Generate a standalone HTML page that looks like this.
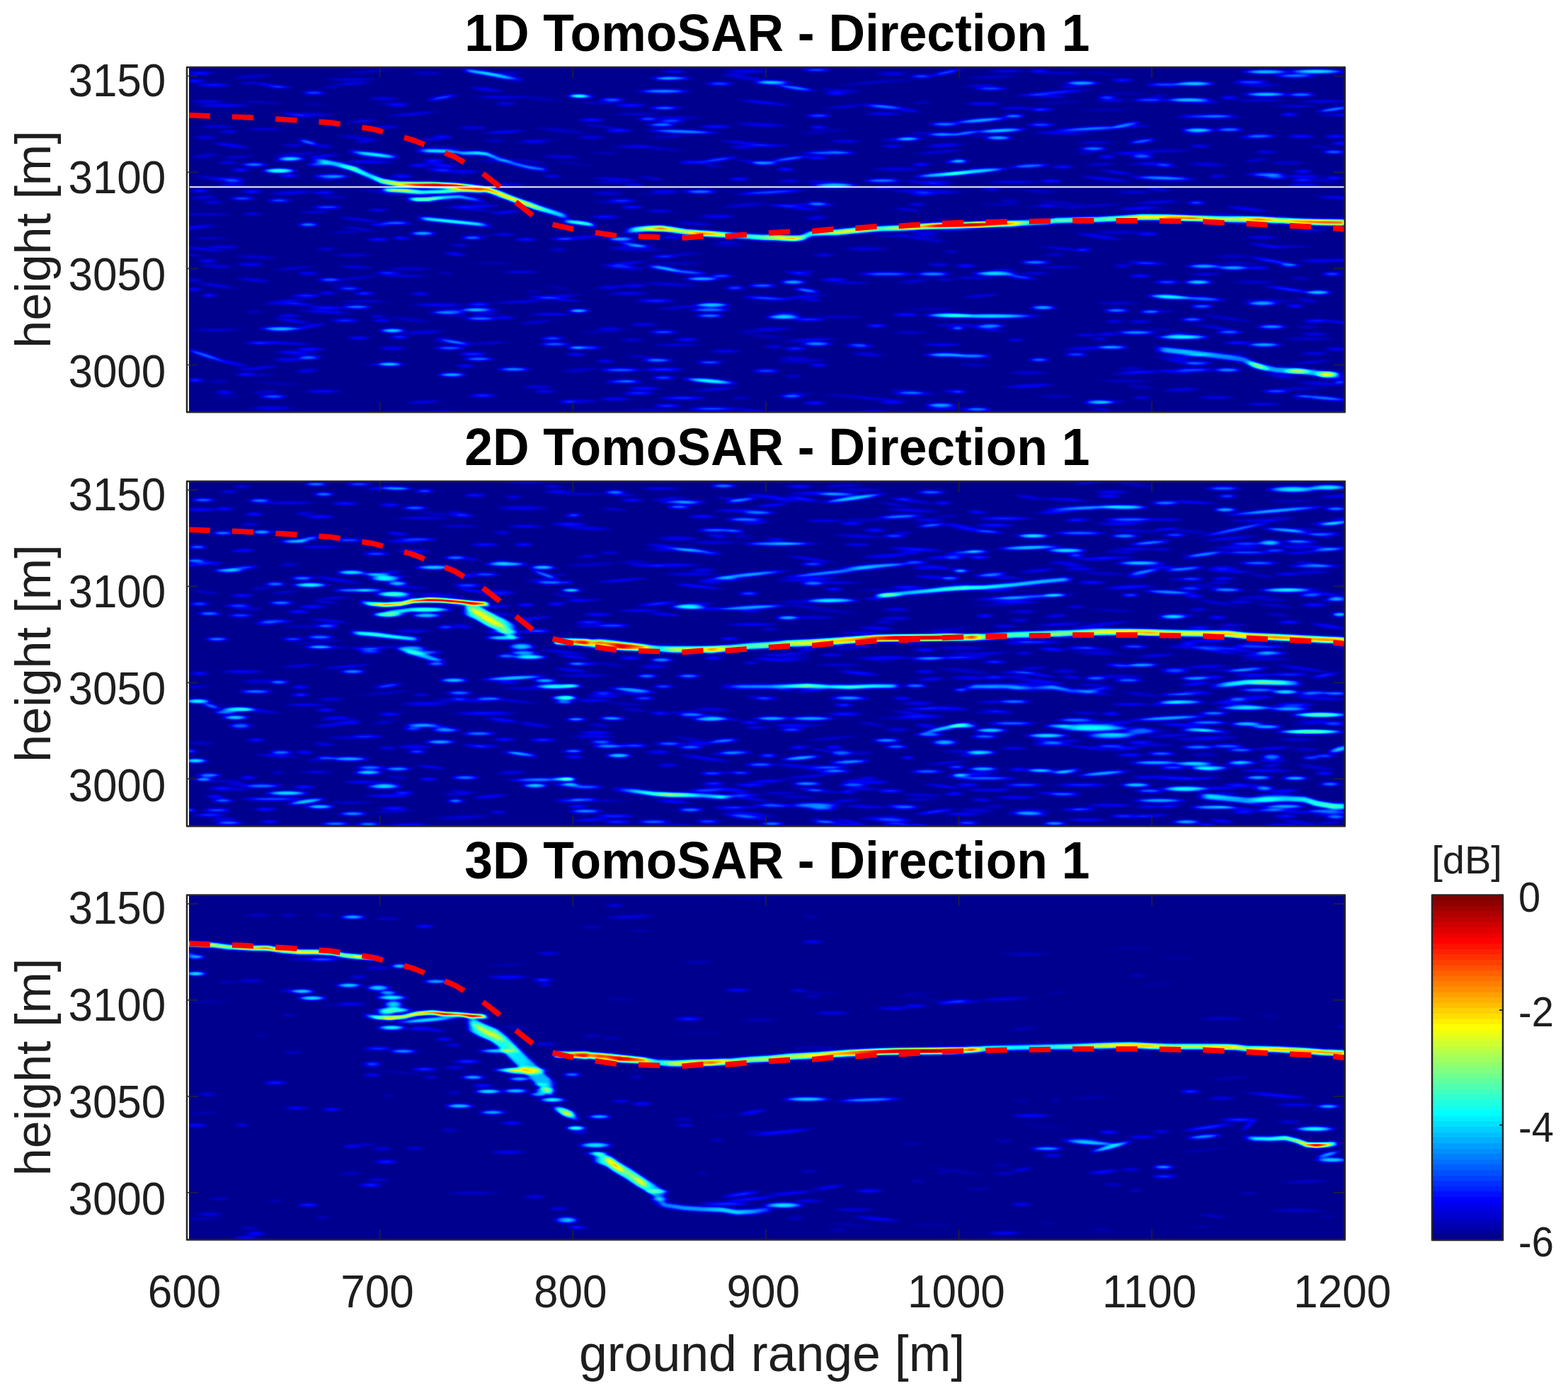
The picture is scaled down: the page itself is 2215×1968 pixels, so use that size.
<!DOCTYPE html>
<html lang="en"><head><meta charset="utf-8"><title>TomoSAR - Direction 1</title>
<style>html,body{margin:0;padding:0;background:#fff}body{width:2215px;height:1968px;overflow:hidden}svg{display:block}text{font-family:"Liberation Sans",Arial,Helvetica,sans-serif}.tk{font-size:62px;fill:#1e1e1e}.cb{font-size:56px;fill:#1e1e1e}.lb{font-size:70px;fill:#1e1e1e}.xl{font-size:71.6px;fill:#1e1e1e}.tt{font-size:71.4px;font-weight:bold;fill:#000}.r{fill:none;stroke-linecap:butt;stroke-linejoin:round}.b{fill:url(#bg)}.dem{fill:none;stroke:#f00;stroke-width:7.7;stroke-dasharray:30.3 31.1;stroke-linejoin:round}</style></head><body>
<svg width="2215" height="1968" viewBox="0 0 2215 1968">
<defs>
<filter id="jet" filterUnits="userSpaceOnUse" x="0" y="0" width="2215" height="1968" color-interpolation-filters="sRGB"><feComponentTransfer><feFuncR type="table" tableValues="0 0 0 0 0 0 0 0 0 0 0 0 0 0 0 0 0 0 0 0 0 0 0 0 0.039 0.101 0.162 0.224 0.285 0.347 0.408 0.47 0.531 0.593 0.654 0.716 0.777 0.839 0.9 0.962 1 1 1 1 1 1 1 1 1 1 1 1 1 1 1 1 0.992 0.931 0.869 0.808 0.746 0.685 0.623 0.562 0.5"/><feFuncG type="table" tableValues="0 0 0 0 0 0 0 0 0.055 0.116 0.178 0.239 0.301 0.362 0.424 0.485 0.547 0.608 0.67 0.731 0.793 0.854 0.916 0.978 1 1 1 1 1 1 1 1 1 1 1 1 1 1 1 1 0.977 0.915 0.854 0.792 0.73 0.669 0.607 0.546 0.484 0.423 0.361 0.3 0.238 0.177 0.115 0.054 0 0 0 0 0 0 0 0 0"/><feFuncB type="table" tableValues="0.562 0.624 0.686 0.747 0.809 0.87 0.932 0.993 1 1 1 1 1 1 1 1 1 1 1 1 1 1 1 1 0.961 0.899 0.838 0.776 0.715 0.653 0.592 0.53 0.469 0.407 0.346 0.284 0.223 0.161 0.1 0.038 0 0 0 0 0 0 0 0 0 0 0 0 0 0 0 0 0 0 0 0 0 0 0 0 0"/></feComponentTransfer></filter>
<filter id="bl" filterUnits="userSpaceOnUse" x="0" y="0" width="2215" height="1968" color-interpolation-filters="sRGB"><feGaussianBlur stdDeviation="2.6 1.8"/></filter>
<filter id="bs" filterUnits="userSpaceOnUse" x="0" y="0" width="2215" height="1968" color-interpolation-filters="sRGB"><feGaussianBlur stdDeviation="2.4 1.0"/></filter>
<radialGradient id="bg"><stop offset="0" stop-color="#fff" stop-opacity="1"/><stop offset="0.35" stop-color="#fff" stop-opacity="0.95"/><stop offset="0.55" stop-color="#fff" stop-opacity="0.75"/><stop offset="0.72" stop-color="#fff" stop-opacity="0.45"/><stop offset="0.87" stop-color="#fff" stop-opacity="0.16"/><stop offset="1" stop-color="#fff" stop-opacity="0"/></radialGradient>
<linearGradient id="cbg" x1="0" y1="1" x2="0" y2="0"><stop offset="0.0000" stop-color="#00008f"/><stop offset="0.0156" stop-color="#00008f"/><stop offset="0.0156" stop-color="#00009f"/><stop offset="0.0312" stop-color="#00009f"/><stop offset="0.0312" stop-color="#0000af"/><stop offset="0.0469" stop-color="#0000af"/><stop offset="0.0469" stop-color="#0000bf"/><stop offset="0.0625" stop-color="#0000bf"/><stop offset="0.0625" stop-color="#0000cf"/><stop offset="0.0781" stop-color="#0000cf"/><stop offset="0.0781" stop-color="#0000df"/><stop offset="0.0938" stop-color="#0000df"/><stop offset="0.0938" stop-color="#0000ef"/><stop offset="0.1094" stop-color="#0000ef"/><stop offset="0.1094" stop-color="#0000ff"/><stop offset="0.1250" stop-color="#0000ff"/><stop offset="0.1250" stop-color="#0010ff"/><stop offset="0.1406" stop-color="#0010ff"/><stop offset="0.1406" stop-color="#0020ff"/><stop offset="0.1562" stop-color="#0020ff"/><stop offset="0.1562" stop-color="#0030ff"/><stop offset="0.1719" stop-color="#0030ff"/><stop offset="0.1719" stop-color="#0040ff"/><stop offset="0.1875" stop-color="#0040ff"/><stop offset="0.1875" stop-color="#0050ff"/><stop offset="0.2031" stop-color="#0050ff"/><stop offset="0.2031" stop-color="#0060ff"/><stop offset="0.2188" stop-color="#0060ff"/><stop offset="0.2188" stop-color="#0070ff"/><stop offset="0.2344" stop-color="#0070ff"/><stop offset="0.2344" stop-color="#0080ff"/><stop offset="0.2500" stop-color="#0080ff"/><stop offset="0.2500" stop-color="#008fff"/><stop offset="0.2656" stop-color="#008fff"/><stop offset="0.2656" stop-color="#009fff"/><stop offset="0.2812" stop-color="#009fff"/><stop offset="0.2812" stop-color="#00afff"/><stop offset="0.2969" stop-color="#00afff"/><stop offset="0.2969" stop-color="#00bfff"/><stop offset="0.3125" stop-color="#00bfff"/><stop offset="0.3125" stop-color="#00cfff"/><stop offset="0.3281" stop-color="#00cfff"/><stop offset="0.3281" stop-color="#00dfff"/><stop offset="0.3438" stop-color="#00dfff"/><stop offset="0.3438" stop-color="#00efff"/><stop offset="0.3594" stop-color="#00efff"/><stop offset="0.3594" stop-color="#00ffff"/><stop offset="0.3750" stop-color="#00ffff"/><stop offset="0.3750" stop-color="#10ffef"/><stop offset="0.3906" stop-color="#10ffef"/><stop offset="0.3906" stop-color="#20ffdf"/><stop offset="0.4062" stop-color="#20ffdf"/><stop offset="0.4062" stop-color="#30ffcf"/><stop offset="0.4219" stop-color="#30ffcf"/><stop offset="0.4219" stop-color="#40ffbf"/><stop offset="0.4375" stop-color="#40ffbf"/><stop offset="0.4375" stop-color="#50ffaf"/><stop offset="0.4531" stop-color="#50ffaf"/><stop offset="0.4531" stop-color="#60ff9f"/><stop offset="0.4688" stop-color="#60ff9f"/><stop offset="0.4688" stop-color="#70ff8f"/><stop offset="0.4844" stop-color="#70ff8f"/><stop offset="0.4844" stop-color="#80ff80"/><stop offset="0.5000" stop-color="#80ff80"/><stop offset="0.5000" stop-color="#8fff70"/><stop offset="0.5156" stop-color="#8fff70"/><stop offset="0.5156" stop-color="#9fff60"/><stop offset="0.5312" stop-color="#9fff60"/><stop offset="0.5312" stop-color="#afff50"/><stop offset="0.5469" stop-color="#afff50"/><stop offset="0.5469" stop-color="#bfff40"/><stop offset="0.5625" stop-color="#bfff40"/><stop offset="0.5625" stop-color="#cfff30"/><stop offset="0.5781" stop-color="#cfff30"/><stop offset="0.5781" stop-color="#dfff20"/><stop offset="0.5938" stop-color="#dfff20"/><stop offset="0.5938" stop-color="#efff10"/><stop offset="0.6094" stop-color="#efff10"/><stop offset="0.6094" stop-color="#ffff00"/><stop offset="0.6250" stop-color="#ffff00"/><stop offset="0.6250" stop-color="#ffef00"/><stop offset="0.6406" stop-color="#ffef00"/><stop offset="0.6406" stop-color="#ffdf00"/><stop offset="0.6562" stop-color="#ffdf00"/><stop offset="0.6562" stop-color="#ffcf00"/><stop offset="0.6719" stop-color="#ffcf00"/><stop offset="0.6719" stop-color="#ffbf00"/><stop offset="0.6875" stop-color="#ffbf00"/><stop offset="0.6875" stop-color="#ffaf00"/><stop offset="0.7031" stop-color="#ffaf00"/><stop offset="0.7031" stop-color="#ff9f00"/><stop offset="0.7188" stop-color="#ff9f00"/><stop offset="0.7188" stop-color="#ff8f00"/><stop offset="0.7344" stop-color="#ff8f00"/><stop offset="0.7344" stop-color="#ff8000"/><stop offset="0.7500" stop-color="#ff8000"/><stop offset="0.7500" stop-color="#ff7000"/><stop offset="0.7656" stop-color="#ff7000"/><stop offset="0.7656" stop-color="#ff6000"/><stop offset="0.7812" stop-color="#ff6000"/><stop offset="0.7812" stop-color="#ff5000"/><stop offset="0.7969" stop-color="#ff5000"/><stop offset="0.7969" stop-color="#ff4000"/><stop offset="0.8125" stop-color="#ff4000"/><stop offset="0.8125" stop-color="#ff3000"/><stop offset="0.8281" stop-color="#ff3000"/><stop offset="0.8281" stop-color="#ff2000"/><stop offset="0.8438" stop-color="#ff2000"/><stop offset="0.8438" stop-color="#ff1000"/><stop offset="0.8594" stop-color="#ff1000"/><stop offset="0.8594" stop-color="#ff0000"/><stop offset="0.8750" stop-color="#ff0000"/><stop offset="0.8750" stop-color="#ef0000"/><stop offset="0.8906" stop-color="#ef0000"/><stop offset="0.8906" stop-color="#df0000"/><stop offset="0.9062" stop-color="#df0000"/><stop offset="0.9062" stop-color="#cf0000"/><stop offset="0.9219" stop-color="#cf0000"/><stop offset="0.9219" stop-color="#bf0000"/><stop offset="0.9375" stop-color="#bf0000"/><stop offset="0.9375" stop-color="#af0000"/><stop offset="0.9531" stop-color="#af0000"/><stop offset="0.9531" stop-color="#9f0000"/><stop offset="0.9688" stop-color="#9f0000"/><stop offset="0.9688" stop-color="#8f0000"/><stop offset="0.9844" stop-color="#8f0000"/><stop offset="0.9844" stop-color="#800000"/><stop offset="1.0000" stop-color="#800000"/></linearGradient>
<clipPath id="cp1"><rect x="267.5" y="95" width="1632.3" height="487.2"/></clipPath>
<clipPath id="cp2"><rect x="267.5" y="680" width="1632.3" height="487.2"/></clipPath>
<clipPath id="cp3"><rect x="267.5" y="1264.4" width="1632.3" height="487.2"/></clipPath>
<path id="dem" d="M266.5 67.9L342 70.5L404 74L465.5 78.1L527 87.5L577 101L585 103.5L642 126.5L681.6 149.8L705.2 168.2L727.8 189.8L752.5 209.3L780.2 222.1L810 228.8L840.8 233.6L871.2 238.1L902 239.1L932.9 240.1L963.1 241.1L993.9 238.6L1024.7 238.9L1054.9 236.4L1086.7 234.2L1116.5 232.2L1147.3 231.6L1177.1 228.6L1209 227.4L1238.8 224.8L1270 224.3L1300.4 222.3L1332.2 220.6L1361.6 219.6L1392.5 218.8L1423.7 218.2L1454.5 217.8L1516.7 216.8L1545.9 216.8L1607.5 216.8L1639 217.2L1668.8 217.6L1700 218.2L1730.8 219.8L1761.6 220.9L1791.6 222.8L1822.9 223.9L1853.7 225.4L1884.5 227.4L1898.5 228.9"/>
</defs>
<rect width="2215" height="1968" fill="#fff"/>
<g id="panel1">
<g clip-path="url(#cp1)"><g filter="url(#jet)">
<rect x="247.5" y="75" width="1672.3" height="527.2" fill="#000"/>
<g filter="url(#bs)">
<ellipse class="b" cx="624.4" cy="137.9" rx="25.1" ry="3.5" opacity="0.19" transform="rotate(-10 624.4 137.9)"/>
<ellipse class="b" cx="410.7" cy="224.2" rx="23.2" ry="4.1" opacity="0.33"/>
<ellipse class="b" cx="358.6" cy="232.5" rx="21.3" ry="3.7" opacity="0.24"/>
<ellipse class="b" cx="394.2" cy="241.2" rx="27" ry="4.5" opacity="0.42"/>
<ellipse class="b" cx="339.5" cy="240.1" rx="15.5" ry="3.2" opacity="0.14"/>
<ellipse class="b" cx="468.2" cy="248.9" rx="30.9" ry="3.7" opacity="0.24"/>
<ellipse class="b" cx="435.3" cy="201" rx="17.4" ry="3.7" opacity="0.24" transform="rotate(15 435.3 201)"/>
<ellipse class="b" cx="323" cy="185.9" rx="17.4" ry="3" opacity="0.10"/>
<ellipse class="b" cx="290.1" cy="194.1" rx="19.3" ry="3" opacity="0.10"/>
<ellipse class="b" cx="281.9" cy="103.7" rx="21.3" ry="3.2" opacity="0.14"/>
<ellipse class="b" cx="301.1" cy="120.1" rx="28.9" ry="3.2" opacity="0.14"/>
<ellipse class="b" cx="276.4" cy="114.7" rx="15.5" ry="3.2" opacity="0.14"/>
<ellipse class="b" cx="394.2" cy="122.9" rx="21.3" ry="3" opacity="0.10"/>
<ellipse class="b" cx="443.6" cy="131.1" rx="19.3" ry="3.5" opacity="0.19"/>
<ellipse class="b" cx="292.9" cy="143.4" rx="28.9" ry="3" opacity="0.10"/>
<ellipse class="b" cx="542.2" cy="139.3" rx="25.1" ry="3" opacity="0.10"/>
<ellipse class="b" cx="561.4" cy="148.9" rx="17.4" ry="3" opacity="0.10"/>
<ellipse class="b" cx="668.2" cy="180.4" rx="25.1" ry="3" opacity="0.10"/>
<ellipse class="b" cx="624.4" cy="193.6" rx="17.4" ry="3.2" opacity="0.14"/>
<ellipse class="b" cx="816.2" cy="135.2" rx="15.5" ry="3.7" opacity="0.24"/>
<ellipse class="b" cx="602.5" cy="103.7" rx="25.1" ry="2.9" opacity="0.07"/>
<ellipse class="b" cx="331.2" cy="255.8" rx="17.4" ry="3.2" opacity="0.14"/>
<ellipse class="b" cx="295.6" cy="218.8" rx="17.4" ry="2.9" opacity="0.07"/>
<ellipse class="b" cx="323" cy="229.7" rx="17.4" ry="3" opacity="0.10"/>
<ellipse class="b" cx="407.9" cy="248.4" rx="17.4" ry="3.2" opacity="0.14"/>
<ellipse class="b" cx="449" cy="232.5" rx="19.3" ry="3.5" opacity="0.19"/>
<ellipse class="b" cx="355.9" cy="270.8" rx="17.4" ry="3.2" opacity="0.14"/>
<ellipse class="b" cx="281.9" cy="269.5" rx="15.5" ry="3.2" opacity="0.14"/>
<ellipse class="b" cx="342.2" cy="280.4" rx="21.3" ry="3.5" opacity="0.19"/>
<ellipse class="b" cx="394.2" cy="283.2" rx="19.3" ry="3.5" opacity="0.19"/>
<ellipse class="b" cx="301.1" cy="285.9" rx="17.4" ry="3" opacity="0.10"/>
<ellipse class="b" cx="457.3" cy="272.2" rx="19.3" ry="3.2" opacity="0.14"/>
<ellipse class="b" cx="462.7" cy="292.7" rx="25.1" ry="3.5" opacity="0.19"/>
<ellipse class="b" cx="435.3" cy="317.4" rx="17.4" ry="3.7" opacity="0.24"/>
<ellipse class="b" cx="355.9" cy="302.3" rx="15.5" ry="3" opacity="0.10"/>
<ellipse class="b" cx="558.6" cy="314.7" rx="25.1" ry="3.5" opacity="0.19"/>
<ellipse class="b" cx="597" cy="329.7" rx="21.3" ry="3.9" opacity="0.29"/>
<ellipse class="b" cx="534" cy="296.8" rx="17.4" ry="3" opacity="0.10"/>
<ellipse class="b" cx="536.7" cy="317.4" rx="17.4" ry="3.2" opacity="0.14"/>
<ellipse class="b" cx="780.5" cy="248.9" rx="15.5" ry="3" opacity="0.10"/>
<ellipse class="b" cx="665.5" cy="335.2" rx="17.4" ry="3" opacity="0.10"/>
<ellipse class="b" cx="712.1" cy="331.1" rx="19.3" ry="3" opacity="0.10"/>
<ellipse class="b" cx="613.4" cy="227" rx="17.4" ry="3.2" opacity="0.14"/>
<ellipse class="b" cx="591.5" cy="233.8" rx="17.4" ry="3.2" opacity="0.14"/>
<ellipse class="b" cx="621.6" cy="240.1" rx="21.3" ry="3.2" opacity="0.14"/>
<ellipse class="b" cx="566.8" cy="248.9" rx="19.3" ry="3.2" opacity="0.14"/>
<ellipse class="b" cx="514.8" cy="199.6" rx="15.5" ry="3" opacity="0.10"/>
<ellipse class="b" cx="457.3" cy="206.4" rx="15.5" ry="3" opacity="0.10"/>
<ellipse class="b" cx="350.4" cy="117.4" rx="15.5" ry="2.9" opacity="0.07"/>
<ellipse class="b" cx="468.2" cy="122.9" rx="15.5" ry="2.9" opacity="0.07"/>
<ellipse class="b" cx="947.9" cy="110.5" rx="32.8" ry="3.7" opacity="0.24"/>
<ellipse class="b" cx="1016.4" cy="118.2" rx="23.2" ry="3.5" opacity="0.19"/>
<ellipse class="b" cx="1090.4" cy="116.6" rx="28.9" ry="4" opacity="0.32"/>
<ellipse class="b" cx="1123.3" cy="124.2" rx="32.8" ry="3.7" opacity="0.24" transform="rotate(8 1123.3 124.2)"/>
<ellipse class="b" cx="1153.4" cy="98.8" rx="23.2" ry="3.5" opacity="0.19"/>
<ellipse class="b" cx="1301.4" cy="107.8" rx="19.3" ry="3.5" opacity="0.19"/>
<ellipse class="b" cx="1337" cy="102.3" rx="27" ry="3.5" opacity="0.19" transform="rotate(-12 1337 102.3)"/>
<ellipse class="b" cx="937" cy="128.9" rx="42.4" ry="3.8" opacity="0.26"/>
<ellipse class="b" cx="819.2" cy="136" rx="21.3" ry="3.5" opacity="0.19"/>
<ellipse class="b" cx="863" cy="140.7" rx="19.3" ry="3.5" opacity="0.19"/>
<ellipse class="b" cx="1180.8" cy="131.9" rx="19.3" ry="3.2" opacity="0.14"/>
<ellipse class="b" cx="890.4" cy="148.9" rx="27" ry="3.2" opacity="0.14"/>
<ellipse class="b" cx="937" cy="152.5" rx="23.2" ry="3.5" opacity="0.19"/>
<ellipse class="b" cx="1249.3" cy="150.8" rx="34.7" ry="3.7" opacity="0.24" transform="rotate(5 1249.3 150.8)"/>
<ellipse class="b" cx="1156.2" cy="163.4" rx="21.3" ry="3.5" opacity="0.19"/>
<ellipse class="b" cx="835.6" cy="169.5" rx="23.2" ry="3.2" opacity="0.14"/>
<ellipse class="b" cx="915.1" cy="168.1" rx="17.4" ry="3.5" opacity="0.19"/>
<ellipse class="b" cx="947.9" cy="170.8" rx="23.2" ry="3.5" opacity="0.19"/>
<ellipse class="b" cx="934.2" cy="176.3" rx="23.2" ry="3.7" opacity="0.24"/>
<ellipse class="b" cx="1011" cy="179" rx="27" ry="3.2" opacity="0.14"/>
<ellipse class="b" cx="874" cy="184.5" rx="23.2" ry="3.2" opacity="0.14"/>
<ellipse class="b" cx="964.4" cy="185.9" rx="57.7" ry="3.8" opacity="0.26" transform="rotate(2 964.4 185.9)"/>
<ellipse class="b" cx="1334.2" cy="175.5" rx="25.1" ry="3.7" opacity="0.24"/>
<ellipse class="b" cx="1156.2" cy="179.9" rx="15.5" ry="3.2" opacity="0.14"/>
<ellipse class="b" cx="835.6" cy="194.1" rx="23.2" ry="3" opacity="0.10"/>
<ellipse class="b" cx="1331.5" cy="190" rx="27" ry="3.8" opacity="0.26"/>
<ellipse class="b" cx="1282.2" cy="196.3" rx="19.3" ry="3.6" opacity="0.22"/>
<ellipse class="b" cx="1194.5" cy="199.6" rx="27" ry="3" opacity="0.10"/>
<ellipse class="b" cx="1260.3" cy="206.4" rx="19.3" ry="3" opacity="0.10"/>
<ellipse class="b" cx="1049.3" cy="207.8" rx="23.2" ry="3" opacity="0.10"/>
<ellipse class="b" cx="1169.9" cy="216" rx="42.4" ry="3.6" opacity="0.22"/>
<ellipse class="b" cx="1115.1" cy="224.2" rx="32.8" ry="3.6" opacity="0.22" transform="rotate(-8 1115.1 224.2)"/>
<ellipse class="b" cx="1079.5" cy="230.3" rx="23.2" ry="3.8" opacity="0.26"/>
<ellipse class="b" cx="1153.4" cy="222.9" rx="19.3" ry="3.2" opacity="0.14"/>
<ellipse class="b" cx="1013.7" cy="225.6" rx="32.8" ry="3.5" opacity="0.19" transform="rotate(-8 1013.7 225.6)"/>
<ellipse class="b" cx="978.1" cy="229.2" rx="23.2" ry="3.2" opacity="0.14"/>
<ellipse class="b" cx="1350.7" cy="228.4" rx="19.3" ry="3.5" opacity="0.19"/>
<ellipse class="b" cx="1301.4" cy="232.5" rx="15.5" ry="3.2" opacity="0.14"/>
<ellipse class="b" cx="1109.6" cy="239.3" rx="15.5" ry="3.2" opacity="0.14"/>
<ellipse class="b" cx="1043.8" cy="253" rx="17.4" ry="3.2" opacity="0.14"/>
<ellipse class="b" cx="1246.6" cy="255.2" rx="30.9" ry="3.7" opacity="0.24"/>
<ellipse class="b" cx="1331.5" cy="246.7" rx="46.2" ry="4.1" opacity="0.33" transform="rotate(-4 1331.5 246.7)"/>
<ellipse class="b" cx="1178.1" cy="262.1" rx="38.5" ry="4.1" opacity="0.33"/>
<ellipse class="b" cx="1115.1" cy="255.8" rx="19.3" ry="3" opacity="0.10"/>
<ellipse class="b" cx="989" cy="270.8" rx="27" ry="3.7" opacity="0.24"/>
<ellipse class="b" cx="1087.7" cy="271.6" rx="57.7" ry="3.5" opacity="0.19" transform="rotate(-3 1087.7 271.6)"/>
<ellipse class="b" cx="879.5" cy="283.2" rx="23.2" ry="3.2" opacity="0.14"/>
<ellipse class="b" cx="893.2" cy="292.7" rx="19.3" ry="3.2" opacity="0.14"/>
<ellipse class="b" cx="1153.4" cy="287.3" rx="17.4" ry="3.5" opacity="0.19"/>
<ellipse class="b" cx="1295.9" cy="288.6" rx="15.5" ry="3" opacity="0.10"/>
<ellipse class="b" cx="931.5" cy="298.2" rx="23.2" ry="3" opacity="0.10"/>
<ellipse class="b" cx="854.8" cy="306.4" rx="23.2" ry="3.2" opacity="0.14"/>
<ellipse class="b" cx="937" cy="270.8" rx="23.2" ry="3" opacity="0.10"/>
<ellipse class="b" cx="1788.4" cy="101.5" rx="38.5" ry="4" opacity="0.32"/>
<ellipse class="b" cx="1859.6" cy="101" rx="46.2" ry="4.2" opacity="0.35"/>
<ellipse class="b" cx="1829.5" cy="107" rx="32.8" ry="3.7" opacity="0.24"/>
<ellipse class="b" cx="1528.1" cy="117.4" rx="28.9" ry="3.9" opacity="0.29"/>
<ellipse class="b" cx="1687" cy="118.2" rx="32.8" ry="4.1" opacity="0.33"/>
<ellipse class="b" cx="1645.9" cy="119.6" rx="32.8" ry="3.5" opacity="0.19"/>
<ellipse class="b" cx="1399.3" cy="125.1" rx="27" ry="3.5" opacity="0.19"/>
<ellipse class="b" cx="1487" cy="131.1" rx="61.5" ry="3.3" opacity="0.16" transform="rotate(-5 1487 131.1)"/>
<ellipse class="b" cx="1788.4" cy="133.3" rx="36.6" ry="4" opacity="0.32"/>
<ellipse class="b" cx="1837.7" cy="133.8" rx="23.2" ry="3.7" opacity="0.24"/>
<ellipse class="b" cx="1766.4" cy="116" rx="28.9" ry="3.5" opacity="0.19"/>
<ellipse class="b" cx="1585.6" cy="113.3" rx="19.3" ry="3.2" opacity="0.14"/>
<ellipse class="b" cx="1467.8" cy="100.4" rx="17.4" ry="3.2" opacity="0.14"/>
<ellipse class="b" cx="1678.8" cy="141.2" rx="38.5" ry="4" opacity="0.32"/>
<ellipse class="b" cx="1624" cy="141.2" rx="28.9" ry="3.5" opacity="0.19"/>
<ellipse class="b" cx="1563.7" cy="137.9" rx="15.5" ry="3.5" opacity="0.19"/>
<ellipse class="b" cx="1736.3" cy="137.9" rx="15.5" ry="3.2" opacity="0.14"/>
<ellipse class="b" cx="1884.2" cy="154.4" rx="28.9" ry="3.7" opacity="0.24" transform="rotate(-8 1884.2 154.4)"/>
<ellipse class="b" cx="1473.3" cy="154.4" rx="19.3" ry="3.2" opacity="0.14"/>
<ellipse class="b" cx="1706.2" cy="164.5" rx="51.9" ry="3.5" opacity="0.19"/>
<ellipse class="b" cx="1821.2" cy="161.8" rx="15.5" ry="3.2" opacity="0.14"/>
<ellipse class="b" cx="1385.6" cy="170" rx="46.2" ry="3.9" opacity="0.29" transform="rotate(-5 1385.6 170)"/>
<ellipse class="b" cx="1432.2" cy="164" rx="17.4" ry="3.7" opacity="0.24"/>
<ellipse class="b" cx="1470.5" cy="176.3" rx="23.2" ry="3.5" opacity="0.19"/>
<ellipse class="b" cx="1413" cy="184.5" rx="42.4" ry="4" opacity="0.32" transform="rotate(-3 1413 184.5)"/>
<ellipse class="b" cx="1363.7" cy="188.1" rx="23.2" ry="3.7" opacity="0.24" transform="rotate(-8 1363.7 188.1)"/>
<ellipse class="b" cx="1541.8" cy="181.8" rx="61.5" ry="3.7" opacity="0.24" transform="rotate(-3 1541.8 181.8)"/>
<ellipse class="b" cx="1591.1" cy="176.3" rx="23.2" ry="3.7" opacity="0.24" transform="rotate(-10 1591.1 176.3)"/>
<ellipse class="b" cx="1692.5" cy="184" rx="27" ry="4.1" opacity="0.33"/>
<ellipse class="b" cx="1736.3" cy="183.2" rx="23.2" ry="3.7" opacity="0.24"/>
<ellipse class="b" cx="1410.3" cy="194.7" rx="23.2" ry="3.9" opacity="0.29"/>
<ellipse class="b" cx="1780.1" cy="192.2" rx="27" ry="3.6" opacity="0.22"/>
<ellipse class="b" cx="1837.7" cy="192.7" rx="23.2" ry="3.2" opacity="0.14"/>
<ellipse class="b" cx="1613" cy="199.6" rx="23.2" ry="3.6" opacity="0.22" transform="rotate(-8 1613 199.6)"/>
<ellipse class="b" cx="1887" cy="192.7" rx="19.3" ry="3.2" opacity="0.14"/>
<ellipse class="b" cx="1892.5" cy="202.3" rx="13.6" ry="3.2" opacity="0.14"/>
<ellipse class="b" cx="1544.5" cy="210" rx="23.2" ry="3.7" opacity="0.24"/>
<ellipse class="b" cx="1613" cy="221" rx="19.3" ry="3.6" opacity="0.22"/>
<ellipse class="b" cx="1563.7" cy="221.5" rx="13.6" ry="3.2" opacity="0.14"/>
<ellipse class="b" cx="1884.2" cy="214.7" rx="19.3" ry="3.6" opacity="0.22"/>
<ellipse class="b" cx="1695.2" cy="206.4" rx="19.3" ry="3" opacity="0.10"/>
<ellipse class="b" cx="1788.4" cy="214.7" rx="19.3" ry="3" opacity="0.10"/>
<ellipse class="b" cx="1645.9" cy="232.5" rx="15.5" ry="3.2" opacity="0.14"/>
<ellipse class="b" cx="1377.4" cy="242.1" rx="53.8" ry="4.2" opacity="0.35" transform="rotate(-5 1377.4 242.1)"/>
<ellipse class="b" cx="1454.1" cy="234.4" rx="32.8" ry="3.7" opacity="0.24" transform="rotate(-3 1454.1 234.4)"/>
<ellipse class="b" cx="1355.5" cy="227" rx="13.6" ry="3.5" opacity="0.19"/>
<ellipse class="b" cx="1500.7" cy="235.8" rx="19.3" ry="3.2" opacity="0.14"/>
<ellipse class="b" cx="1643.2" cy="251.6" rx="51.9" ry="3.8" opacity="0.26" transform="rotate(2 1643.2 251.6)"/>
<ellipse class="b" cx="1788.4" cy="246.2" rx="32.8" ry="3.5" opacity="0.19"/>
<ellipse class="b" cx="1802.1" cy="250.3" rx="19.3" ry="3.5" opacity="0.19"/>
<ellipse class="b" cx="1840.4" cy="242.1" rx="15.5" ry="3.2" opacity="0.14"/>
<ellipse class="b" cx="1840.4" cy="254.4" rx="19.3" ry="3.3" opacity="0.16"/>
<ellipse class="b" cx="1884.2" cy="251.6" rx="15.5" ry="3.2" opacity="0.14"/>
<ellipse class="b" cx="1484.2" cy="255.8" rx="19.3" ry="3.2" opacity="0.14"/>
<ellipse class="b" cx="1432.2" cy="257.1" rx="42.4" ry="3" opacity="0.10"/>
<ellipse class="b" cx="1719.9" cy="248.9" rx="15.5" ry="3" opacity="0.10"/>
<ellipse class="b" cx="1689.7" cy="286.4" rx="15.5" ry="3.5" opacity="0.19"/>
<ellipse class="b" cx="1426.7" cy="284" rx="15.5" ry="2.9" opacity="0.07"/>
<ellipse class="b" cx="1478.8" cy="289.5" rx="13.6" ry="2.9" opacity="0.07"/>
<ellipse class="b" cx="1621.2" cy="330.5" rx="19.3" ry="3.2" opacity="0.14"/>
<ellipse class="b" cx="1399.3" cy="267.5" rx="15.5" ry="3" opacity="0.10"/>
<ellipse class="b" cx="397" cy="464.3" rx="34.7" ry="3.8" opacity="0.29"/>
<ellipse class="b" cx="438.1" cy="461" rx="27" ry="3.3" opacity="0.12" transform="rotate(-10 438.1 461)"/>
<ellipse class="b" cx="487.4" cy="452.8" rx="23.2" ry="3.4" opacity="0.16"/>
<ellipse class="b" cx="554.5" cy="467.1" rx="21.3" ry="4" opacity="0.33"/>
<ellipse class="b" cx="564.1" cy="476.1" rx="15.5" ry="3.4" opacity="0.16"/>
<ellipse class="b" cx="550.4" cy="514.5" rx="21.3" ry="3.8" opacity="0.28"/>
<ellipse class="b" cx="638.1" cy="529.5" rx="23.2" ry="3.8" opacity="0.29"/>
<ellipse class="b" cx="632.6" cy="441.3" rx="28.9" ry="3.7" opacity="0.25"/>
<ellipse class="b" cx="673.7" cy="436.9" rx="25.1" ry="3.6" opacity="0.21"/>
<ellipse class="b" cx="676.4" cy="430.1" rx="19.3" ry="3.4" opacity="0.16"/>
<ellipse class="b" cx="679.2" cy="450.1" rx="27" ry="3.6" opacity="0.23"/>
<ellipse class="b" cx="712.1" cy="448.7" rx="19.3" ry="3.3" opacity="0.12"/>
<ellipse class="b" cx="725.8" cy="521.8" rx="27" ry="3.7" opacity="0.25"/>
<ellipse class="b" cx="676.4" cy="507.1" rx="25.1" ry="3.6" opacity="0.23"/>
<ellipse class="b" cx="668.2" cy="500.2" rx="23.2" ry="3.4" opacity="0.16"/>
<ellipse class="b" cx="635.3" cy="491.7" rx="25.1" ry="3.6" opacity="0.21"/>
<ellipse class="b" cx="640.8" cy="482.9" rx="30.9" ry="3.5" opacity="0.19" transform="rotate(12 640.8 482.9)"/>
<ellipse class="b" cx="780.5" cy="478" rx="19.3" ry="3.5" opacity="0.19"/>
<ellipse class="b" cx="783.3" cy="486.2" rx="25.1" ry="3.6" opacity="0.21"/>
<ellipse class="b" cx="816.2" cy="439.1" rx="15.5" ry="3.5" opacity="0.19"/>
<ellipse class="b" cx="813.4" cy="491.2" rx="15.5" ry="3.4" opacity="0.16"/>
<ellipse class="b" cx="290.1" cy="502.1" rx="34.7" ry="3.6" opacity="0.23" transform="rotate(18 290.1 502.1)"/>
<ellipse class="b" cx="328.5" cy="513.1" rx="27" ry="3.3" opacity="0.12" transform="rotate(12 328.5 513.1)"/>
<ellipse class="b" cx="435.3" cy="505.4" rx="19.3" ry="3.6" opacity="0.23"/>
<ellipse class="b" cx="407.9" cy="508.2" rx="27" ry="3.3" opacity="0.12"/>
<ellipse class="b" cx="438.1" cy="493.4" rx="23.2" ry="3.3" opacity="0.14"/>
<ellipse class="b" cx="350.4" cy="521.3" rx="19.3" ry="3" opacity="0.08"/>
<ellipse class="b" cx="347.7" cy="529" rx="19.3" ry="3.3" opacity="0.14"/>
<ellipse class="b" cx="276.4" cy="537.2" rx="15.5" ry="3.4" opacity="0.16"/>
<ellipse class="b" cx="386" cy="560.2" rx="23.2" ry="3.6" opacity="0.21"/>
<ellipse class="b" cx="317.5" cy="554.2" rx="15.5" ry="3.3" opacity="0.12"/>
<ellipse class="b" cx="681.9" cy="558.8" rx="23.2" ry="3.4" opacity="0.16"/>
<ellipse class="b" cx="769.6" cy="552.8" rx="19.3" ry="3.2" opacity="0.11"/>
<ellipse class="b" cx="802.5" cy="567.9" rx="15.5" ry="3.3" opacity="0.12"/>
<ellipse class="b" cx="503.8" cy="433.6" rx="25.1" ry="3.6" opacity="0.23"/>
<ellipse class="b" cx="462.7" cy="435" rx="28.9" ry="3.3" opacity="0.14"/>
<ellipse class="b" cx="465.5" cy="395.3" rx="19.3" ry="3.6" opacity="0.21"/>
<ellipse class="b" cx="435.3" cy="386.2" rx="17.4" ry="3.3" opacity="0.12"/>
<ellipse class="b" cx="547.7" cy="385.7" rx="21.3" ry="3.4" opacity="0.16"/>
<ellipse class="b" cx="492.9" cy="407.6" rx="19.3" ry="3.5" opacity="0.19"/>
<ellipse class="b" cx="514.8" cy="414.5" rx="17.4" ry="3.4" opacity="0.16"/>
<ellipse class="b" cx="432.6" cy="417.7" rx="23.2" ry="3.4" opacity="0.16"/>
<ellipse class="b" cx="462.7" cy="413.9" rx="15.5" ry="3.2" opacity="0.11"/>
<ellipse class="b" cx="594.2" cy="415" rx="15.5" ry="3.3" opacity="0.12"/>
<ellipse class="b" cx="295.6" cy="417.2" rx="13.6" ry="3.3" opacity="0.14"/>
<ellipse class="b" cx="292.9" cy="368.4" rx="15.5" ry="3.3" opacity="0.12"/>
<ellipse class="b" cx="314.8" cy="349.2" rx="28.9" ry="3.2" opacity="0.11"/>
<ellipse class="b" cx="273.7" cy="409" rx="13.6" ry="3.3" opacity="0.12"/>
<ellipse class="b" cx="273.7" cy="395.8" rx="13.6" ry="3" opacity="0.08"/>
<ellipse class="b" cx="407.9" cy="446" rx="19.3" ry="3.2" opacity="0.11"/>
<ellipse class="b" cx="358.6" cy="440.5" rx="13.6" ry="2.9" opacity="0.06"/>
<ellipse class="b" cx="534" cy="446.8" rx="13.6" ry="3" opacity="0.08"/>
<ellipse class="b" cx="539.5" cy="452.8" rx="17.4" ry="3.2" opacity="0.11"/>
<ellipse class="b" cx="506.6" cy="477.5" rx="19.3" ry="3.3" opacity="0.12"/>
<ellipse class="b" cx="361.4" cy="484.3" rx="19.3" ry="3" opacity="0.08"/>
<ellipse class="b" cx="534" cy="338.3" rx="19.3" ry="3.2" opacity="0.14"/>
<ellipse class="b" cx="566.8" cy="336.4" rx="15.5" ry="3.2" opacity="0.14"/>
<ellipse class="b" cx="668.2" cy="336.4" rx="19.3" ry="3.3" opacity="0.16"/>
<ellipse class="b" cx="649" cy="346.5" rx="15.5" ry="3" opacity="0.08"/>
<ellipse class="b" cx="742.2" cy="338.3" rx="19.3" ry="3.2" opacity="0.14"/>
<ellipse class="b" cx="794.2" cy="337.2" rx="19.3" ry="3.2" opacity="0.14"/>
<ellipse class="b" cx="788.8" cy="352.8" rx="15.5" ry="3" opacity="0.08"/>
<ellipse class="b" cx="460" cy="352" rx="15.5" ry="3" opacity="0.08"/>
<ellipse class="b" cx="657.3" cy="517.2" rx="15.5" ry="3.3" opacity="0.12"/>
<ellipse class="b" cx="753.2" cy="411.7" rx="11.7" ry="2.8" opacity="0.05"/>
<ellipse class="b" cx="629.9" cy="386.2" rx="11.7" ry="2.8" opacity="0.05"/>
<ellipse class="b" cx="876.7" cy="337.7" rx="23.2" ry="3.9" opacity="0.29"/>
<ellipse class="b" cx="895.9" cy="346" rx="27" ry="3.6" opacity="0.23" transform="rotate(10 895.9 346)"/>
<ellipse class="b" cx="937" cy="362.4" rx="19.3" ry="3.2" opacity="0.14"/>
<ellipse class="b" cx="876.7" cy="376.6" rx="23.2" ry="3.4" opacity="0.16"/>
<ellipse class="b" cx="937" cy="378.8" rx="27" ry="3.9" opacity="0.29" transform="rotate(8 937 378.8)"/>
<ellipse class="b" cx="969.9" cy="384.3" rx="34.7" ry="3.6" opacity="0.22" transform="rotate(5 969.9 384.3)"/>
<ellipse class="b" cx="991.8" cy="393.9" rx="28.9" ry="3.9" opacity="0.29"/>
<ellipse class="b" cx="1019.2" cy="389.8" rx="19.3" ry="3.5" opacity="0.19"/>
<ellipse class="b" cx="1120.5" cy="398.6" rx="21.3" ry="3.9" opacity="0.29"/>
<ellipse class="b" cx="1076.7" cy="403.5" rx="23.2" ry="3.6" opacity="0.22"/>
<ellipse class="b" cx="1038.4" cy="406.8" rx="17.4" ry="3.5" opacity="0.19"/>
<ellipse class="b" cx="1139.7" cy="410.3" rx="21.3" ry="3.7" opacity="0.24" transform="rotate(8 1139.7 410.3)"/>
<ellipse class="b" cx="1178.1" cy="395.3" rx="23.2" ry="3.2" opacity="0.14"/>
<ellipse class="b" cx="1082.2" cy="421.3" rx="38.5" ry="3.5" opacity="0.19" transform="rotate(3 1082.2 421.3)"/>
<ellipse class="b" cx="1252.1" cy="387.1" rx="46.2" ry="3.6" opacity="0.22"/>
<ellipse class="b" cx="1317.8" cy="387.1" rx="28.9" ry="3.8" opacity="0.26"/>
<ellipse class="b" cx="1164.4" cy="360.2" rx="17.4" ry="3" opacity="0.10"/>
<ellipse class="b" cx="1326" cy="373.9" rx="19.3" ry="3" opacity="0.10"/>
<ellipse class="b" cx="1342.5" cy="355.5" rx="13.6" ry="2.9" opacity="0.07"/>
<ellipse class="b" cx="1005.5" cy="430.9" rx="28.9" ry="4.1" opacity="0.33"/>
<ellipse class="b" cx="1002.7" cy="437.7" rx="32.8" ry="3.7" opacity="0.24"/>
<ellipse class="b" cx="1002.7" cy="446" rx="23.2" ry="3.7" opacity="0.24"/>
<ellipse class="b" cx="1106.8" cy="447.9" rx="28.9" ry="4.1" opacity="0.33"/>
<ellipse class="b" cx="1142.5" cy="451.4" rx="28.9" ry="3.3" opacity="0.16"/>
<ellipse class="b" cx="926" cy="424.9" rx="32.8" ry="3.3" opacity="0.16"/>
<ellipse class="b" cx="887.7" cy="414.5" rx="32.8" ry="3.2" opacity="0.11"/>
<ellipse class="b" cx="895.9" cy="403.5" rx="23.2" ry="3.2" opacity="0.11"/>
<ellipse class="b" cx="819.2" cy="439.1" rx="19.3" ry="3.4" opacity="0.16"/>
<ellipse class="b" cx="1339.7" cy="445.4" rx="38.5" ry="4.2" opacity="0.35"/>
<ellipse class="b" cx="1279.5" cy="444.6" rx="23.2" ry="3.2" opacity="0.14"/>
<ellipse class="b" cx="1238.4" cy="460.2" rx="17.4" ry="3.3" opacity="0.16"/>
<ellipse class="b" cx="1350.7" cy="463.8" rx="13.6" ry="3.2" opacity="0.13"/>
<ellipse class="b" cx="937" cy="469.2" rx="23.2" ry="3.5" opacity="0.19"/>
<ellipse class="b" cx="969.9" cy="479.7" rx="19.3" ry="3.2" opacity="0.14"/>
<ellipse class="b" cx="909.6" cy="458.3" rx="23.2" ry="3" opacity="0.10"/>
<ellipse class="b" cx="893.2" cy="480.2" rx="19.3" ry="3" opacity="0.08"/>
<ellipse class="b" cx="1153.4" cy="485.7" rx="25.1" ry="3.8" opacity="0.26"/>
<ellipse class="b" cx="1123.3" cy="492.5" rx="19.3" ry="3.3" opacity="0.16"/>
<ellipse class="b" cx="1211" cy="487.6" rx="19.3" ry="3.5" opacity="0.19"/>
<ellipse class="b" cx="1093.2" cy="489.8" rx="15.5" ry="3" opacity="0.10"/>
<ellipse class="b" cx="827.4" cy="491.2" rx="28.9" ry="3.5" opacity="0.19"/>
<ellipse class="b" cx="1334.2" cy="501.3" rx="32.8" ry="3.9" opacity="0.29"/>
<ellipse class="b" cx="813.7" cy="500.8" rx="17.4" ry="3.2" opacity="0.11"/>
<ellipse class="b" cx="928.8" cy="509" rx="25.1" ry="3.7" opacity="0.24"/>
<ellipse class="b" cx="876.7" cy="522.7" rx="34.7" ry="3.6" opacity="0.21"/>
<ellipse class="b" cx="937" cy="522.1" rx="34.7" ry="3.3" opacity="0.16"/>
<ellipse class="b" cx="1002.7" cy="512.5" rx="19.3" ry="3.2" opacity="0.13"/>
<ellipse class="b" cx="1082.2" cy="524" rx="23.2" ry="3.5" opacity="0.19"/>
<ellipse class="b" cx="1156.2" cy="515.8" rx="15.5" ry="3.2" opacity="0.13"/>
<ellipse class="b" cx="1002.7" cy="538.3" rx="42.4" ry="4.3" opacity="0.38" transform="rotate(5 1002.7 538.3)"/>
<ellipse class="b" cx="937" cy="533.6" rx="19.3" ry="3.5" opacity="0.19"/>
<ellipse class="b" cx="879.5" cy="539.1" rx="27" ry="3.5" opacity="0.19"/>
<ellipse class="b" cx="909.6" cy="548.7" rx="27" ry="3.2" opacity="0.14"/>
<ellipse class="b" cx="901.4" cy="555.5" rx="27" ry="3.3" opacity="0.16"/>
<ellipse class="b" cx="868.5" cy="563.8" rx="27" ry="3.3" opacity="0.12"/>
<ellipse class="b" cx="964.4" cy="562.4" rx="38.5" ry="3.3" opacity="0.16"/>
<ellipse class="b" cx="942.5" cy="573.4" rx="23.2" ry="3.3" opacity="0.16"/>
<ellipse class="b" cx="1005.5" cy="577.5" rx="38.5" ry="3.5" opacity="0.19"/>
<ellipse class="b" cx="1117.8" cy="559.7" rx="19.3" ry="3.6" opacity="0.22"/>
<ellipse class="b" cx="1150.7" cy="569.2" rx="19.3" ry="3.2" opacity="0.14"/>
<ellipse class="b" cx="1284.9" cy="555.5" rx="27" ry="3.5" opacity="0.19"/>
<ellipse class="b" cx="1328.8" cy="572.5" rx="25.1" ry="3.9" opacity="0.29"/>
<ellipse class="b" cx="1260.3" cy="567.9" rx="23.2" ry="3.2" opacity="0.13"/>
<ellipse class="b" cx="1347.9" cy="552.8" rx="19.3" ry="3.2" opacity="0.13"/>
<ellipse class="b" cx="854.8" cy="510.3" rx="15.5" ry="3.2" opacity="0.11"/>
<ellipse class="b" cx="1120.5" cy="531.7" rx="15.5" ry="2.9" opacity="0.07"/>
<ellipse class="b" cx="1046.6" cy="562.4" rx="15.5" ry="2.9" opacity="0.07"/>
<ellipse class="b" cx="1874.7" cy="529" rx="17.4" ry="5.5" opacity="0.44"/>
<ellipse class="b" cx="1777.4" cy="517.2" rx="19.3" ry="4.5" opacity="0.33" transform="rotate(20 1777.4 517.2)"/>
<ellipse class="b" cx="1832.2" cy="524.6" rx="21.3" ry="4.5" opacity="0.35"/>
<ellipse class="b" cx="1404.8" cy="386.5" rx="34.7" ry="4.2" opacity="0.35"/>
<ellipse class="b" cx="1440.4" cy="391.2" rx="27" ry="3.5" opacity="0.19" transform="rotate(8 1440.4 391.2)"/>
<ellipse class="b" cx="1462.3" cy="370.6" rx="25.1" ry="3.7" opacity="0.24"/>
<ellipse class="b" cx="1363.7" cy="375.5" rx="17.4" ry="3.2" opacity="0.14"/>
<ellipse class="b" cx="1700.7" cy="376.1" rx="28.9" ry="3.9" opacity="0.29"/>
<ellipse class="b" cx="1741.8" cy="378.3" rx="28.9" ry="3.9" opacity="0.29"/>
<ellipse class="b" cx="1777.4" cy="378.3" rx="19.3" ry="3.2" opacity="0.14"/>
<ellipse class="b" cx="1799.3" cy="369.2" rx="42.4" ry="3.3" opacity="0.16" transform="rotate(10 1799.3 369.2)"/>
<ellipse class="b" cx="1821.2" cy="374.7" rx="17.4" ry="3.5" opacity="0.19"/>
<ellipse class="b" cx="1692.5" cy="398.6" rx="23.2" ry="4.1" opacity="0.33"/>
<ellipse class="b" cx="1648.6" cy="398.6" rx="21.3" ry="3.5" opacity="0.19"/>
<ellipse class="b" cx="1610.3" cy="389.8" rx="19.3" ry="3.2" opacity="0.14"/>
<ellipse class="b" cx="1881.5" cy="387.1" rx="17.4" ry="3.5" opacity="0.19"/>
<ellipse class="b" cx="1862.3" cy="413.1" rx="21.3" ry="4" opacity="0.32"/>
<ellipse class="b" cx="1821.2" cy="409" rx="42.4" ry="3.3" opacity="0.16" transform="rotate(8 1821.2 409)"/>
<ellipse class="b" cx="1530.8" cy="352.8" rx="13.6" ry="3.2" opacity="0.14"/>
<ellipse class="b" cx="1618.5" cy="372" rx="23.2" ry="3" opacity="0.10"/>
<ellipse class="b" cx="1585.6" cy="375.5" rx="15.5" ry="3" opacity="0.10"/>
<ellipse class="b" cx="1651.4" cy="419.4" rx="34.7" ry="4.3" opacity="0.38" transform="rotate(3 1651.4 419.4)"/>
<ellipse class="b" cx="1697.9" cy="422.1" rx="38.5" ry="3.7" opacity="0.24" transform="rotate(3 1697.9 422.1)"/>
<ellipse class="b" cx="1782.9" cy="428.7" rx="27" ry="3.9" opacity="0.29"/>
<ellipse class="b" cx="1697.9" cy="432.8" rx="19.3" ry="3.6" opacity="0.22"/>
<ellipse class="b" cx="1829.5" cy="432.3" rx="15.5" ry="3.2" opacity="0.14"/>
<ellipse class="b" cx="1473.3" cy="434.5" rx="21.3" ry="3.9" opacity="0.29"/>
<ellipse class="b" cx="1577.4" cy="438.6" rx="21.3" ry="3.7" opacity="0.24"/>
<ellipse class="b" cx="1624" cy="440.5" rx="17.4" ry="3.6" opacity="0.22"/>
<ellipse class="b" cx="1399.3" cy="446.5" rx="76.9" ry="4.2" opacity="0.35"/>
<ellipse class="b" cx="1684.2" cy="451.4" rx="19.3" ry="3.6" opacity="0.22"/>
<ellipse class="b" cx="1399.3" cy="460.5" rx="23.2" ry="3.8" opacity="0.26"/>
<ellipse class="b" cx="1354.1" cy="463.8" rx="9.7" ry="3.2" opacity="0.14"/>
<ellipse class="b" cx="1610.3" cy="454.2" rx="19.3" ry="3" opacity="0.10"/>
<ellipse class="b" cx="1574.7" cy="454.2" rx="15.5" ry="3" opacity="0.10"/>
<ellipse class="b" cx="1856.8" cy="453.6" rx="19.3" ry="3.2" opacity="0.14"/>
<ellipse class="b" cx="1604.8" cy="469.8" rx="32.8" ry="3.8" opacity="0.26"/>
<ellipse class="b" cx="1670.5" cy="476.1" rx="42.4" ry="4.3" opacity="0.38"/>
<ellipse class="b" cx="1736.3" cy="469.2" rx="21.3" ry="3.6" opacity="0.22"/>
<ellipse class="b" cx="1796.6" cy="461.6" rx="25.1" ry="3.8" opacity="0.26"/>
<ellipse class="b" cx="1785.6" cy="487.1" rx="28.9" ry="3.9" opacity="0.29"/>
<ellipse class="b" cx="1747.3" cy="484.3" rx="23.2" ry="3.2" opacity="0.14"/>
<ellipse class="b" cx="1571.9" cy="490.6" rx="25.1" ry="3.8" opacity="0.26"/>
<ellipse class="b" cx="1519.9" cy="500.8" rx="19.3" ry="3.5" opacity="0.19"/>
<ellipse class="b" cx="1467.8" cy="508.4" rx="17.4" ry="3.6" opacity="0.22"/>
<ellipse class="b" cx="1371.9" cy="502.9" rx="32.8" ry="3.8" opacity="0.26"/>
<ellipse class="b" cx="1434.9" cy="480.2" rx="15.5" ry="3" opacity="0.10"/>
<ellipse class="b" cx="1552.7" cy="478.8" rx="11.7" ry="3" opacity="0.10"/>
<ellipse class="b" cx="1856.8" cy="472" rx="23.2" ry="3" opacity="0.10"/>
<ellipse class="b" cx="1692.5" cy="513.1" rx="23.2" ry="3.5" opacity="0.19"/>
<ellipse class="b" cx="1687" cy="522.7" rx="32.8" ry="3.5" opacity="0.19"/>
<ellipse class="b" cx="1733.6" cy="522.7" rx="23.2" ry="3.8" opacity="0.26"/>
<ellipse class="b" cx="1870.5" cy="562.4" rx="42.4" ry="3.7" opacity="0.24" transform="rotate(5 1870.5 562.4)"/>
<ellipse class="b" cx="1802.1" cy="552.8" rx="23.2" ry="3.5" opacity="0.19"/>
<ellipse class="b" cx="1837.7" cy="559.7" rx="15.5" ry="3.2" opacity="0.14"/>
<ellipse class="b" cx="1552.7" cy="567.9" rx="25.1" ry="3.9" opacity="0.29"/>
<ellipse class="b" cx="1380.1" cy="578.3" rx="23.2" ry="3.7" opacity="0.24"/>
<ellipse class="b" cx="1613" cy="561.8" rx="15.5" ry="3" opacity="0.10"/>
<ellipse class="b" cx="1355.5" cy="554.2" rx="11.7" ry="3" opacity="0.10"/>
<ellipse class="b" cx="1892.5" cy="539.9" rx="11.7" ry="3.5" opacity="0.19"/>
<ellipse class="b" cx="1856.8" cy="499.4" rx="23.2" ry="3" opacity="0.10"/>
<ellipse class="b" cx="1027.6" cy="342.5" rx="22.1" ry="2.4" opacity="0.09"/>
<ellipse class="b" cx="762.7" cy="139.2" rx="37" ry="3.6" opacity="0.04" transform="rotate(6 762.7 139.2)"/>
<ellipse class="b" cx="1334.9" cy="395" rx="17" ry="2.3" opacity="0.09"/>
<ellipse class="b" cx="1703.2" cy="387.2" rx="26.2" ry="3" opacity="0.09"/>
<ellipse class="b" cx="1312.6" cy="338.5" rx="30" ry="3.6" opacity="0.07" transform="rotate(8 1312.6 338.5)"/>
<ellipse class="b" cx="1639" cy="439.9" rx="23.3" ry="3.1" opacity="0.07"/>
<ellipse class="b" cx="443.7" cy="147.6" rx="18.6" ry="2.6" opacity="0.04"/>
<ellipse class="b" cx="1780.7" cy="120.5" rx="37.5" ry="3.3" opacity="0.08"/>
<ellipse class="b" cx="707.9" cy="137.5" rx="44.9" ry="2.5" opacity="0.10"/>
<ellipse class="b" cx="1421.6" cy="100.4" rx="30.9" ry="2.9" opacity="0.10"/>
<ellipse class="b" cx="578.8" cy="451.6" rx="35.5" ry="3.6" opacity="0.06" transform="rotate(6 578.8 451.6)"/>
<ellipse class="b" cx="1235" cy="581.2" rx="22.1" ry="2.3" opacity="0.12"/>
<ellipse class="b" cx="506.4" cy="310.2" rx="34.5" ry="2.4" opacity="0.11" transform="rotate(6 506.4 310.2)"/>
<ellipse class="b" cx="414.6" cy="379" rx="34.3" ry="2.5" opacity="0.08" transform="rotate(-5 414.6 379)"/>
<ellipse class="b" cx="1226.1" cy="500.6" rx="27.9" ry="3.5" opacity="0.09" transform="rotate(3 1226.1 500.6)"/>
<ellipse class="b" cx="1602.4" cy="216.6" rx="38.4" ry="3.2" opacity="0.12"/>
<ellipse class="b" cx="901.2" cy="330.1" rx="18" ry="3.6" opacity="0.06" transform="rotate(8 901.2 330.1)"/>
<ellipse class="b" cx="656.7" cy="438.3" rx="40.8" ry="3" opacity="0.09" transform="rotate(3 656.7 438.3)"/>
<ellipse class="b" cx="1784.3" cy="571.1" rx="30.7" ry="2.7" opacity="0.10"/>
<ellipse class="b" cx="1764.9" cy="194.4" rx="24.5" ry="2.3" opacity="0.08"/>
<ellipse class="b" cx="418" cy="162.5" rx="26.3" ry="3.1" opacity="0.10" transform="rotate(8 418 162.5)"/>
<ellipse class="b" cx="496.6" cy="112.1" rx="43.3" ry="2.3" opacity="0.10"/>
<ellipse class="b" cx="1305.9" cy="330" rx="26" ry="2.9" opacity="0.12"/>
<ellipse class="b" cx="825.1" cy="136.4" rx="18.9" ry="3.5" opacity="0.11"/>
<ellipse class="b" cx="1202.5" cy="399.5" rx="33.8" ry="2.4" opacity="0.09"/>
<ellipse class="b" cx="456.2" cy="220.4" rx="26.3" ry="2.9" opacity="0.12" transform="rotate(-5 456.2 220.4)"/>
<ellipse class="b" cx="1636" cy="135.9" rx="17.5" ry="2.3" opacity="0.09" transform="rotate(-5 1636 135.9)"/>
<ellipse class="b" cx="1830.3" cy="150" rx="36" ry="2.8" opacity="0.08"/>
<ellipse class="b" cx="501.3" cy="393.1" rx="38.8" ry="3" opacity="0.07" transform="rotate(-5 501.3 393.1)"/>
<ellipse class="b" cx="661.7" cy="292.2" rx="35.2" ry="3.5" opacity="0.11"/>
<ellipse class="b" cx="895" cy="379.1" rx="20.6" ry="3.2" opacity="0.08"/>
<ellipse class="b" cx="1818.2" cy="229.9" rx="29.8" ry="3.4" opacity="0.07"/>
<ellipse class="b" cx="891.9" cy="348.4" rx="37.7" ry="2.8" opacity="0.11" transform="rotate(-5 891.9 348.4)"/>
<ellipse class="b" cx="1620.2" cy="230.6" rx="36.5" ry="2.7" opacity="0.07" transform="rotate(-3 1620.2 230.6)"/>
<ellipse class="b" cx="1559.5" cy="104.4" rx="30" ry="2.6" opacity="0.04" transform="rotate(3 1559.5 104.4)"/>
<ellipse class="b" cx="497.4" cy="117.9" rx="29.8" ry="3.6" opacity="0.09" transform="rotate(-3 497.4 117.9)"/>
<ellipse class="b" cx="1384.8" cy="192.2" rx="21.8" ry="3" opacity="0.04" transform="rotate(-5 1384.8 192.2)"/>
<ellipse class="b" cx="326.5" cy="205.4" rx="32.5" ry="3.1" opacity="0.12" transform="rotate(8 326.5 205.4)"/>
<ellipse class="b" cx="1501.9" cy="286.8" rx="43.3" ry="2.5" opacity="0.06" transform="rotate(6 1501.9 286.8)"/>
<ellipse class="b" cx="882.6" cy="372.2" rx="40" ry="2.8" opacity="0.12" transform="rotate(-5 882.6 372.2)"/>
<ellipse class="b" cx="1871" cy="143.3" rx="40" ry="2.6" opacity="0.11"/>
<ellipse class="b" cx="1144" cy="480.3" rx="43.3" ry="3.1" opacity="0.11" transform="rotate(-3 1144 480.3)"/>
<ellipse class="b" cx="328.1" cy="261.7" rx="24.7" ry="3.4" opacity="0.11"/>
<ellipse class="b" cx="372.1" cy="484.7" rx="26.5" ry="2.9" opacity="0.11"/>
<ellipse class="b" cx="1899.5" cy="533.8" rx="36.5" ry="3.1" opacity="0.08" transform="rotate(-5 1899.5 533.8)"/>
<ellipse class="b" cx="1392.3" cy="464.3" rx="33" ry="3.2" opacity="0.11" transform="rotate(8 1392.3 464.3)"/>
<ellipse class="b" cx="1120.8" cy="506.1" rx="25.8" ry="2.7" opacity="0.08"/>
<ellipse class="b" cx="497.9" cy="360.4" rx="31.2" ry="3" opacity="0.08"/>
<ellipse class="b" cx="1109.8" cy="290.2" rx="33.1" ry="2.4" opacity="0.08"/>
<ellipse class="b" cx="1774.8" cy="226.2" rx="20.3" ry="3" opacity="0.08" transform="rotate(-5 1774.8 226.2)"/>
<ellipse class="b" cx="444.8" cy="299.4" rx="24.2" ry="2.3" opacity="0.10"/>
<ellipse class="b" cx="521.4" cy="100.8" rx="37.9" ry="2.4" opacity="0.07" transform="rotate(-5 521.4 100.8)"/>
<ellipse class="b" cx="1460.5" cy="154.9" rx="23.9" ry="3.5" opacity="0.06" transform="rotate(8 1460.5 154.9)"/>
<ellipse class="b" cx="305.5" cy="403.5" rx="34.7" ry="3.2" opacity="0.09" transform="rotate(8 305.5 403.5)"/>
<ellipse class="b" cx="1132" cy="509.8" rx="41.8" ry="3.5" opacity="0.07" transform="rotate(-3 1132 509.8)"/>
<ellipse class="b" cx="623.6" cy="581.4" rx="20.5" ry="2.7" opacity="0.07"/>
<ellipse class="b" cx="425.9" cy="500.5" rx="39.8" ry="3.2" opacity="0.06" transform="rotate(6 425.9 500.5)"/>
<ellipse class="b" cx="1571.5" cy="141.8" rx="27.1" ry="2.4" opacity="0.11" transform="rotate(-3 1571.5 141.8)"/>
<ellipse class="b" cx="1092.9" cy="464.4" rx="36.8" ry="2.9" opacity="0.06"/>
<ellipse class="b" cx="307.2" cy="466.3" rx="43.2" ry="2.6" opacity="0.08"/>
<ellipse class="b" cx="1780.5" cy="141.5" rx="44.6" ry="2.8" opacity="0.08"/>
<ellipse class="b" cx="1029.7" cy="346.1" rx="34.2" ry="3.4" opacity="0.04"/>
<ellipse class="b" cx="563.4" cy="316.2" rx="28.5" ry="2.4" opacity="0.06"/>
<ellipse class="b" cx="1560.9" cy="252.8" rx="41.4" ry="3.1" opacity="0.11" transform="rotate(6 1560.9 252.8)"/>
<ellipse class="b" cx="579.2" cy="379.9" rx="39" ry="3.3" opacity="0.07"/>
<ellipse class="b" cx="1537.4" cy="491.9" rx="43" ry="3.3" opacity="0.11" transform="rotate(-3 1537.4 491.9)"/>
<ellipse class="b" cx="1516.6" cy="292.7" rx="18.7" ry="2.4" opacity="0.07" transform="rotate(-5 1516.6 292.7)"/>
<ellipse class="b" cx="755.3" cy="200.3" rx="21.9" ry="3.6" opacity="0.06" transform="rotate(8 755.3 200.3)"/>
<ellipse class="b" cx="1315.9" cy="436.7" rx="45.4" ry="3.3" opacity="0.04"/>
<ellipse class="b" cx="686.4" cy="290.7" rx="22.3" ry="2.7" opacity="0.08"/>
<ellipse class="b" cx="717.5" cy="261.1" rx="28.8" ry="3.2" opacity="0.09"/>
<ellipse class="b" cx="1588.9" cy="132.2" rx="38.9" ry="2.8" opacity="0.04"/>
<ellipse class="b" cx="1850.9" cy="511.9" rx="34.2" ry="2.9" opacity="0.08" transform="rotate(-5 1850.9 511.9)"/>
<ellipse class="b" cx="1127.3" cy="386.3" rx="25" ry="3.6" opacity="0.10" transform="rotate(8 1127.3 386.3)"/>
<ellipse class="b" cx="1350.7" cy="459.4" rx="39.3" ry="2.8" opacity="0.09"/>
<ellipse class="b" cx="1384.5" cy="120.8" rx="28.3" ry="2.4" opacity="0.09" transform="rotate(-3 1384.5 120.8)"/>
<ellipse class="b" cx="1745.6" cy="304.3" rx="45.2" ry="2.4" opacity="0.07" transform="rotate(8 1745.6 304.3)"/>
<ellipse class="b" cx="1589.9" cy="538.1" rx="44.8" ry="2.4" opacity="0.07"/>
<ellipse class="b" cx="948.4" cy="152.5" rx="27.1" ry="2.9" opacity="0.06" transform="rotate(-3 948.4 152.5)"/>
<ellipse class="b" cx="1357.7" cy="317" rx="33.8" ry="3.4" opacity="0.08" transform="rotate(8 1357.7 317)"/>
<ellipse class="b" cx="491.1" cy="236.4" rx="30.7" ry="3.4" opacity="0.09" transform="rotate(3 491.1 236.4)"/>
<ellipse class="b" cx="1287.6" cy="270" rx="36.8" ry="3.2" opacity="0.09"/>
<ellipse class="b" cx="1497.2" cy="187.5" rx="45.4" ry="3.2" opacity="0.11"/>
<ellipse class="b" cx="283" cy="221.5" rx="17.7" ry="2.4" opacity="0.07" transform="rotate(3 283 221.5)"/>
<ellipse class="b" cx="408.6" cy="424.5" rx="35.1" ry="2.8" opacity="0.08" transform="rotate(-5 408.6 424.5)"/>
<ellipse class="b" cx="819.6" cy="335.9" rx="42.1" ry="3.4" opacity="0.11" transform="rotate(-5 819.6 335.9)"/>
<ellipse class="b" cx="1285.6" cy="469.6" rx="29.1" ry="2.8" opacity="0.07"/>
<ellipse class="b" cx="1334.5" cy="577" rx="32.7" ry="2.9" opacity="0.10"/>
<ellipse class="b" cx="870.2" cy="142.3" rx="18.9" ry="3.4" opacity="0.06" transform="rotate(-5 870.2 142.3)"/>
<ellipse class="b" cx="1024.1" cy="496.3" rx="25.7" ry="3.2" opacity="0.11"/>
<ellipse class="b" cx="1075.1" cy="467.3" rx="42.5" ry="2.8" opacity="0.07" transform="rotate(-3 1075.1 467.3)"/>
<ellipse class="b" cx="459.1" cy="440.6" rx="43.6" ry="2.9" opacity="0.12" transform="rotate(3 459.1 440.6)"/>
<ellipse class="b" cx="1578.3" cy="243.5" rx="28.4" ry="2.6" opacity="0.12" transform="rotate(8 1578.3 243.5)"/>
<ellipse class="b" cx="857.9" cy="273.2" rx="28.2" ry="3.3" opacity="0.08"/>
<ellipse class="b" cx="868.6" cy="285.2" rx="34" ry="3.3" opacity="0.06"/>
<ellipse class="b" cx="1705.4" cy="232.2" rx="31.8" ry="3.6" opacity="0.09" transform="rotate(3 1705.4 232.2)"/>
<ellipse class="b" cx="1330.5" cy="486.9" rx="32.7" ry="2.8" opacity="0.11"/>
<ellipse class="b" cx="714.2" cy="146.4" rx="17.4" ry="3.3" opacity="0.10"/>
<ellipse class="b" cx="1326.9" cy="214.6" rx="39.1" ry="2.8" opacity="0.09" transform="rotate(-5 1326.9 214.6)"/>
<ellipse class="b" cx="818.9" cy="566.8" rx="31.1" ry="3.2" opacity="0.09"/>
<ellipse class="b" cx="1761" cy="295.1" rx="36.2" ry="3.4" opacity="0.11" transform="rotate(6 1761 295.1)"/>
<ellipse class="b" cx="1718" cy="561.7" rx="32" ry="2.9" opacity="0.10"/>
<ellipse class="b" cx="953.8" cy="166.3" rx="45.7" ry="2.8" opacity="0.08"/>
<ellipse class="b" cx="903" cy="352.8" rx="42.6" ry="2.7" opacity="0.08"/>
<ellipse class="b" cx="1496.8" cy="103.4" rx="40.1" ry="2.6" opacity="0.07"/>
<ellipse class="b" cx="622.3" cy="209.7" rx="34.1" ry="3.5" opacity="0.07"/>
<ellipse class="b" cx="1290.6" cy="554" rx="41.7" ry="3.5" opacity="0.08" transform="rotate(6 1290.6 554)"/>
<ellipse class="b" cx="1055.3" cy="202.7" rx="44.5" ry="3.6" opacity="0.11" transform="rotate(6 1055.3 202.7)"/>
<ellipse class="b" cx="1564.7" cy="472.2" rx="18.3" ry="3.5" opacity="0.11"/>
<ellipse class="b" cx="1745.1" cy="314.3" rx="29" ry="2.5" opacity="0.11" transform="rotate(6 1745.1 314.3)"/>
<ellipse class="b" cx="792.8" cy="221.4" rx="31.8" ry="3" opacity="0.09" transform="rotate(3 792.8 221.4)"/>
<ellipse class="b" cx="353.9" cy="373.7" rx="22.6" ry="3.4" opacity="0.11"/>
<ellipse class="b" cx="402" cy="226.6" rx="19.5" ry="2.4" opacity="0.08" transform="rotate(-5 402 226.6)"/>
<ellipse class="b" cx="1489.4" cy="359.8" rx="17.2" ry="3.6" opacity="0.06"/>
<ellipse class="b" cx="416" cy="497.6" rx="32.6" ry="3.6" opacity="0.09"/>
<ellipse class="b" cx="1840.9" cy="249.1" rx="33" ry="2.8" opacity="0.12"/>
<ellipse class="b" cx="1389" cy="146.6" rx="30.2" ry="3.2" opacity="0.12"/>
<ellipse class="b" cx="287.7" cy="278.8" rx="23.6" ry="3.3" opacity="0.09" transform="rotate(-5 287.7 278.8)"/>
<ellipse class="b" cx="1664.9" cy="506.5" rx="43.1" ry="3.6" opacity="0.06" transform="rotate(6 1664.9 506.5)"/>
<ellipse class="b" cx="1491.3" cy="559.9" rx="32.9" ry="2.6" opacity="0.06"/>
<ellipse class="b" cx="1186.2" cy="447.7" rx="40.9" ry="3.2" opacity="0.06"/>
<ellipse class="b" cx="482" cy="402.2" rx="22.3" ry="3.1" opacity="0.04" transform="rotate(-5 482 402.2)"/>
<ellipse class="b" cx="414.6" cy="205.4" rx="20.2" ry="2.8" opacity="0.08"/>
<ellipse class="b" cx="1611.3" cy="546.6" rx="22.6" ry="2.9" opacity="0.06" transform="rotate(6 1611.3 546.6)"/>
<ellipse class="b" cx="1771.4" cy="398.6" rx="34.6" ry="3.2" opacity="0.07"/>
<ellipse class="b" cx="1260.9" cy="104.1" rx="26.7" ry="3.1" opacity="0.10"/>
<ellipse class="b" cx="601.9" cy="257.2" rx="19.6" ry="3.3" opacity="0.10" transform="rotate(3 601.9 257.2)"/>
<ellipse class="b" cx="1741.5" cy="362.2" rx="31.3" ry="3.6" opacity="0.06"/>
<ellipse class="b" cx="1109.8" cy="443.6" rx="22.4" ry="3.3" opacity="0.12"/>
<ellipse class="b" cx="489.9" cy="327.9" rx="26.4" ry="2.7" opacity="0.06" transform="rotate(-3 489.9 327.9)"/>
<ellipse class="b" cx="1708.8" cy="315.4" rx="23.6" ry="3.1" opacity="0.09" transform="rotate(8 1708.8 315.4)"/>
<ellipse class="b" cx="1887" cy="493.3" rx="20.2" ry="3.2" opacity="0.11" transform="rotate(3 1887 493.3)"/>
<ellipse class="b" cx="861.1" cy="464.5" rx="21.5" ry="3" opacity="0.09"/>
<ellipse class="b" cx="1897.9" cy="162.4" rx="41.5" ry="2.5" opacity="0.11"/>
<ellipse class="b" cx="940" cy="111.2" rx="20.1" ry="3" opacity="0.08" transform="rotate(-3 940 111.2)"/>
<ellipse class="b" cx="697.9" cy="371.8" rx="35.5" ry="2.8" opacity="0.04"/>
<ellipse class="b" cx="1079.7" cy="145" rx="43" ry="3.3" opacity="0.11" transform="rotate(6 1079.7 145)"/>
<ellipse class="b" cx="1060.5" cy="579.6" rx="41.7" ry="2.5" opacity="0.08" transform="rotate(6 1060.5 579.6)"/>
<ellipse class="b" cx="454.6" cy="552.5" rx="31.9" ry="2.8" opacity="0.08"/>
<ellipse class="b" cx="1462.4" cy="386.2" rx="25.6" ry="2.6" opacity="0.09"/>
<ellipse class="b" cx="1645.8" cy="213.1" rx="45.2" ry="3" opacity="0.08"/>
<ellipse class="b" cx="657.9" cy="244.3" rx="23.5" ry="3.5" opacity="0.04" transform="rotate(-3 657.9 244.3)"/>
<ellipse class="b" cx="955.4" cy="487.4" rx="38.6" ry="2.4" opacity="0.09"/>
<ellipse class="b" cx="1560.9" cy="155.4" rx="44.5" ry="3.3" opacity="0.04"/>
<ellipse class="b" cx="306.6" cy="178.9" rx="29.8" ry="2.8" opacity="0.09"/>
<ellipse class="b" cx="1223.2" cy="117.4" rx="43" ry="2.5" opacity="0.07" transform="rotate(-5 1223.2 117.4)"/>
<ellipse class="b" cx="1535.2" cy="473.4" rx="22.5" ry="2.6" opacity="0.11"/>
<ellipse class="b" cx="1635.2" cy="267.6" rx="21.6" ry="2.6" opacity="0.11" transform="rotate(8 1635.2 267.6)"/>
<ellipse class="b" cx="1299.8" cy="188.4" rx="18.1" ry="3.6" opacity="0.06" transform="rotate(-3 1299.8 188.4)"/>
<ellipse class="b" cx="714.6" cy="299.8" rx="26.5" ry="2.8" opacity="0.12" transform="rotate(-5 714.6 299.8)"/>
<ellipse class="b" cx="544" cy="514.8" rx="36.9" ry="3" opacity="0.07"/>
<ellipse class="b" cx="749.8" cy="228.2" rx="32" ry="2.6" opacity="0.06" transform="rotate(8 749.8 228.2)"/>
<ellipse class="b" cx="758.7" cy="546.6" rx="24.7" ry="3" opacity="0.09"/>
<ellipse class="b" cx="392" cy="541.9" rx="43.3" ry="3" opacity="0.04" transform="rotate(3 392 541.9)"/>
<ellipse class="b" cx="958.7" cy="372.1" rx="45.6" ry="2.7" opacity="0.06"/>
<ellipse class="b" cx="1162.2" cy="185.8" rx="45.6" ry="3.5" opacity="0.04" transform="rotate(-5 1162.2 185.8)"/>
<ellipse class="b" cx="1222.2" cy="96.3" rx="18.4" ry="2.8" opacity="0.04" transform="rotate(-3 1222.2 96.3)"/>
<ellipse class="b" cx="1056.7" cy="110.6" rx="40.9" ry="3.3" opacity="0.09" transform="rotate(8 1056.7 110.6)"/>
<ellipse class="b" cx="1135.4" cy="384.4" rx="19.9" ry="3" opacity="0.08" transform="rotate(-5 1135.4 384.4)"/>
<ellipse class="b" cx="685.6" cy="443.9" rx="24.2" ry="2.7" opacity="0.09" transform="rotate(-5 685.6 443.9)"/>
<ellipse class="b" cx="598.1" cy="567.9" rx="29.8" ry="2.5" opacity="0.11" transform="rotate(-3 598.1 567.9)"/>
<ellipse class="b" cx="296.5" cy="336.8" rx="29.6" ry="2.4" opacity="0.07"/>
<ellipse class="b" cx="1748.5" cy="372.2" rx="39.8" ry="2.4" opacity="0.07"/>
<ellipse class="b" cx="961.8" cy="434" rx="38.3" ry="2.4" opacity="0.10" transform="rotate(-5 961.8 434)"/>
<ellipse class="b" cx="1606.9" cy="178.7" rx="21.3" ry="2.4" opacity="0.10" transform="rotate(-5 1606.9 178.7)"/>
<ellipse class="b" cx="937.8" cy="272.6" rx="45.2" ry="3.3" opacity="0.04" transform="rotate(-5 937.8 272.6)"/>
<ellipse class="b" cx="1248.1" cy="160.6" rx="31.9" ry="2.6" opacity="0.12"/>
<ellipse class="b" cx="1720.4" cy="164" rx="25.3" ry="3.6" opacity="0.08"/>
<ellipse class="b" cx="1267.2" cy="239.1" rx="41.7" ry="3.6" opacity="0.08"/>
<ellipse class="b" cx="1264.7" cy="114.4" rx="35.7" ry="3.1" opacity="0.04" transform="rotate(-3 1264.7 114.4)"/>
<ellipse class="b" cx="615.7" cy="279.6" rx="28.9" ry="3.4" opacity="0.07" transform="rotate(8 615.7 279.6)"/>
<ellipse class="b" cx="1051.3" cy="290" rx="38.9" ry="3.6" opacity="0.08" transform="rotate(-5 1051.3 290)"/>
<ellipse class="b" cx="1376.2" cy="515.4" rx="27.9" ry="2.8" opacity="0.06" transform="rotate(3 1376.2 515.4)"/>
<ellipse class="b" cx="715.6" cy="104.1" rx="24.3" ry="2.7" opacity="0.08"/>
<ellipse class="b" cx="854.7" cy="468.1" rx="43.3" ry="3.4" opacity="0.04" transform="rotate(-3 854.7 468.1)"/>
<ellipse class="b" cx="1001.9" cy="511.4" rx="24.2" ry="2.7" opacity="0.11"/>
<ellipse class="b" cx="1259.8" cy="333" rx="31.7" ry="2.7" opacity="0.06"/>
<ellipse class="b" cx="959.7" cy="360.1" rx="37.4" ry="3.2" opacity="0.07" transform="rotate(-5 959.7 360.1)"/>
<ellipse class="b" cx="507.8" cy="194.8" rx="37.5" ry="3" opacity="0.08" transform="rotate(6 507.8 194.8)"/>
<ellipse class="b" cx="848" cy="145.1" rx="34.6" ry="3.3" opacity="0.06"/>
<ellipse class="b" cx="1055.6" cy="100.6" rx="38.4" ry="3.6" opacity="0.10"/>
<ellipse class="b" cx="620.4" cy="430.8" rx="44.7" ry="3.3" opacity="0.11"/>
<ellipse class="b" cx="691.2" cy="484.6" rx="31.1" ry="2.7" opacity="0.08" transform="rotate(-3 691.2 484.6)"/>
<ellipse class="b" cx="597.1" cy="469.4" rx="37.5" ry="3.5" opacity="0.09" transform="rotate(-3 597.1 469.4)"/>
<ellipse class="b" cx="1580.2" cy="328.1" rx="41.7" ry="3.5" opacity="0.07"/>
<ellipse class="b" cx="711.5" cy="278.8" rx="25.4" ry="2.4" opacity="0.10" transform="rotate(3 711.5 278.8)"/>
<ellipse class="b" cx="325.2" cy="252.7" rx="25.3" ry="3.2" opacity="0.11"/>
<ellipse class="b" cx="895" cy="261.4" rx="17.5" ry="3.3" opacity="0.10"/>
<ellipse class="b" cx="1291.5" cy="397.5" rx="28.8" ry="3.5" opacity="0.07" transform="rotate(-5 1291.5 397.5)"/>
<ellipse class="b" cx="890.8" cy="538.2" rx="20.6" ry="3" opacity="0.09" transform="rotate(3 890.8 538.2)"/>
<ellipse class="b" cx="1039.6" cy="105.3" rx="24.5" ry="2.6" opacity="0.07"/>
<ellipse class="b" cx="269" cy="360" rx="23.7" ry="2.4" opacity="0.08" transform="rotate(8 269 360)"/>
<ellipse class="b" cx="1611.6" cy="525.8" rx="40" ry="3.5" opacity="0.07"/>
<ellipse class="b" cx="779" cy="443.9" rx="36.8" ry="2.5" opacity="0.12"/>
<ellipse class="b" cx="1282.2" cy="334.1" rx="27.4" ry="3" opacity="0.07" transform="rotate(8 1282.2 334.1)"/>
<ellipse class="b" cx="1322.4" cy="271.5" rx="43.5" ry="3.6" opacity="0.10"/>
<ellipse class="b" cx="1602.5" cy="526.5" rx="41.6" ry="2.3" opacity="0.09" transform="rotate(-5 1602.5 526.5)"/>
<ellipse class="b" cx="1282.1" cy="296.1" rx="26.8" ry="2.7" opacity="0.08" transform="rotate(6 1282.1 296.1)"/>
<ellipse class="b" cx="1303.6" cy="274.2" rx="22" ry="3.4" opacity="0.11"/>
<ellipse class="b" cx="1619.9" cy="371.5" rx="37.4" ry="3.4" opacity="0.09" transform="rotate(3 1619.9 371.5)"/>
<ellipse class="b" cx="471.9" cy="278.7" rx="23.4" ry="2.9" opacity="0.06"/>
<ellipse class="b" cx="705" cy="227.1" rx="36.2" ry="2.3" opacity="0.08"/>
<ellipse class="b" cx="1431.8" cy="152.7" rx="25" ry="2.8" opacity="0.10"/>
<ellipse class="b" cx="1744.3" cy="500.8" rx="21.6" ry="3.4" opacity="0.04" transform="rotate(-5 1744.3 500.8)"/>
<ellipse class="b" cx="1636.5" cy="233.3" rx="34.7" ry="3.2" opacity="0.10" transform="rotate(6 1636.5 233.3)"/>
<ellipse class="b" cx="621" cy="232.8" rx="29.6" ry="3.6" opacity="0.11" transform="rotate(8 621 232.8)"/>
<ellipse class="b" cx="677.8" cy="332.9" rx="26.1" ry="2.7" opacity="0.04"/>
<ellipse class="b" cx="920.7" cy="252" rx="22.5" ry="2.4" opacity="0.09" transform="rotate(8 920.7 252)"/>
<ellipse class="b" cx="372.6" cy="529.9" rx="18.9" ry="2.5" opacity="0.06" transform="rotate(-5 372.6 529.9)"/>
<ellipse class="b" cx="1555.5" cy="578.2" rx="17.5" ry="2.8" opacity="0.07" transform="rotate(8 1555.5 578.2)"/>
<ellipse class="b" cx="361.6" cy="363.3" rx="34.9" ry="3.5" opacity="0.07" transform="rotate(3 361.6 363.3)"/>
<ellipse class="b" cx="1890.5" cy="311" rx="37.9" ry="3.6" opacity="0.06"/>
<ellipse class="b" cx="1147.3" cy="423.8" rx="17.3" ry="3" opacity="0.09"/>
<ellipse class="b" cx="285.5" cy="351.9" rx="39.9" ry="2.7" opacity="0.10" transform="rotate(6 285.5 351.9)"/>
<ellipse class="b" cx="1134.9" cy="419.5" rx="39.2" ry="2.8" opacity="0.12" transform="rotate(-5 1134.9 419.5)"/>
<ellipse class="b" cx="305.9" cy="376.1" rx="28" ry="3.4" opacity="0.08" transform="rotate(3 305.9 376.1)"/>
<ellipse class="b" cx="862.8" cy="405.9" rx="24.8" ry="3.1" opacity="0.11" transform="rotate(-3 862.8 405.9)"/>
<ellipse class="b" cx="699.5" cy="199.1" rx="18" ry="3.2" opacity="0.06" transform="rotate(3 699.5 199.1)"/>
<ellipse class="b" cx="556.9" cy="146.6" rx="26.9" ry="2.8" opacity="0.08"/>
<ellipse class="b" cx="1638.4" cy="466" rx="21.7" ry="3.1" opacity="0.04"/>
<ellipse class="b" cx="1082.5" cy="475.3" rx="40.5" ry="3.6" opacity="0.04" transform="rotate(6 1082.5 475.3)"/>
<ellipse class="b" cx="793.5" cy="184.4" rx="45.7" ry="3.5" opacity="0.06" transform="rotate(6 793.5 184.4)"/>
<ellipse class="b" cx="357.8" cy="395.4" rx="29.5" ry="3" opacity="0.10" transform="rotate(6 357.8 395.4)"/>
<ellipse class="b" cx="1194.2" cy="150.7" rx="36.9" ry="2.9" opacity="0.08" transform="rotate(-5 1194.2 150.7)"/>
<ellipse class="b" cx="895.4" cy="207.1" rx="33.5" ry="3" opacity="0.09"/>
<ellipse class="b" cx="1004.8" cy="233.5" rx="18.2" ry="2.9" opacity="0.07" transform="rotate(8 1004.8 233.5)"/>
<ellipse class="b" cx="1888.2" cy="454.6" rx="38.2" ry="2.4" opacity="0.12" transform="rotate(6 1888.2 454.6)"/>
<ellipse class="b" cx="1847.8" cy="461.8" rx="19.9" ry="3.4" opacity="0.06"/>
<ellipse class="b" cx="373.3" cy="519" rx="23.9" ry="2.6" opacity="0.11" transform="rotate(-5 373.3 519)"/>
<ellipse class="b" cx="290.9" cy="303" rx="44.9" ry="3.1" opacity="0.07"/>
<ellipse class="b" cx="1552.3" cy="334.1" rx="40.1" ry="3.6" opacity="0.11" transform="rotate(8 1552.3 334.1)"/>
<ellipse class="b" cx="374.8" cy="553.8" rx="21.8" ry="3.6" opacity="0.07" transform="rotate(-3 374.8 553.8)"/>
<ellipse class="b" cx="625.9" cy="235.6" rx="34.7" ry="3.5" opacity="0.04" transform="rotate(-5 625.9 235.6)"/>
<ellipse class="b" cx="384.8" cy="576.3" rx="35.1" ry="3.1" opacity="0.11"/>
<ellipse class="b" cx="1890.6" cy="279.3" rx="37.2" ry="3.2" opacity="0.11" transform="rotate(3 1890.6 279.3)"/>
<ellipse class="b" cx="608" cy="197.2" rx="21.6" ry="2.5" opacity="0.09"/>
<ellipse class="b" cx="456.9" cy="553.5" rx="27.1" ry="3.2" opacity="0.06"/>
<ellipse class="b" cx="1469.3" cy="270.6" rx="28.6" ry="2.9" opacity="0.06" transform="rotate(3 1469.3 270.6)"/>
<ellipse class="b" cx="1606.2" cy="294.3" rx="31.5" ry="3" opacity="0.12" transform="rotate(-3 1606.2 294.3)"/>
<ellipse class="b" cx="949.6" cy="335" rx="20.2" ry="3.2" opacity="0.11"/>
<ellipse class="b" cx="1010.1" cy="549.9" rx="38.4" ry="3.2" opacity="0.09" transform="rotate(-5 1010.1 549.9)"/>
<ellipse class="b" cx="866.7" cy="257.4" rx="36" ry="3.2" opacity="0.07"/>
<ellipse class="b" cx="667" cy="295.5" rx="42.9" ry="2.7" opacity="0.07" transform="rotate(6 667 295.5)"/>
<ellipse class="b" cx="434.1" cy="523.8" rx="19.7" ry="3.5" opacity="0.10" transform="rotate(-5 434.1 523.8)"/>
<ellipse class="b" cx="411.8" cy="272.2" rx="37.9" ry="3.6" opacity="0.10" transform="rotate(-3 411.8 272.2)"/>
<ellipse class="b" cx="1598.9" cy="520.4" rx="21.1" ry="2.9" opacity="0.06"/>
<ellipse class="b" cx="783.4" cy="421.9" rx="45.2" ry="2.9" opacity="0.12" transform="rotate(6 783.4 421.9)"/>
<ellipse class="b" cx="642.9" cy="358.8" rx="18.3" ry="3.4" opacity="0.12" transform="rotate(6 642.9 358.8)"/>
<ellipse class="b" cx="1788.9" cy="347.3" rx="31.2" ry="2.8" opacity="0.11" transform="rotate(8 1788.9 347.3)"/>
<ellipse class="b" cx="1478.3" cy="135.7" rx="35.7" ry="3.2" opacity="0.09" transform="rotate(3 1478.3 135.7)"/>
<ellipse class="b" cx="1850.6" cy="325.9" rx="29.3" ry="3.5" opacity="0.06" transform="rotate(-3 1850.6 325.9)"/>
<ellipse class="b" cx="1809.3" cy="531.5" rx="26.9" ry="3.6" opacity="0.09" transform="rotate(8 1809.3 531.5)"/>
<ellipse class="b" cx="1188.1" cy="128.1" rx="36.1" ry="2.7" opacity="0.09" transform="rotate(3 1188.1 128.1)"/>
<ellipse class="b" cx="1536.6" cy="215.3" rx="18.2" ry="2.5" opacity="0.07" transform="rotate(-5 1536.6 215.3)"/>
<ellipse class="b" cx="438.1" cy="162.1" rx="40.4" ry="3.6" opacity="0.09"/>
<ellipse class="b" cx="1124.4" cy="293.1" rx="42" ry="3.4" opacity="0.12" transform="rotate(6 1124.4 293.1)"/>
<ellipse class="b" cx="641.1" cy="483.4" rx="38.3" ry="3" opacity="0.08" transform="rotate(3 641.1 483.4)"/>
<ellipse class="b" cx="314.1" cy="148.8" rx="45" ry="2.8" opacity="0.10"/>
<ellipse class="b" cx="756.3" cy="199.6" rx="35.9" ry="2.6" opacity="0.08" transform="rotate(-5 756.3 199.6)"/>
<ellipse class="b" cx="1888.7" cy="367.9" rx="45.4" ry="2.8" opacity="0.11"/>
<ellipse class="b" cx="756.1" cy="455.2" rx="27.4" ry="2.8" opacity="0.08" transform="rotate(-5 756.1 455.2)"/>
<ellipse class="b" cx="1326.4" cy="257.7" rx="25.8" ry="3" opacity="0.09"/>
<ellipse class="b" cx="1161.3" cy="289.8" rx="19.5" ry="2.8" opacity="0.08" transform="rotate(-3 1161.3 289.8)"/>
<ellipse class="b" cx="1819.8" cy="348.3" rx="38.2" ry="2.3" opacity="0.08"/>
<ellipse class="b" cx="1236" cy="563.2" rx="34.2" ry="2.6" opacity="0.08" transform="rotate(3 1236 563.2)"/>
<ellipse class="b" cx="1512.4" cy="122.4" rx="20.1" ry="2.4" opacity="0.10" transform="rotate(-3 1512.4 122.4)"/>
<ellipse class="b" cx="419" cy="217.8" rx="40" ry="2.8" opacity="0.08" transform="rotate(-3 419 217.8)"/>
<ellipse class="b" cx="734" cy="426.3" rx="45.5" ry="2.3" opacity="0.11" transform="rotate(-3 734 426.3)"/>
<ellipse class="b" cx="511.3" cy="171" rx="24.9" ry="2.3" opacity="0.12" transform="rotate(-5 511.3 171)"/>
<ellipse class="b" cx="1496.2" cy="377.5" rx="38.3" ry="2.5" opacity="0.08"/>
<ellipse class="b" cx="403.7" cy="428.9" rx="38.9" ry="2.9" opacity="0.10"/>
<ellipse class="b" cx="1732.1" cy="449.6" rx="44.7" ry="3.2" opacity="0.07" transform="rotate(8 1732.1 449.6)"/>
<ellipse class="b" cx="1415" cy="288.6" rx="35.8" ry="2.4" opacity="0.06"/>
<ellipse class="b" cx="520.6" cy="228.6" rx="43" ry="3.2" opacity="0.12"/>
<ellipse class="b" cx="1782.6" cy="335.5" rx="28" ry="3" opacity="0.10"/>
<ellipse class="b" cx="1663" cy="471.6" rx="17" ry="2.8" opacity="0.11" transform="rotate(-3 1663 471.6)"/>
<ellipse class="b" cx="1578.2" cy="428.2" rx="33.9" ry="3" opacity="0.08"/>
<ellipse class="b" cx="1868.1" cy="254.9" rx="23.5" ry="3.1" opacity="0.07" transform="rotate(6 1868.1 254.9)"/>
<ellipse class="b" cx="687.1" cy="126.3" rx="27.7" ry="3.5" opacity="0.10" transform="rotate(6 687.1 126.3)"/>
<ellipse class="b" cx="374" cy="182.6" rx="32.2" ry="2.6" opacity="0.08"/>
<ellipse class="b" cx="1496.8" cy="144.9" rx="41.5" ry="3.1" opacity="0.04" transform="rotate(-3 1496.8 144.9)"/>
<ellipse class="b" cx="1167.7" cy="257.3" rx="44.5" ry="2.4" opacity="0.10" transform="rotate(3 1167.7 257.3)"/>
<ellipse class="b" cx="1547.4" cy="201.5" rx="32.3" ry="2.5" opacity="0.09"/>
<ellipse class="b" cx="869.3" cy="253.1" rx="39.8" ry="2.4" opacity="0.11" transform="rotate(3 869.3 253.1)"/>
<ellipse class="b" cx="851.9" cy="179.1" rx="36.2" ry="2.5" opacity="0.07" transform="rotate(8 851.9 179.1)"/>
<ellipse class="b" cx="1059" cy="227.9" rx="24.8" ry="2.5" opacity="0.09" transform="rotate(6 1059 227.9)"/>
<ellipse class="b" cx="1670.6" cy="511.5" rx="32.6" ry="3.3" opacity="0.10" transform="rotate(8 1670.6 511.5)"/>
<ellipse class="b" cx="1414.6" cy="382.1" rx="25.6" ry="3.2" opacity="0.08" transform="rotate(-3 1414.6 382.1)"/>
<ellipse class="b" cx="1153.1" cy="329.4" rx="26.8" ry="2.7" opacity="0.07" transform="rotate(8 1153.1 329.4)"/>
<ellipse class="b" cx="1453.6" cy="526.5" rx="32.8" ry="2.7" opacity="0.09"/>
<ellipse class="b" cx="586.3" cy="274.1" rx="20.7" ry="2.5" opacity="0.12"/>
<ellipse class="b" cx="1152.8" cy="307.8" rx="19.1" ry="3.6" opacity="0.10" transform="rotate(-5 1152.8 307.8)"/>
<ellipse class="b" cx="1703.3" cy="144.6" rx="22.3" ry="3.1" opacity="0.10"/>
<ellipse class="b" cx="1855" cy="368.6" rx="25.4" ry="3.6" opacity="0.07" transform="rotate(3 1855 368.6)"/>
<ellipse class="b" cx="1669.1" cy="550.6" rx="31" ry="3.6" opacity="0.09" transform="rotate(-3 1669.1 550.6)"/>
<ellipse class="b" cx="319.5" cy="149.5" rx="44.7" ry="2.5" opacity="0.04"/>
<ellipse class="b" cx="571.7" cy="389.7" rx="39.1" ry="2.3" opacity="0.10"/>
<ellipse class="b" cx="1627.8" cy="293.6" rx="26.8" ry="2.7" opacity="0.04"/>
<ellipse class="b" cx="1223.4" cy="351.4" rx="36.4" ry="3.6" opacity="0.08"/>
<ellipse class="b" cx="943.6" cy="192.9" rx="29.9" ry="2.6" opacity="0.07" transform="rotate(-3 943.6 192.9)"/>
<ellipse class="b" cx="1374.4" cy="392.4" rx="33.5" ry="2.6" opacity="0.09"/>
<ellipse class="b" cx="646.5" cy="241.9" rx="37.9" ry="3" opacity="0.10"/>
<ellipse class="b" cx="395.8" cy="467" rx="23" ry="2.8" opacity="0.08"/>
<ellipse class="b" cx="899.5" cy="161.1" rx="39.6" ry="2.8" opacity="0.07"/>
<ellipse class="b" cx="736.1" cy="384.1" rx="30.6" ry="2.4" opacity="0.11"/>
<ellipse class="b" cx="321.2" cy="559.9" rx="21.3" ry="3.5" opacity="0.04"/>
<ellipse class="b" cx="1835.3" cy="548.9" rx="44" ry="3.6" opacity="0.06" transform="rotate(-3 1835.3 548.9)"/>
<ellipse class="b" cx="582" cy="161.2" rx="42.6" ry="2.8" opacity="0.10" transform="rotate(-5 582 161.2)"/>
<ellipse class="b" cx="1453.9" cy="545.1" rx="42.2" ry="3.2" opacity="0.12" transform="rotate(-3 1453.9 545.1)"/>
<ellipse class="b" cx="468.5" cy="251.6" rx="24.6" ry="3.3" opacity="0.09" transform="rotate(-5 468.5 251.6)"/>
<ellipse class="b" cx="1127.3" cy="556.5" rx="23.2" ry="3.6" opacity="0.06" transform="rotate(3 1127.3 556.5)"/>
<ellipse class="b" cx="1792.3" cy="424.9" rx="44.9" ry="2.7" opacity="0.09"/>
<ellipse class="b" cx="1561.6" cy="568.9" rx="34.3" ry="2.3" opacity="0.11" transform="rotate(-5 1561.6 568.9)"/>
<ellipse class="b" cx="508.1" cy="323.6" rx="29.5" ry="2.4" opacity="0.09" transform="rotate(8 508.1 323.6)"/>
<ellipse class="b" cx="533.3" cy="179.4" rx="22.8" ry="2.8" opacity="0.04"/>
<ellipse class="b" cx="1836.9" cy="393.3" rx="17.3" ry="2.7" opacity="0.07"/>
<ellipse class="b" cx="335.3" cy="222" rx="27.4" ry="2.5" opacity="0.08" transform="rotate(-3 335.3 222)"/>
<ellipse class="b" cx="502" cy="377.3" rx="29.2" ry="2.8" opacity="0.09" transform="rotate(3 502 377.3)"/>
<ellipse class="b" cx="1659.8" cy="524.8" rx="31.6" ry="3.3" opacity="0.12" transform="rotate(3 1659.8 524.8)"/>
<ellipse class="b" cx="1791.8" cy="247.8" rx="28.5" ry="2.7" opacity="0.10" transform="rotate(-3 1791.8 247.8)"/>
<ellipse class="b" cx="425.7" cy="429.9" rx="33" ry="3.2" opacity="0.08" transform="rotate(8 425.7 429.9)"/>
<ellipse class="b" cx="1386.6" cy="417.9" rx="31.2" ry="2.4" opacity="0.11" transform="rotate(-5 1386.6 417.9)"/>
<ellipse class="b" cx="789" cy="406.5" rx="20.8" ry="2.8" opacity="0.04" transform="rotate(8 789 406.5)"/>
<ellipse class="b" cx="405.6" cy="484.8" rx="41" ry="2.6" opacity="0.11" transform="rotate(3 405.6 484.8)"/>
<ellipse class="b" cx="1301" cy="144.9" rx="18.3" ry="2.5" opacity="0.06" transform="rotate(-5 1301 144.9)"/>
<ellipse class="b" cx="783.3" cy="419.4" rx="43.8" ry="3.4" opacity="0.10" transform="rotate(-5 783.3 419.4)"/>
<ellipse class="b" cx="1865" cy="541.9" rx="40" ry="3.4" opacity="0.10" transform="rotate(3 1865 541.9)"/>
<ellipse class="b" cx="555.1" cy="492" rx="23.8" ry="3.6" opacity="0.11"/>
<ellipse class="b" cx="1341.4" cy="324.5" rx="36.5" ry="3.6" opacity="0.08"/>
<ellipse class="b" cx="528.3" cy="221.6" rx="28.1" ry="3.6" opacity="0.07" transform="rotate(3 528.3 221.6)"/>
<ellipse class="b" cx="1284.2" cy="156.1" rx="18.4" ry="3.4" opacity="0.11" transform="rotate(6 1284.2 156.1)"/>
<ellipse class="b" cx="1310.7" cy="334.7" rx="27" ry="3" opacity="0.04"/>
<ellipse class="b" cx="1865.9" cy="207.5" rx="20" ry="2.7" opacity="0.06" transform="rotate(6 1865.9 207.5)"/>
<ellipse class="b" cx="712.9" cy="186.3" rx="36.8" ry="2.8" opacity="0.12" transform="rotate(-3 712.9 186.3)"/>
<ellipse class="b" cx="356.1" cy="108" rx="33.7" ry="3.3" opacity="0.07" transform="rotate(-5 356.1 108)"/>
<ellipse class="b" cx="811.5" cy="231.1" rx="30.9" ry="2.4" opacity="0.04" transform="rotate(8 811.5 231.1)"/>
<ellipse class="b" cx="1502.4" cy="351.4" rx="44" ry="2.8" opacity="0.08" transform="rotate(6 1502.4 351.4)"/>
<ellipse class="b" cx="381.7" cy="120.5" rx="32.1" ry="2.8" opacity="0.12" transform="rotate(8 381.7 120.5)"/>
<ellipse class="b" cx="931.5" cy="209.7" rx="44.8" ry="2.9" opacity="0.06" transform="rotate(6 931.5 209.7)"/>
<ellipse class="b" cx="946.4" cy="401.6" rx="43.8" ry="3.1" opacity="0.09" transform="rotate(3 946.4 401.6)"/>
<ellipse class="b" cx="952.5" cy="101" rx="21.9" ry="2.6" opacity="0.12"/>
<ellipse class="b" cx="1849.1" cy="478.6" rx="44.1" ry="3.2" opacity="0.07"/>
<ellipse class="b" cx="1012.9" cy="305.7" rx="30.5" ry="3.2" opacity="0.12"/>
<ellipse class="b" cx="271" cy="321.5" rx="42.1" ry="3.2" opacity="0.12" transform="rotate(-5 271 321.5)"/>
<ellipse class="b" cx="1482.3" cy="291.4" rx="36.6" ry="2.4" opacity="0.09"/>
<ellipse class="b" cx="1188.1" cy="214.5" rx="28.4" ry="3.3" opacity="0.08" transform="rotate(6 1188.1 214.5)"/>
<ellipse class="b" cx="1278" cy="196.4" rx="38.4" ry="3.6" opacity="0.12" transform="rotate(-3 1278 196.4)"/>
<ellipse class="b" cx="1309" cy="258.6" rx="41.2" ry="3.3" opacity="0.10" transform="rotate(6 1309 258.6)"/>
<ellipse class="b" cx="1687.2" cy="188.4" rx="19.3" ry="2.8" opacity="0.07"/>
<ellipse class="b" cx="980.6" cy="315.8" rx="34.9" ry="3.2" opacity="0.08" transform="rotate(3 980.6 315.8)"/>
<ellipse class="b" cx="412.9" cy="453.1" rx="32.8" ry="3.6" opacity="0.10" transform="rotate(8 412.9 453.1)"/>
<ellipse class="b" cx="1550" cy="290.6" rx="38.4" ry="2.9" opacity="0.07" transform="rotate(-5 1550 290.6)"/>
<ellipse class="b" cx="1334.1" cy="205.2" rx="32.4" ry="3.2" opacity="0.12" transform="rotate(-3 1334.1 205.2)"/>
<ellipse class="b" cx="906.3" cy="504.2" rx="29.1" ry="2.6" opacity="0.06" transform="rotate(6 906.3 504.2)"/>
<ellipse class="b" cx="917.7" cy="579.2" rx="43.4" ry="3.4" opacity="0.04"/>
<ellipse class="b" cx="1634.3" cy="285.7" rx="37.5" ry="3.1" opacity="0.10" transform="rotate(-3 1634.3 285.7)"/>
<ellipse class="b" cx="678.1" cy="438.6" rx="32.6" ry="3.3" opacity="0.12"/>
<ellipse class="b" cx="1221.8" cy="489.6" rx="17.2" ry="3" opacity="0.10" transform="rotate(-3 1221.8 489.6)"/>
<ellipse class="b" cx="1075.8" cy="176.4" rx="42.8" ry="3.5" opacity="0.10" transform="rotate(3 1075.8 176.4)"/>
<ellipse class="b" cx="1846.2" cy="424.4" rx="18" ry="3.6" opacity="0.08" transform="rotate(8 1846.2 424.4)"/>
<ellipse class="b" cx="1197" cy="559.6" rx="38.9" ry="3" opacity="0.06" transform="rotate(3 1197 559.6)"/>
<ellipse class="b" cx="542" cy="272.1" rx="37.3" ry="3" opacity="0.06" transform="rotate(8 542 272.1)"/>
<ellipse class="b" cx="1148.1" cy="288.9" rx="39.8" ry="2.6" opacity="0.09"/>
<ellipse class="b" cx="309" cy="538.7" rx="17.4" ry="3" opacity="0.06"/>
<ellipse class="b" cx="1402.6" cy="108.7" rx="41.9" ry="3.2" opacity="0.06" transform="rotate(-3 1402.6 108.7)"/>
<ellipse class="b" cx="817.7" cy="523" rx="30.5" ry="3.6" opacity="0.07" transform="rotate(-5 817.7 523)"/>
<ellipse class="b" cx="1554" cy="232.2" rx="27.2" ry="2.5" opacity="0.09" transform="rotate(-3 1554 232.2)"/>
<ellipse class="b" cx="1841.4" cy="261.3" rx="29.3" ry="2.9" opacity="0.11"/>
<ellipse class="b" cx="1254.4" cy="264.7" rx="26" ry="2.8" opacity="0.11" transform="rotate(-5 1254.4 264.7)"/>
<ellipse class="b" cx="640.9" cy="445.1" rx="37" ry="3.6" opacity="0.04" transform="rotate(8 640.9 445.1)"/>
<ellipse class="b" cx="307.4" cy="252.9" rx="39" ry="3.5" opacity="0.08" transform="rotate(8 307.4 252.9)"/>
<ellipse class="b" cx="369.8" cy="144.7" rx="37.1" ry="2.3" opacity="0.06" transform="rotate(3 369.8 144.7)"/>
<ellipse class="b" cx="516.7" cy="425.7" rx="39.5" ry="2.8" opacity="0.07"/>
<ellipse class="b" cx="855.1" cy="216.3" rx="24.3" ry="2.8" opacity="0.04" transform="rotate(3 855.1 216.3)"/>
<ellipse class="b" cx="548.9" cy="179.4" rx="19.4" ry="2.7" opacity="0.10"/>
<ellipse class="b" cx="1715.5" cy="462.4" rx="36" ry="2.6" opacity="0.10" transform="rotate(8 1715.5 462.4)"/>
<ellipse class="b" cx="1600.7" cy="271.5" rx="29.6" ry="2.7" opacity="0.09"/>
<ellipse class="b" cx="751" cy="285.9" rx="17.7" ry="2.6" opacity="0.08" transform="rotate(8 751 285.9)"/>
<ellipse class="b" cx="1685.3" cy="502.4" rx="37" ry="2.4" opacity="0.10" transform="rotate(-5 1685.3 502.4)"/>
<ellipse class="b" cx="1085.6" cy="205.4" rx="35.8" ry="2.4" opacity="0.11"/>
</g>
<g filter="url(#bl)">
<linearGradient id="r1" gradientUnits="userSpaceOnUse" x1="880" y1="0" x2="1900" y2="0"><stop offset="0.0000" stop-color="#fff" stop-opacity="0.00"/><stop offset="0.0160" stop-color="#fff" stop-opacity="0.37"/><stop offset="0.0343" stop-color="#fff" stop-opacity="0.60"/><stop offset="0.0523" stop-color="#fff" stop-opacity="0.75"/><stop offset="0.0686" stop-color="#fff" stop-opacity="0.60"/><stop offset="0.0865" stop-color="#fff" stop-opacity="0.55"/><stop offset="0.1066" stop-color="#fff" stop-opacity="0.75"/><stop offset="0.1225" stop-color="#fff" stop-opacity="0.70"/><stop offset="0.1369" stop-color="#fff" stop-opacity="0.60"/><stop offset="0.1671" stop-color="#fff" stop-opacity="0.37"/><stop offset="0.1951" stop-color="#fff" stop-opacity="0.48"/><stop offset="0.2067" stop-color="#fff" stop-opacity="0.55"/><stop offset="0.2255" stop-color="#fff" stop-opacity="0.65"/><stop offset="0.2369" stop-color="#fff" stop-opacity="0.70"/><stop offset="0.2480" stop-color="#fff" stop-opacity="0.50"/><stop offset="0.2549" stop-color="#fff" stop-opacity="0.36"/><stop offset="0.2611" stop-color="#fff" stop-opacity="0.37"/><stop offset="0.2794" stop-color="#fff" stop-opacity="0.45"/><stop offset="0.2974" stop-color="#fff" stop-opacity="0.60"/><stop offset="0.3275" stop-color="#fff" stop-opacity="0.60"/><stop offset="0.3578" stop-color="#fff" stop-opacity="0.45"/><stop offset="0.3879" stop-color="#fff" stop-opacity="0.60"/><stop offset="0.4182" stop-color="#fff" stop-opacity="0.72"/><stop offset="0.4363" stop-color="#fff" stop-opacity="0.91"/><stop offset="0.4584" stop-color="#fff" stop-opacity="0.94"/><stop offset="0.4987" stop-color="#fff" stop-opacity="0.91"/><stop offset="0.5196" stop-color="#fff" stop-opacity="0.80"/><stop offset="0.5390" stop-color="#fff" stop-opacity="0.70"/><stop offset="0.5569" stop-color="#fff" stop-opacity="0.45"/><stop offset="0.5873" stop-color="#fff" stop-opacity="0.37"/><stop offset="0.5980" stop-color="#fff" stop-opacity="0.45"/><stop offset="0.6584" stop-color="#fff" stop-opacity="0.45"/><stop offset="0.6912" stop-color="#fff" stop-opacity="0.50"/><stop offset="0.7189" stop-color="#fff" stop-opacity="0.62"/><stop offset="0.7451" stop-color="#fff" stop-opacity="0.62"/><stop offset="0.7592" stop-color="#fff" stop-opacity="0.72"/><stop offset="0.7894" stop-color="#fff" stop-opacity="0.75"/><stop offset="0.8196" stop-color="#fff" stop-opacity="0.55"/><stop offset="0.8498" stop-color="#fff" stop-opacity="0.55"/><stop offset="0.8801" stop-color="#fff" stop-opacity="0.75"/><stop offset="0.9103" stop-color="#fff" stop-opacity="0.60"/><stop offset="0.9405" stop-color="#fff" stop-opacity="0.72"/><stop offset="0.9706" stop-color="#fff" stop-opacity="0.78"/><stop offset="1.0000" stop-color="#fff" stop-opacity="0.75"/></linearGradient><path class="r" d="M880 327.5L896.3 324.4L915 323L933.3 322.7L950 324.5L968.2 327.5L988.7 329.5L1005 330.5L1019.6 331.5L1050.4 333.6L1079 335.7L1090.8 335.3L1110 336.5L1121.6 337L1133 336L1140 332.5L1146.3 330.2L1165 329L1183.3 328.1L1214 325.1L1245 323L1275.7 322L1306.6 319.9L1325 319L1347.6 318.5L1388.7 317.2L1410 316.5L1429.8 315.8L1448 314.8L1479 313.6L1490 311.7L1551.6 310.1L1585 308.4L1613.3 306.6L1640 306.9L1654.4 307.4L1685.2 308.5L1716 309.1L1746.8 309.7L1777.7 310.1L1808.5 311.5L1839.3 313.2L1870 314.2L1900 314.6" stroke="url(#r1)" stroke-width="7.2"/>
<linearGradient id="r2" gradientUnits="userSpaceOnUse" x1="438.1" y1="0" x2="805.2" y2="0"><stop offset="0.0000" stop-color="#fff" stop-opacity="0.00"/><stop offset="0.0523" stop-color="#fff" stop-opacity="0.34"/><stop offset="0.1120" stop-color="#fff" stop-opacity="0.31"/><stop offset="0.1716" stop-color="#fff" stop-opacity="0.45"/><stop offset="0.2313" stop-color="#fff" stop-opacity="0.34"/><stop offset="0.2762" stop-color="#fff" stop-opacity="0.50"/><stop offset="0.3359" stop-color="#fff" stop-opacity="0.61"/><stop offset="0.4105" stop-color="#fff" stop-opacity="0.86"/><stop offset="0.4852" stop-color="#fff" stop-opacity="0.93"/><stop offset="0.5598" stop-color="#fff" stop-opacity="0.91"/><stop offset="0.6194" stop-color="#fff" stop-opacity="0.81"/><stop offset="0.6791" stop-color="#fff" stop-opacity="0.76"/><stop offset="0.7238" stop-color="#fff" stop-opacity="0.66"/><stop offset="0.7837" stop-color="#fff" stop-opacity="0.63"/><stop offset="0.8583" stop-color="#fff" stop-opacity="0.56"/><stop offset="0.9180" stop-color="#fff" stop-opacity="0.38"/><stop offset="0.9700" stop-color="#fff" stop-opacity="0.31"/><stop offset="1.0000" stop-color="#fff" stop-opacity="0.00"/></linearGradient><path class="r" d="M438.1 225.6L457.3 228.4L479.2 232.5L501.1 239.3L523 248.9L539.5 255.8L561.4 259.9L588.8 261.2L616.2 261.5L643.6 262.6L665.5 264.8L687.4 267.5L703.8 273L725.8 281.8L753.2 291.4L775.1 298.2L794.2 304.2L805.2 307.8" stroke="url(#r2)" stroke-width="6.8"/>
<linearGradient id="r3" gradientUnits="userSpaceOnUse" x1="536.7" y1="0" x2="687.4" y2="0"><stop offset="0.0000" stop-color="#fff" stop-opacity="0.00"/><stop offset="0.0909" stop-color="#fff" stop-opacity="0.55"/><stop offset="0.2548" stop-color="#fff" stop-opacity="0.63"/><stop offset="0.4001" stop-color="#fff" stop-opacity="0.41"/><stop offset="0.5820" stop-color="#fff" stop-opacity="0.48"/><stop offset="0.7638" stop-color="#fff" stop-opacity="0.55"/><stop offset="0.9270" stop-color="#fff" stop-opacity="0.48"/><stop offset="1.0000" stop-color="#fff" stop-opacity="0.00"/></linearGradient><path class="r" d="M536.7 267.5L550.4 268.6L575.1 269.7L597 271.4L624.4 270.8L651.8 268.6L676.4 269.5L687.4 270.8" stroke="url(#r3)" stroke-width="5"/>
<linearGradient id="r4" gradientUnits="userSpaceOnUse" x1="572.3" y1="0" x2="687.4" y2="0"><stop offset="0.0000" stop-color="#fff" stop-opacity="0.00"/><stop offset="0.1434" stop-color="#fff" stop-opacity="0.55"/><stop offset="0.2858" stop-color="#fff" stop-opacity="0.55"/><stop offset="0.4526" stop-color="#fff" stop-opacity="0.36"/><stop offset="0.6664" stop-color="#fff" stop-opacity="0.31"/><stop offset="0.8575" stop-color="#fff" stop-opacity="0.21"/><stop offset="1.0000" stop-color="#fff" stop-opacity="0.00"/></linearGradient><path class="r" d="M572.3 280.4L588.8 281.8L605.2 281.8L624.4 279L649 277.7L671 281.8L687.4 285.9" stroke="url(#r4)" stroke-width="5"/>
<linearGradient id="r5" gradientUnits="userSpaceOnUse" x1="588.8" y1="0" x2="695.6" y2="0"><stop offset="0.0000" stop-color="#fff" stop-opacity="0.00"/><stop offset="0.1283" stop-color="#fff" stop-opacity="0.36"/><stop offset="0.3333" stop-color="#fff" stop-opacity="0.41"/><stop offset="0.5637" stop-color="#fff" stop-opacity="0.41"/><stop offset="0.8202" stop-color="#fff" stop-opacity="0.36"/><stop offset="1.0000" stop-color="#fff" stop-opacity="0.00"/></linearGradient><path class="r" d="M588.8 307.8L602.5 309.2L624.4 311.4L649 314.1L676.4 316.8L695.6 319.6" stroke="url(#r5)" stroke-width="5"/>
<linearGradient id="r6" gradientUnits="userSpaceOnUse" x1="651.8" y1="0" x2="742.2" y2="0"><stop offset="0.0000" stop-color="#fff" stop-opacity="0.00"/><stop offset="0.1515" stop-color="#fff" stop-opacity="0.31"/><stop offset="0.4237" stop-color="#fff" stop-opacity="0.36"/><stop offset="0.6969" stop-color="#fff" stop-opacity="0.31"/><stop offset="1.0000" stop-color="#fff" stop-opacity="0.00"/></linearGradient><path class="r" d="M651.8 98.2L665.5 100.4L690.1 104.2L714.8 109.2L742.2 113.3" stroke="url(#r6)" stroke-width="5"/>
<linearGradient id="r7" gradientUnits="userSpaceOnUse" x1="490.1" y1="0" x2="564.1" y2="0"><stop offset="0.0000" stop-color="#fff" stop-opacity="0.00"/><stop offset="0.2973" stop-color="#fff" stop-opacity="0.36"/><stop offset="0.5932" stop-color="#fff" stop-opacity="0.38"/><stop offset="0.8149" stop-color="#fff" stop-opacity="0.31"/><stop offset="1.0000" stop-color="#fff" stop-opacity="0.00"/></linearGradient><path class="r" d="M490.1 213.3L512.1 216.6L534 218.8L550.4 221L564.1 222.1" stroke="url(#r7)" stroke-width="5"/>
<linearGradient id="r8" gradientUnits="userSpaceOnUse" x1="586" y1="0" x2="775.1" y2="0"><stop offset="0.0000" stop-color="#fff" stop-opacity="0.00"/><stop offset="0.1015" stop-color="#fff" stop-opacity="0.36"/><stop offset="0.2173" stop-color="#fff" stop-opacity="0.36"/><stop offset="0.3046" stop-color="#fff" stop-opacity="0.26"/><stop offset="0.3622" stop-color="#fff" stop-opacity="0.31"/><stop offset="0.4638" stop-color="#fff" stop-opacity="0.38"/><stop offset="0.5362" stop-color="#fff" stop-opacity="0.36"/><stop offset="0.6230" stop-color="#fff" stop-opacity="0.26"/><stop offset="0.7393" stop-color="#fff" stop-opacity="0.24"/><stop offset="0.8551" stop-color="#fff" stop-opacity="0.26"/><stop offset="0.9561" stop-color="#fff" stop-opacity="0.21"/><stop offset="1.0000" stop-color="#fff" stop-opacity="0.00"/></linearGradient><path class="r" d="M586 212.5L605.2 213.3L627.1 213.8L643.6 214.7L654.5 216.6L673.7 216L687.4 217.4L703.8 224.2L725.8 231.1L747.7 236.6L766.8 239.3L775.1 240.7" stroke="url(#r8)" stroke-width="5"/>
<linearGradient id="r9" gradientUnits="userSpaceOnUse" x1="791.5" y1="0" x2="843.6" y2="0"><stop offset="0.0000" stop-color="#fff" stop-opacity="0.00"/><stop offset="0.2630" stop-color="#fff" stop-opacity="0.38"/><stop offset="0.5259" stop-color="#fff" stop-opacity="0.48"/><stop offset="0.7889" stop-color="#fff" stop-opacity="0.41"/><stop offset="1.0000" stop-color="#fff" stop-opacity="0.00"/></linearGradient><path class="r" d="M791.5 312.5L805.2 313.3L818.9 314.7L832.6 316.8L843.6 319.6" stroke="url(#r9)" stroke-width="5"/>
<linearGradient id="r10" gradientUnits="userSpaceOnUse" x1="1629.5" y1="0" x2="1897.9" y2="0"><stop offset="0.0000" stop-color="#fff" stop-opacity="0.00"/><stop offset="0.0611" stop-color="#fff" stop-opacity="0.28"/><stop offset="0.1837" stop-color="#fff" stop-opacity="0.31"/><stop offset="0.3368" stop-color="#fff" stop-opacity="0.26"/><stop offset="0.4694" stop-color="#fff" stop-opacity="0.23"/><stop offset="0.5306" stop-color="#fff" stop-opacity="0.28"/><stop offset="0.6431" stop-color="#fff" stop-opacity="0.28"/><stop offset="0.7552" stop-color="#fff" stop-opacity="0.31"/><stop offset="0.8469" stop-color="#fff" stop-opacity="0.32"/><stop offset="0.9083" stop-color="#fff" stop-opacity="0.35"/><stop offset="0.9594" stop-color="#fff" stop-opacity="0.23"/><stop offset="1.0000" stop-color="#fff" stop-opacity="0.00"/></linearGradient><path class="r" d="M1629.5 492.5L1645.9 494.5L1678.8 498L1719.9 502.7L1755.5 507.6L1771.9 515.8L1802.1 522.7L1832.2 524L1856.8 526.8L1873.3 529L1887 529.5L1897.9 530.1" stroke="url(#r10)" stroke-width="8"/>
</g>
</g>
<path d="M267.5 264.3H1899.8" stroke="#fff" stroke-width="2.1" opacity="0.95"/>
<use href="#dem" class="dem" y="95"/>
</g>
<rect x="264" y="95" width="1635.8" height="487.2" fill="none" stroke="#262626" stroke-width="2.5" stroke-linejoin="round"/>
<path d="M536.6 95v15M536.6 582.2v-15M809.3 95v15M809.3 582.2v-15M1081.9 95v15M1081.9 582.2v-15M1354.5 95v15M1354.5 582.2v-15M1627.2 95v15M1627.2 582.2v-15M264 107.5h16M1899.8 107.5h-16M264 243.4h16M1899.8 243.4h-16M264 379.4h16M1899.8 379.4h-16M264 515.5h16M1899.8 515.5h-16" stroke="#262626" stroke-width="1.7" fill="none" opacity="0.85"/>
<text class="tk" text-anchor="end" transform="translate(234.3 135.8) scale(1 1.05)">3150</text>
<text class="tk" text-anchor="end" transform="translate(234.3 272.8) scale(1 1.05)">3100</text>
<text class="tk" text-anchor="end" transform="translate(234.3 409.8) scale(1 1.05)">3050</text>
<text class="tk" text-anchor="end" transform="translate(234.3 546.9) scale(1 1.05)">3000</text>
<text class="tt" text-anchor="middle" transform="translate(1097.8 71.7) scale(1 1.03)">1D TomoSAR - Direction 1</text>
<text class="lb" text-anchor="middle" transform="translate(70.9 338.1) rotate(-90)">height [m]</text>
</g>
<g id="panel2">
<g clip-path="url(#cp2)"><g filter="url(#jet)">
<rect x="247.5" y="660" width="1672.3" height="527.2" fill="#000"/>
<g filter="url(#bs)">
<ellipse class="b" cx="544.9" cy="817.5" rx="25.1" ry="5" opacity="0.35"/>
<ellipse class="b" cx="555.9" cy="839.4" rx="28.9" ry="5" opacity="0.44"/>
<ellipse class="b" cx="534" cy="812" rx="21.3" ry="3.9" opacity="0.29"/>
<ellipse class="b" cx="561.4" cy="824.3" rx="17.4" ry="4" opacity="0.32"/>
<ellipse class="b" cx="547.7" cy="868.2" rx="25.1" ry="4.7" opacity="0.47"/>
<ellipse class="b" cx="599.7" cy="861.3" rx="44.2" ry="4.6" opacity="0.44"/>
<ellipse class="b" cx="602.5" cy="869.5" rx="25.1" ry="4.1" opacity="0.33"/>
<ellipse class="b" cx="561.4" cy="864" rx="21.3" ry="4.1" opacity="0.33"/>
<ellipse class="b" cx="580.5" cy="916.1" rx="25.1" ry="5" opacity="0.29"/>
<ellipse class="b" cx="597" cy="921.6" rx="32.8" ry="3.7" opacity="0.24"/>
<ellipse class="b" cx="736.7" cy="913.4" rx="21.3" ry="5.9" opacity="0.32"/>
<ellipse class="b" cx="712.1" cy="901" rx="30.9" ry="4.2" opacity="0.35"/>
<ellipse class="b" cx="629.9" cy="886" rx="15.5" ry="3.5" opacity="0.19"/>
<ellipse class="b" cx="495.6" cy="808.7" rx="23.2" ry="4.2" opacity="0.35"/>
<ellipse class="b" cx="438.1" cy="826.5" rx="28.9" ry="4.3" opacity="0.38"/>
<ellipse class="b" cx="427.1" cy="816.9" rx="19.3" ry="3.7" opacity="0.24"/>
<ellipse class="b" cx="388.8" cy="825.1" rx="17.4" ry="3.7" opacity="0.24"/>
<ellipse class="b" cx="323" cy="806" rx="25.1" ry="3.9" opacity="0.29"/>
<ellipse class="b" cx="342.2" cy="802.4" rx="27" ry="3.5" opacity="0.19" transform="rotate(-5 342.2 802.4)"/>
<ellipse class="b" cx="276.4" cy="792.3" rx="17.4" ry="3.7" opacity="0.24"/>
<ellipse class="b" cx="295.6" cy="795.5" rx="23.2" ry="3.2" opacity="0.14"/>
<ellipse class="b" cx="314.8" cy="753.1" rx="17.4" ry="3.7" opacity="0.24"/>
<ellipse class="b" cx="369.6" cy="751.7" rx="17.4" ry="3.9" opacity="0.29"/>
<ellipse class="b" cx="416.2" cy="764.9" rx="23.2" ry="3.9" opacity="0.29"/>
<ellipse class="b" cx="435.3" cy="761.3" rx="19.3" ry="3.7" opacity="0.24" transform="rotate(-10 435.3 761.3)"/>
<ellipse class="b" cx="492.9" cy="763.2" rx="23.2" ry="3.5" opacity="0.19"/>
<ellipse class="b" cx="279.2" cy="772.8" rx="15.5" ry="3.6" opacity="0.22"/>
<ellipse class="b" cx="613.4" cy="801.6" rx="30.9" ry="4.1" opacity="0.33"/>
<ellipse class="b" cx="714.8" cy="796.9" rx="34.7" ry="4" opacity="0.32"/>
<ellipse class="b" cx="766.8" cy="801.6" rx="21.3" ry="4" opacity="0.32"/>
<ellipse class="b" cx="769.6" cy="812" rx="23.2" ry="3.7" opacity="0.24" transform="rotate(20 769.6 812)"/>
<ellipse class="b" cx="777.8" cy="822.9" rx="27" ry="3.7" opacity="0.24"/>
<ellipse class="b" cx="643.6" cy="787.9" rx="19.3" ry="3.7" opacity="0.24"/>
<ellipse class="b" cx="588.8" cy="762.1" rx="32.8" ry="3.5" opacity="0.19"/>
<ellipse class="b" cx="684.7" cy="769.5" rx="23.2" ry="3.2" opacity="0.14"/>
<ellipse class="b" cx="739.5" cy="769.5" rx="15.5" ry="3.2" opacity="0.14"/>
<ellipse class="b" cx="531.2" cy="782.4" rx="21.3" ry="3.5" opacity="0.19"/>
<ellipse class="b" cx="665.5" cy="790.1" rx="13.6" ry="3" opacity="0.10"/>
<ellipse class="b" cx="446.3" cy="684" rx="19.3" ry="3.7" opacity="0.24"/>
<ellipse class="b" cx="506.6" cy="684" rx="21.3" ry="3.5" opacity="0.19"/>
<ellipse class="b" cx="561.4" cy="690.1" rx="23.2" ry="3.5" opacity="0.19"/>
<ellipse class="b" cx="599.7" cy="693.6" rx="15.5" ry="3.5" opacity="0.19"/>
<ellipse class="b" cx="457.3" cy="698.3" rx="17.4" ry="3.7" opacity="0.24"/>
<ellipse class="b" cx="366.8" cy="707.3" rx="19.3" ry="3.7" opacity="0.24"/>
<ellipse class="b" cx="287.4" cy="706.5" rx="19.3" ry="3.6" opacity="0.22"/>
<ellipse class="b" cx="487.4" cy="711.4" rx="23.2" ry="3.2" opacity="0.14"/>
<ellipse class="b" cx="586" cy="717.5" rx="21.3" ry="3.6" opacity="0.22"/>
<ellipse class="b" cx="550.4" cy="713.4" rx="17.4" ry="3.2" opacity="0.14"/>
<ellipse class="b" cx="671" cy="699.7" rx="19.3" ry="3.2" opacity="0.14"/>
<ellipse class="b" cx="317.5" cy="718.8" rx="15.5" ry="3.2" opacity="0.14"/>
<ellipse class="b" cx="358.6" cy="726.5" rx="15.5" ry="3.2" opacity="0.14"/>
<ellipse class="b" cx="654.5" cy="728.4" rx="19.3" ry="3.2" opacity="0.14"/>
<ellipse class="b" cx="342.2" cy="687.3" rx="15.5" ry="3" opacity="0.10"/>
<ellipse class="b" cx="323" cy="694.7" rx="15.5" ry="3" opacity="0.10"/>
<ellipse class="b" cx="725.8" cy="702.4" rx="13.6" ry="3" opacity="0.10"/>
<ellipse class="b" cx="780.5" cy="687.3" rx="15.5" ry="3" opacity="0.10"/>
<ellipse class="b" cx="429.9" cy="725.7" rx="15.5" ry="3" opacity="0.10"/>
<ellipse class="b" cx="353.2" cy="740.8" rx="15.5" ry="3" opacity="0.10"/>
<ellipse class="b" cx="709.3" cy="752.3" rx="15.5" ry="3" opacity="0.10"/>
<ellipse class="b" cx="813.4" cy="727.1" rx="11.7" ry="3" opacity="0.10"/>
<ellipse class="b" cx="281.9" cy="853.1" rx="17.4" ry="3.5" opacity="0.19"/>
<ellipse class="b" cx="336.7" cy="855.8" rx="21.3" ry="3.5" opacity="0.19"/>
<ellipse class="b" cx="397" cy="851.7" rx="21.3" ry="3.7" opacity="0.24"/>
<ellipse class="b" cx="295.6" cy="866.8" rx="19.3" ry="3.7" opacity="0.24"/>
<ellipse class="b" cx="339.5" cy="869.5" rx="21.3" ry="3.5" opacity="0.19"/>
<ellipse class="b" cx="388.8" cy="877.7" rx="27" ry="3.5" opacity="0.19"/>
<ellipse class="b" cx="421.6" cy="864" rx="19.3" ry="3.2" opacity="0.14"/>
<ellipse class="b" cx="440.8" cy="857.2" rx="23.2" ry="3.2" opacity="0.14"/>
<ellipse class="b" cx="306.6" cy="902.9" rx="19.3" ry="3.7" opacity="0.24"/>
<ellipse class="b" cx="413.4" cy="902.9" rx="17.4" ry="3.5" opacity="0.19"/>
<ellipse class="b" cx="451.8" cy="900.2" rx="23.2" ry="3.7" opacity="0.24"/>
<ellipse class="b" cx="462.7" cy="883.8" rx="17.4" ry="3.5" opacity="0.19"/>
<ellipse class="b" cx="451.8" cy="913.9" rx="21.3" ry="3.7" opacity="0.24"/>
<ellipse class="b" cx="498.4" cy="833.9" rx="32.8" ry="3.7" opacity="0.24"/>
<ellipse class="b" cx="342.2" cy="841.3" rx="19.3" ry="3.2" opacity="0.14"/>
<ellipse class="b" cx="523" cy="833.9" rx="23.2" ry="3.7" opacity="0.24"/>
<ellipse class="b" cx="758.6" cy="891.4" rx="23.2" ry="3.5" opacity="0.19"/>
<ellipse class="b" cx="742.2" cy="854.5" rx="15.5" ry="3.2" opacity="0.14"/>
<ellipse class="b" cx="786" cy="853.1" rx="15.5" ry="3.2" opacity="0.14"/>
<ellipse class="b" cx="805.2" cy="833.9" rx="15.5" ry="3.5" opacity="0.19"/>
<ellipse class="b" cx="660" cy="827.1" rx="23.2" ry="3.5" opacity="0.19"/>
<ellipse class="b" cx="687.4" cy="812" rx="23.2" ry="3.2" opacity="0.14"/>
<ellipse class="b" cx="739.5" cy="877.7" rx="15.5" ry="3.2" opacity="0.14"/>
<ellipse class="b" cx="375.1" cy="880.5" rx="19.3" ry="3.2" opacity="0.14"/>
<ellipse class="b" cx="517.5" cy="916.1" rx="27" ry="3.2" opacity="0.14"/>
<ellipse class="b" cx="679.2" cy="868.2" rx="17.4" ry="4.5" opacity="0.32" transform="rotate(35 679.2 868.2)"/>
<ellipse class="b" cx="695.6" cy="877.7" rx="17.4" ry="4.5" opacity="0.33" transform="rotate(30 695.6 877.7)"/>
<ellipse class="b" cx="668.2" cy="862.7" rx="13.6" ry="4.1" opacity="0.24" transform="rotate(35 668.2 862.7)"/>
<ellipse class="b" cx="709.3" cy="884.6" rx="13.6" ry="4.1" opacity="0.24" transform="rotate(35 709.3 884.6)"/>
<ellipse class="b" cx="1205.5" cy="703.8" rx="51.9" ry="4.1" opacity="0.33" transform="rotate(-8 1205.5 703.8)"/>
<ellipse class="b" cx="1183.6" cy="698.3" rx="32.8" ry="3.7" opacity="0.24"/>
<ellipse class="b" cx="1315.1" cy="695.5" rx="23.2" ry="3.6" opacity="0.22"/>
<ellipse class="b" cx="1021.9" cy="686.5" rx="21.3" ry="3.7" opacity="0.24"/>
<ellipse class="b" cx="868.5" cy="695.5" rx="17.4" ry="3.7" opacity="0.24"/>
<ellipse class="b" cx="1128.8" cy="687.3" rx="23.2" ry="3.2" opacity="0.14"/>
<ellipse class="b" cx="964.4" cy="709.2" rx="38.5" ry="3.6" opacity="0.22"/>
<ellipse class="b" cx="1046.6" cy="706.5" rx="27" ry="3.7" opacity="0.24" transform="rotate(-8 1046.6 706.5)"/>
<ellipse class="b" cx="958.9" cy="716.1" rx="19.3" ry="3.6" opacity="0.22"/>
<ellipse class="b" cx="893.2" cy="706.5" rx="19.3" ry="3.2" opacity="0.13"/>
<ellipse class="b" cx="1331.5" cy="710.6" rx="15.5" ry="3.2" opacity="0.14"/>
<ellipse class="b" cx="808.2" cy="728.4" rx="13.6" ry="3.2" opacity="0.14"/>
<ellipse class="b" cx="1071.2" cy="724.3" rx="27" ry="3.7" opacity="0.24"/>
<ellipse class="b" cx="1052.1" cy="733.9" rx="30.9" ry="3.7" opacity="0.24"/>
<ellipse class="b" cx="991.8" cy="729.8" rx="23.2" ry="3.2" opacity="0.14"/>
<ellipse class="b" cx="1271.2" cy="729.8" rx="38.5" ry="3.7" opacity="0.24" transform="rotate(-3 1271.2 729.8)"/>
<ellipse class="b" cx="1315.1" cy="742.1" rx="23.2" ry="3.6" opacity="0.22" transform="rotate(-5 1315.1 742.1)"/>
<ellipse class="b" cx="1202.7" cy="739.4" rx="19.3" ry="3.2" opacity="0.14"/>
<ellipse class="b" cx="1235.6" cy="749" rx="19.3" ry="3.2" opacity="0.14"/>
<ellipse class="b" cx="1263" cy="757.2" rx="19.3" ry="3.5" opacity="0.19"/>
<ellipse class="b" cx="1011" cy="749" rx="30.9" ry="3.6" opacity="0.22"/>
<ellipse class="b" cx="1038.4" cy="750.3" rx="15.5" ry="3.5" opacity="0.19"/>
<ellipse class="b" cx="1095.9" cy="768.2" rx="53.8" ry="3.8" opacity="0.26"/>
<ellipse class="b" cx="978.1" cy="777.7" rx="32.8" ry="3.8" opacity="0.26" transform="rotate(5 978.1 777.7)"/>
<ellipse class="b" cx="1211" cy="769.5" rx="23.2" ry="3" opacity="0.10"/>
<ellipse class="b" cx="1005.5" cy="781.8" rx="15.5" ry="3.2" opacity="0.14"/>
<ellipse class="b" cx="1284.9" cy="780.5" rx="23.2" ry="3" opacity="0.10"/>
<ellipse class="b" cx="895.9" cy="794.2" rx="23.2" ry="2.9" opacity="0.07"/>
<ellipse class="b" cx="1347.9" cy="788.7" rx="15.5" ry="3.2" opacity="0.14"/>
<ellipse class="b" cx="1057.5" cy="812" rx="61.5" ry="3.9" opacity="0.29" transform="rotate(-6 1057.5 812)"/>
<ellipse class="b" cx="1169.9" cy="809.2" rx="71.1" ry="3.8" opacity="0.26" transform="rotate(-6 1169.9 809.2)"/>
<ellipse class="b" cx="1238.4" cy="799.7" rx="61.5" ry="3.9" opacity="0.29" transform="rotate(-4 1238.4 799.7)"/>
<ellipse class="b" cx="1147.9" cy="796.9" rx="19.3" ry="3.5" opacity="0.19"/>
<ellipse class="b" cx="1293.2" cy="794.2" rx="19.3" ry="3.5" opacity="0.19"/>
<ellipse class="b" cx="1147.9" cy="824.3" rx="19.3" ry="3.7" opacity="0.24"/>
<ellipse class="b" cx="1342.5" cy="816.9" rx="15.5" ry="3.6" opacity="0.22"/>
<ellipse class="b" cx="1356.2" cy="806.5" rx="11.7" ry="3.5" opacity="0.19"/>
<ellipse class="b" cx="1254.8" cy="840.8" rx="23.2" ry="3.7" opacity="0.24"/>
<ellipse class="b" cx="1175.3" cy="848.2" rx="42.4" ry="4.2" opacity="0.35"/>
<ellipse class="b" cx="1057.5" cy="838.6" rx="17.4" ry="3.5" opacity="0.19"/>
<ellipse class="b" cx="1178.1" cy="832.5" rx="15.5" ry="3.2" opacity="0.14"/>
<ellipse class="b" cx="808.2" cy="833.9" rx="17.4" ry="3.5" opacity="0.19"/>
<ellipse class="b" cx="802.7" cy="822.9" rx="9.7" ry="3.2" opacity="0.14"/>
<ellipse class="b" cx="972.6" cy="857.2" rx="28.9" ry="4.3" opacity="0.38"/>
<ellipse class="b" cx="1063" cy="858" rx="53.8" ry="3.9" opacity="0.29" transform="rotate(-3 1063 858)"/>
<ellipse class="b" cx="928.8" cy="853.1" rx="32.8" ry="3.3" opacity="0.16" transform="rotate(-5 928.8 853.1)"/>
<ellipse class="b" cx="1112.3" cy="872.8" rx="19.3" ry="3.9" opacity="0.29"/>
<ellipse class="b" cx="843.8" cy="868.2" rx="23.2" ry="3.2" opacity="0.13"/>
<ellipse class="b" cx="832.9" cy="879.1" rx="23.2" ry="3.3" opacity="0.16"/>
<ellipse class="b" cx="865.8" cy="883.8" rx="27" ry="3.5" opacity="0.19"/>
<ellipse class="b" cx="1265.8" cy="861.3" rx="23.2" ry="3" opacity="0.10"/>
<ellipse class="b" cx="1265.8" cy="873.6" rx="27" ry="3" opacity="0.10"/>
<ellipse class="b" cx="1087.7" cy="888.7" rx="15.5" ry="2.9" opacity="0.07"/>
<ellipse class="b" cx="1306.8" cy="918.3" rx="19.3" ry="3.2" opacity="0.14"/>
<ellipse class="b" cx="813.7" cy="847.6" rx="19.3" ry="2.9" opacity="0.07"/>
<ellipse class="b" cx="1030.1" cy="902.4" rx="15.5" ry="3.2" opacity="0.14"/>
<ellipse class="b" cx="1826.7" cy="691.4" rx="42.4" ry="5.5" opacity="0.35"/>
<ellipse class="b" cx="1876" cy="688.7" rx="32.8" ry="5" opacity="0.35"/>
<ellipse class="b" cx="1728.1" cy="690.1" rx="28.9" ry="3.6" opacity="0.22"/>
<ellipse class="b" cx="1733.6" cy="701" rx="15.5" ry="3.5" opacity="0.19"/>
<ellipse class="b" cx="1588.4" cy="716.6" rx="38.5" ry="4.2" opacity="0.35"/>
<ellipse class="b" cx="1528.1" cy="717.5" rx="61.5" ry="3.7" opacity="0.24" transform="rotate(-3 1528.1 717.5)"/>
<ellipse class="b" cx="1645.9" cy="710.6" rx="23.2" ry="3.7" opacity="0.24"/>
<ellipse class="b" cx="1730.8" cy="720.2" rx="19.3" ry="3.9" opacity="0.29"/>
<ellipse class="b" cx="1802.1" cy="721.6" rx="80.7" ry="3.9" opacity="0.29" transform="rotate(-5 1802.1 721.6)"/>
<ellipse class="b" cx="1887" cy="718.8" rx="19.3" ry="3.7" opacity="0.24"/>
<ellipse class="b" cx="1596.6" cy="733.9" rx="42.4" ry="3.6" opacity="0.22"/>
<ellipse class="b" cx="1418.5" cy="732.5" rx="46.2" ry="3.3" opacity="0.16"/>
<ellipse class="b" cx="1404.8" cy="742.1" rx="32.8" ry="3.2" opacity="0.14"/>
<ellipse class="b" cx="1747.3" cy="747.6" rx="57.7" ry="3.6" opacity="0.22" transform="rotate(-12 1747.3 747.6)"/>
<ellipse class="b" cx="1815.8" cy="749" rx="38.5" ry="3.7" opacity="0.24" transform="rotate(5 1815.8 749)"/>
<ellipse class="b" cx="1884.2" cy="739.4" rx="27" ry="3.6" opacity="0.22" transform="rotate(-8 1884.2 739.4)"/>
<ellipse class="b" cx="1870.5" cy="754.5" rx="27" ry="3.5" opacity="0.19"/>
<ellipse class="b" cx="1459.6" cy="757.2" rx="27" ry="4.1" opacity="0.33"/>
<ellipse class="b" cx="1525.3" cy="753.1" rx="42.4" ry="3.6" opacity="0.22"/>
<ellipse class="b" cx="1588.4" cy="757.2" rx="23.2" ry="3.8" opacity="0.26"/>
<ellipse class="b" cx="1659.6" cy="755.8" rx="19.3" ry="3.5" opacity="0.19"/>
<ellipse class="b" cx="1624" cy="766.8" rx="32.8" ry="3.7" opacity="0.24" transform="rotate(-5 1624 766.8)"/>
<ellipse class="b" cx="1793.8" cy="766.8" rx="19.3" ry="5" opacity="0.32"/>
<ellipse class="b" cx="1761" cy="768.2" rx="28.9" ry="3.5" opacity="0.19"/>
<ellipse class="b" cx="1837.7" cy="765.4" rx="27" ry="3.5" opacity="0.19"/>
<ellipse class="b" cx="1454.1" cy="773.6" rx="51.9" ry="4" opacity="0.32" transform="rotate(-2 1454.1 773.6)"/>
<ellipse class="b" cx="1506.2" cy="777.7" rx="32.8" ry="4.2" opacity="0.35"/>
<ellipse class="b" cx="1380.1" cy="779.1" rx="19.3" ry="3.6" opacity="0.22"/>
<ellipse class="b" cx="1382.9" cy="787.3" rx="19.3" ry="3.3" opacity="0.16"/>
<ellipse class="b" cx="1519.9" cy="784.6" rx="13.6" ry="3.5" opacity="0.19"/>
<ellipse class="b" cx="1700.7" cy="783.2" rx="34.7" ry="3.8" opacity="0.26" transform="rotate(-8 1700.7 783.2)"/>
<ellipse class="b" cx="1761" cy="780.5" rx="42.4" ry="3.5" opacity="0.19"/>
<ellipse class="b" cx="1876" cy="776.4" rx="32.8" ry="3.6" opacity="0.22" transform="rotate(-5 1876 776.4)"/>
<ellipse class="b" cx="1802.1" cy="777.7" rx="19.3" ry="3.5" opacity="0.19"/>
<ellipse class="b" cx="1610.3" cy="795.5" rx="38.5" ry="4" opacity="0.32"/>
<ellipse class="b" cx="1615.8" cy="807.9" rx="27" ry="3.8" opacity="0.26" transform="rotate(-10 1615.8 807.9)"/>
<ellipse class="b" cx="1673.3" cy="803.8" rx="32.8" ry="3.7" opacity="0.24" transform="rotate(-6 1673.3 803.8)"/>
<ellipse class="b" cx="1777.4" cy="795.5" rx="32.8" ry="3.6" opacity="0.22"/>
<ellipse class="b" cx="1856.8" cy="799.7" rx="42.4" ry="3.6" opacity="0.22"/>
<ellipse class="b" cx="1728.1" cy="802.4" rx="23.2" ry="3.2" opacity="0.13"/>
<ellipse class="b" cx="1399.3" cy="812" rx="27" ry="3.7" opacity="0.24" transform="rotate(-5 1399.3 812)"/>
<ellipse class="b" cx="1358.2" cy="806.5" rx="15.5" ry="3.2" opacity="0.14"/>
<ellipse class="b" cx="1541.8" cy="822.9" rx="23.2" ry="3.2" opacity="0.14"/>
<ellipse class="b" cx="1684.2" cy="817.5" rx="19.3" ry="3.2" opacity="0.13"/>
<ellipse class="b" cx="1728.1" cy="817.5" rx="19.3" ry="3.2" opacity="0.13"/>
<ellipse class="b" cx="1815.8" cy="833.9" rx="42.4" ry="4.1" opacity="0.33"/>
<ellipse class="b" cx="1651.4" cy="836.6" rx="42.4" ry="3.8" opacity="0.26" transform="rotate(3 1651.4 836.6)"/>
<ellipse class="b" cx="1681.5" cy="831.2" rx="19.3" ry="3.5" opacity="0.19"/>
<ellipse class="b" cx="1733.6" cy="833.4" rx="27" ry="3.7" opacity="0.24"/>
<ellipse class="b" cx="1596.6" cy="840.8" rx="15.5" ry="3.5" opacity="0.19"/>
<ellipse class="b" cx="1851.4" cy="840.8" rx="19.3" ry="3.6" opacity="0.22"/>
<ellipse class="b" cx="1887" cy="846.2" rx="15.5" ry="3.6" opacity="0.22"/>
<ellipse class="b" cx="1687" cy="842.1" rx="15.5" ry="3.2" opacity="0.14"/>
<ellipse class="b" cx="1445.9" cy="843.5" rx="80.7" ry="3.6" opacity="0.22" transform="rotate(-3 1445.9 843.5)"/>
<ellipse class="b" cx="1489.7" cy="840.8" rx="19.3" ry="3.7" opacity="0.24"/>
<ellipse class="b" cx="1432.2" cy="850.3" rx="42.4" ry="3.2" opacity="0.14"/>
<ellipse class="b" cx="1856.8" cy="854.5" rx="23.2" ry="3.2" opacity="0.14"/>
<ellipse class="b" cx="1752.7" cy="850.3" rx="23.2" ry="3" opacity="0.10"/>
<ellipse class="b" cx="1519.9" cy="857.2" rx="15.5" ry="3" opacity="0.10"/>
<ellipse class="b" cx="1445.9" cy="864" rx="23.2" ry="3" opacity="0.10"/>
<ellipse class="b" cx="1656.8" cy="871.7" rx="23.2" ry="3.9" opacity="0.29"/>
<ellipse class="b" cx="1892.5" cy="868.2" rx="13.6" ry="4" opacity="0.32"/>
<ellipse class="b" cx="1719.9" cy="872.3" rx="15.5" ry="3.2" opacity="0.14"/>
<ellipse class="b" cx="1821.2" cy="879.1" rx="19.3" ry="3.2" opacity="0.14"/>
<ellipse class="b" cx="1391.1" cy="870.1" rx="15.5" ry="3.2" opacity="0.14"/>
<ellipse class="b" cx="1440.4" cy="876.4" rx="15.5" ry="3" opacity="0.10"/>
<ellipse class="b" cx="1418.5" cy="884.6" rx="19.3" ry="3" opacity="0.10"/>
<ellipse class="b" cx="1739" cy="883.2" rx="19.3" ry="3" opacity="0.10"/>
<ellipse class="b" cx="1692.5" cy="861.3" rx="15.5" ry="3" opacity="0.10"/>
<ellipse class="b" cx="1602.1" cy="913.4" rx="23.2" ry="3.5" opacity="0.19"/>
<ellipse class="b" cx="1528.1" cy="915.5" rx="27" ry="3.3" opacity="0.16"/>
<ellipse class="b" cx="1678.8" cy="909.2" rx="15.5" ry="3.2" opacity="0.14"/>
<ellipse class="b" cx="1788.4" cy="921.6" rx="15.5" ry="3" opacity="0.10"/>
<ellipse class="b" cx="594.2" cy="925.5" rx="38.5" ry="5" opacity="0.32" transform="rotate(15 594.2 925.5)"/>
<ellipse class="b" cx="616.2" cy="937.8" rx="15.5" ry="3.7" opacity="0.24"/>
<ellipse class="b" cx="747.7" cy="928.2" rx="28.9" ry="4.3" opacity="0.38"/>
<ellipse class="b" cx="739.5" cy="922.2" rx="23.2" ry="3.9" opacity="0.29"/>
<ellipse class="b" cx="714.8" cy="926.8" rx="15.5" ry="3.7" opacity="0.24"/>
<ellipse class="b" cx="523" cy="920.5" rx="19.3" ry="3.5" opacity="0.19"/>
<ellipse class="b" cx="813.4" cy="937.8" rx="13.6" ry="3.2" opacity="0.14"/>
<ellipse class="b" cx="498.4" cy="948.8" rx="21.3" ry="3.8" opacity="0.26"/>
<ellipse class="b" cx="640.8" cy="961.1" rx="23.2" ry="4" opacity="0.32"/>
<ellipse class="b" cx="725.8" cy="957.8" rx="51.9" ry="4" opacity="0.32" transform="rotate(-3 725.8 957.8)"/>
<ellipse class="b" cx="769.6" cy="961.6" rx="19.3" ry="3.9" opacity="0.29"/>
<ellipse class="b" cx="786" cy="969.3" rx="38.5" ry="4.2" opacity="0.35"/>
<ellipse class="b" cx="547.7" cy="968.8" rx="23.2" ry="3.5" opacity="0.19" transform="rotate(-8 547.7 968.8)"/>
<ellipse class="b" cx="394.2" cy="963.8" rx="15.5" ry="3.7" opacity="0.24"/>
<ellipse class="b" cx="281.9" cy="951.5" rx="15.5" ry="3.2" opacity="0.14"/>
<ellipse class="b" cx="424.4" cy="970.7" rx="15.5" ry="3.2" opacity="0.14"/>
<ellipse class="b" cx="424.4" cy="981.6" rx="15.5" ry="3.3" opacity="0.16"/>
<ellipse class="b" cx="361.4" cy="977" rx="27" ry="3.7" opacity="0.24"/>
<ellipse class="b" cx="279.2" cy="990.7" rx="21.3" ry="4.3" opacity="0.38"/>
<ellipse class="b" cx="298.4" cy="997.5" rx="15.5" ry="3.7" opacity="0.24" transform="rotate(15 298.4 997.5)"/>
<ellipse class="b" cx="336.7" cy="1002.2" rx="28.9" ry="4.3" opacity="0.38"/>
<ellipse class="b" cx="317.5" cy="1006.3" rx="19.3" ry="3.7" opacity="0.24"/>
<ellipse class="b" cx="332.6" cy="1013.7" rx="21.3" ry="4.1" opacity="0.33"/>
<ellipse class="b" cx="339.5" cy="1025.5" rx="19.3" ry="5" opacity="0.22"/>
<ellipse class="b" cx="797" cy="985.8" rx="21.3" ry="4.5" opacity="0.38"/>
<ellipse class="b" cx="797" cy="991.8" rx="15.5" ry="3.7" opacity="0.24"/>
<ellipse class="b" cx="649" cy="978.9" rx="21.3" ry="3.7" opacity="0.24"/>
<ellipse class="b" cx="690.1" cy="987.1" rx="23.2" ry="3.6" opacity="0.22"/>
<ellipse class="b" cx="649" cy="987.1" rx="15.5" ry="3.2" opacity="0.14"/>
<ellipse class="b" cx="460" cy="1003" rx="15.5" ry="3.2" opacity="0.14"/>
<ellipse class="b" cx="594.2" cy="981.6" rx="13.6" ry="3" opacity="0.10"/>
<ellipse class="b" cx="597" cy="1024.7" rx="28.9" ry="3.9" opacity="0.29"/>
<ellipse class="b" cx="629.9" cy="1031.5" rx="23.2" ry="3.8" opacity="0.26"/>
<ellipse class="b" cx="583.3" cy="1029.6" rx="15.5" ry="3.5" opacity="0.19"/>
<ellipse class="b" cx="676.4" cy="1036.4" rx="27" ry="3.7" opacity="0.24"/>
<ellipse class="b" cx="621.6" cy="1048.2" rx="25.1" ry="3.9" opacity="0.29"/>
<ellipse class="b" cx="684.7" cy="1007.7" rx="51.9" ry="3.2" opacity="0.14"/>
<ellipse class="b" cx="550.4" cy="1009" rx="19.3" ry="3.2" opacity="0.14"/>
<ellipse class="b" cx="490.1" cy="1021.4" rx="23.2" ry="3.2" opacity="0.13"/>
<ellipse class="b" cx="766.8" cy="1045.5" rx="23.2" ry="3.3" opacity="0.16"/>
<ellipse class="b" cx="712.1" cy="1044.7" rx="19.3" ry="3.2" opacity="0.14"/>
<ellipse class="b" cx="517.5" cy="1040.5" rx="27" ry="3.3" opacity="0.16"/>
<ellipse class="b" cx="813.4" cy="1015.9" rx="13.6" ry="3.2" opacity="0.14"/>
<ellipse class="b" cx="397" cy="1063" rx="19.3" ry="3.7" opacity="0.24"/>
<ellipse class="b" cx="492.9" cy="1072.1" rx="32.8" ry="3.9" opacity="0.29"/>
<ellipse class="b" cx="460" cy="1070.7" rx="15.5" ry="3.5" opacity="0.19"/>
<ellipse class="b" cx="736.7" cy="1065.2" rx="27" ry="3.8" opacity="0.26" transform="rotate(8 736.7 1065.2)"/>
<ellipse class="b" cx="588.8" cy="1061.9" rx="15.5" ry="3.5" opacity="0.19"/>
<ellipse class="b" cx="361.4" cy="1045.5" rx="15.5" ry="3.2" opacity="0.14"/>
<ellipse class="b" cx="429.9" cy="1063" rx="15.5" ry="3.2" opacity="0.13"/>
<ellipse class="b" cx="547.7" cy="1057" rx="15.5" ry="3" opacity="0.10"/>
<ellipse class="b" cx="807.9" cy="1061.1" rx="19.3" ry="3.2" opacity="0.13"/>
<ellipse class="b" cx="276.4" cy="1074.8" rx="19.3" ry="4.2" opacity="0.35"/>
<ellipse class="b" cx="268.2" cy="1061.1" rx="11.7" ry="3.5" opacity="0.19"/>
<ellipse class="b" cx="295.6" cy="1095.3" rx="19.3" ry="3.8" opacity="0.26"/>
<ellipse class="b" cx="287.4" cy="1100.8" rx="13.6" ry="3.6" opacity="0.22"/>
<ellipse class="b" cx="523" cy="1084.4" rx="23.2" ry="3.7" opacity="0.24"/>
<ellipse class="b" cx="520.3" cy="1091.2" rx="23.2" ry="4.1" opacity="0.33"/>
<ellipse class="b" cx="561.4" cy="1086.3" rx="23.2" ry="3.8" opacity="0.26"/>
<ellipse class="b" cx="657.3" cy="1098.6" rx="23.2" ry="3.7" opacity="0.24"/>
<ellipse class="b" cx="605.2" cy="1100.8" rx="15.5" ry="3.2" opacity="0.14"/>
<ellipse class="b" cx="797" cy="1100.8" rx="19.3" ry="3.9" opacity="0.29"/>
<ellipse class="b" cx="753.2" cy="1102.2" rx="42.4" ry="3.5" opacity="0.19"/>
<ellipse class="b" cx="755.9" cy="1109.9" rx="21.3" ry="4.1" opacity="0.33"/>
<ellipse class="b" cx="802.5" cy="1109" rx="23.2" ry="3.5" opacity="0.19"/>
<ellipse class="b" cx="350.4" cy="1098.6" rx="13.6" ry="3.2" opacity="0.14"/>
<ellipse class="b" cx="391.5" cy="1091.2" rx="11.7" ry="2.9" opacity="0.07"/>
<ellipse class="b" cx="369.6" cy="1110.4" rx="32.8" ry="3.7" opacity="0.24"/>
<ellipse class="b" cx="405.2" cy="1120.5" rx="34.7" ry="4.2" opacity="0.35"/>
<ellipse class="b" cx="542.2" cy="1111.2" rx="28.9" ry="4.1" opacity="0.33"/>
<ellipse class="b" cx="429.9" cy="1111.8" rx="19.3" ry="3.2" opacity="0.14"/>
<ellipse class="b" cx="569.6" cy="1120" rx="17.4" ry="3.3" opacity="0.16"/>
<ellipse class="b" cx="432.6" cy="1132.3" rx="30.9" ry="4.1" opacity="0.33" transform="rotate(-8 432.6 1132.3)"/>
<ellipse class="b" cx="383.3" cy="1128.8" rx="51.9" ry="3.5" opacity="0.19"/>
<ellipse class="b" cx="314.8" cy="1131" rx="17.4" ry="3.6" opacity="0.22"/>
<ellipse class="b" cx="451.8" cy="1139.7" rx="23.2" ry="4" opacity="0.32"/>
<ellipse class="b" cx="303.8" cy="1125.5" rx="15.5" ry="3.2" opacity="0.14"/>
<ellipse class="b" cx="643.6" cy="1131.5" rx="13.6" ry="3.7" opacity="0.24"/>
<ellipse class="b" cx="805.2" cy="1131" rx="23.2" ry="3.3" opacity="0.16"/>
<ellipse class="b" cx="306.6" cy="1144.7" rx="23.2" ry="3.5" opacity="0.19"/>
<ellipse class="b" cx="375.1" cy="1143.3" rx="19.3" ry="3.2" opacity="0.14"/>
<ellipse class="b" cx="295.6" cy="1151.5" rx="27" ry="3.3" opacity="0.16"/>
<ellipse class="b" cx="498.4" cy="1149.6" rx="23.2" ry="3.8" opacity="0.26"/>
<ellipse class="b" cx="555.9" cy="1141.9" rx="23.2" ry="3.2" opacity="0.14"/>
<ellipse class="b" cx="323" cy="1162.5" rx="23.2" ry="3.6" opacity="0.22"/>
<ellipse class="b" cx="473.7" cy="1163.8" rx="23.2" ry="3.7" opacity="0.24"/>
<ellipse class="b" cx="520.3" cy="1164.4" rx="19.3" ry="3.7" opacity="0.24"/>
<ellipse class="b" cx="380.5" cy="1161.1" rx="15.5" ry="3.2" opacity="0.14"/>
<ellipse class="b" cx="703.8" cy="1147.4" rx="15.5" ry="3" opacity="0.10"/>
<ellipse class="b" cx="268.2" cy="1144.7" rx="9.7" ry="3.5" opacity="0.19"/>
<ellipse class="b" cx="1293.2" cy="968.8" rx="19.3" ry="3.7" opacity="0.24"/>
<ellipse class="b" cx="934.2" cy="932.3" rx="19.3" ry="3.8" opacity="0.26"/>
<ellipse class="b" cx="890.4" cy="929.6" rx="19.3" ry="3.2" opacity="0.14"/>
<ellipse class="b" cx="821.9" cy="937.8" rx="27" ry="3.3" opacity="0.16"/>
<ellipse class="b" cx="913.7" cy="955.1" rx="17.4" ry="3.7" opacity="0.24"/>
<ellipse class="b" cx="972.6" cy="955.1" rx="19.3" ry="3.7" opacity="0.24"/>
<ellipse class="b" cx="1309.6" cy="930.4" rx="28.9" ry="3.6" opacity="0.22"/>
<ellipse class="b" cx="1306.8" cy="948.8" rx="17.4" ry="3.2" opacity="0.13"/>
<ellipse class="b" cx="1008.2" cy="929.6" rx="15.5" ry="3.2" opacity="0.14"/>
<ellipse class="b" cx="1060.3" cy="936.4" rx="13.6" ry="3" opacity="0.10"/>
<ellipse class="b" cx="893.2" cy="974.8" rx="36.6" ry="3.9" opacity="0.29" transform="rotate(5 893.2 974.8)"/>
<ellipse class="b" cx="808.2" cy="968.8" rx="15.5" ry="3.7" opacity="0.24"/>
<ellipse class="b" cx="802.7" cy="985.8" rx="11.7" ry="3.2" opacity="0.14"/>
<ellipse class="b" cx="937" cy="969.9" rx="17.4" ry="3.5" opacity="0.19"/>
<ellipse class="b" cx="852.1" cy="978.9" rx="19.3" ry="3.3" opacity="0.16"/>
<ellipse class="b" cx="909.6" cy="986.6" rx="17.4" ry="3.5" opacity="0.19"/>
<ellipse class="b" cx="1200" cy="986.6" rx="32.8" ry="3.6" opacity="0.22"/>
<ellipse class="b" cx="1082.2" cy="986.6" rx="19.3" ry="3.3" opacity="0.16"/>
<ellipse class="b" cx="1191.8" cy="996.2" rx="15.5" ry="3.3" opacity="0.16"/>
<ellipse class="b" cx="1274" cy="986.6" rx="15.5" ry="3.2" opacity="0.13"/>
<ellipse class="b" cx="1356.2" cy="974.8" rx="11.7" ry="3.5" opacity="0.19"/>
<ellipse class="b" cx="1002.7" cy="1015.9" rx="28.9" ry="4" opacity="0.32"/>
<ellipse class="b" cx="975.3" cy="1009.9" rx="21.3" ry="3.7" opacity="0.24"/>
<ellipse class="b" cx="1090.4" cy="1015.1" rx="28.9" ry="3.9" opacity="0.29"/>
<ellipse class="b" cx="1145.2" cy="1015.1" rx="38.5" ry="3.9" opacity="0.29"/>
<ellipse class="b" cx="865.8" cy="1015.1" rx="23.2" ry="3.5" opacity="0.19"/>
<ellipse class="b" cx="813.7" cy="1016.4" rx="19.3" ry="3.3" opacity="0.16"/>
<ellipse class="b" cx="931.5" cy="1007.7" rx="15.5" ry="3.2" opacity="0.14"/>
<ellipse class="b" cx="1060.3" cy="1020.8" rx="15.5" ry="3.2" opacity="0.14"/>
<ellipse class="b" cx="1117.8" cy="1031" rx="19.3" ry="3.5" opacity="0.19"/>
<ellipse class="b" cx="841.1" cy="1035.1" rx="27" ry="3.2" opacity="0.13"/>
<ellipse class="b" cx="1337" cy="1028.2" rx="42.4" ry="4.1" opacity="0.33" transform="rotate(-12 1337 1028.2)"/>
<ellipse class="b" cx="1312.3" cy="1037.8" rx="23.2" ry="3.7" opacity="0.24"/>
<ellipse class="b" cx="1334.2" cy="1048.8" rx="21.3" ry="5" opacity="0.29"/>
<ellipse class="b" cx="1252.1" cy="1046" rx="23.2" ry="3.8" opacity="0.26"/>
<ellipse class="b" cx="1265.8" cy="1054.8" rx="19.3" ry="3.6" opacity="0.22"/>
<ellipse class="b" cx="1189" cy="1063.8" rx="19.3" ry="5" opacity="0.22"/>
<ellipse class="b" cx="1178.1" cy="1055.6" rx="15.5" ry="3.2" opacity="0.14"/>
<ellipse class="b" cx="1282.2" cy="1070.7" rx="11.7" ry="3.2" opacity="0.14"/>
<ellipse class="b" cx="860.3" cy="1054.2" rx="27" ry="3.8" opacity="0.26"/>
<ellipse class="b" cx="849.3" cy="1048.2" rx="19.3" ry="3.6" opacity="0.22"/>
<ellipse class="b" cx="895.9" cy="1053.4" rx="23.2" ry="3.5" opacity="0.19"/>
<ellipse class="b" cx="945.2" cy="1050.7" rx="23.2" ry="3.6" opacity="0.22"/>
<ellipse class="b" cx="1021.9" cy="1046.6" rx="25.1" ry="3.7" opacity="0.24" transform="rotate(-5 1021.9 1046.6)"/>
<ellipse class="b" cx="975.3" cy="1055.6" rx="21.3" ry="3.6" opacity="0.22"/>
<ellipse class="b" cx="874" cy="1067.4" rx="21.3" ry="4.1" opacity="0.33"/>
<ellipse class="b" cx="1038.4" cy="1063" rx="27" ry="3.6" opacity="0.22"/>
<ellipse class="b" cx="1084.9" cy="1067.4" rx="15.5" ry="3.5" opacity="0.19"/>
<ellipse class="b" cx="1131.5" cy="1070.7" rx="32.8" ry="3.9" opacity="0.29" transform="rotate(-5 1131.5 1070.7)"/>
<ellipse class="b" cx="1200" cy="1076.2" rx="32.8" ry="3.8" opacity="0.26" transform="rotate(-3 1200 1076.2)"/>
<ellipse class="b" cx="1074" cy="1080.3" rx="25.1" ry="3.6" opacity="0.22"/>
<ellipse class="b" cx="811" cy="1061.1" rx="15.5" ry="3.2" opacity="0.14"/>
<ellipse class="b" cx="811" cy="1069.3" rx="15.5" ry="3.2" opacity="0.14"/>
<ellipse class="b" cx="1126" cy="1055.6" rx="13.6" ry="3" opacity="0.10"/>
<ellipse class="b" cx="1005.5" cy="1092.6" rx="19.3" ry="3.5" opacity="0.19"/>
<ellipse class="b" cx="1046.6" cy="1092.1" rx="15.5" ry="3.2" opacity="0.14"/>
<ellipse class="b" cx="1309.6" cy="1089.9" rx="27" ry="3.6" opacity="0.22"/>
<ellipse class="b" cx="1350.7" cy="1083.6" rx="15.5" ry="3.5" opacity="0.19"/>
<ellipse class="b" cx="1353.4" cy="1095.3" rx="11.7" ry="3.2" opacity="0.14"/>
<ellipse class="b" cx="802.7" cy="1100.8" rx="11.7" ry="3.7" opacity="0.24"/>
<ellipse class="b" cx="1139.7" cy="1107.1" rx="25.1" ry="3.8" opacity="0.26"/>
<ellipse class="b" cx="1205.5" cy="1109" rx="23.2" ry="3.6" opacity="0.22"/>
<ellipse class="b" cx="1008.2" cy="1107.1" rx="19.3" ry="3.3" opacity="0.16"/>
<ellipse class="b" cx="1060.3" cy="1109" rx="27" ry="3.2" opacity="0.14"/>
<ellipse class="b" cx="827.4" cy="1111.8" rx="28.9" ry="3.6" opacity="0.22"/>
<ellipse class="b" cx="805.5" cy="1107.7" rx="13.6" ry="3.5" opacity="0.19"/>
<ellipse class="b" cx="1257.5" cy="1117.3" rx="23.2" ry="3.3" opacity="0.16"/>
<ellipse class="b" cx="1150.7" cy="1116.7" rx="15.5" ry="3.2" opacity="0.14"/>
<ellipse class="b" cx="1197.3" cy="1118.6" rx="15.5" ry="3.2" opacity="0.14"/>
<ellipse class="b" cx="997.3" cy="1116.7" rx="28.9" ry="3.5" opacity="0.19"/>
<ellipse class="b" cx="824.7" cy="1129.6" rx="23.2" ry="3.5" opacity="0.19"/>
<ellipse class="b" cx="827.4" cy="1146" rx="27" ry="3.8" opacity="0.26"/>
<ellipse class="b" cx="816.4" cy="1139.2" rx="15.5" ry="3.2" opacity="0.14"/>
<ellipse class="b" cx="975.3" cy="1144.1" rx="21.3" ry="3.7" opacity="0.24"/>
<ellipse class="b" cx="868.5" cy="1152.9" rx="32.8" ry="3.3" opacity="0.16"/>
<ellipse class="b" cx="923.3" cy="1161.1" rx="27" ry="3.6" opacity="0.22"/>
<ellipse class="b" cx="871.2" cy="1161.1" rx="23.2" ry="3.3" opacity="0.16"/>
<ellipse class="b" cx="1000" cy="1160.5" rx="19.3" ry="3.5" opacity="0.19"/>
<ellipse class="b" cx="1150.7" cy="1137.8" rx="42.4" ry="5" opacity="0.26"/>
<ellipse class="b" cx="1095.9" cy="1138.4" rx="27" ry="3.5" opacity="0.19"/>
<ellipse class="b" cx="1161.6" cy="1142.5" rx="23.2" ry="3.5" opacity="0.19"/>
<ellipse class="b" cx="1274" cy="1139.2" rx="27" ry="3.5" opacity="0.19"/>
<ellipse class="b" cx="1320.5" cy="1146.8" rx="32.8" ry="3.3" opacity="0.16" transform="rotate(-8 1320.5 1146.8)"/>
<ellipse class="b" cx="1090.4" cy="1163.8" rx="19.3" ry="3.7" opacity="0.24"/>
<ellipse class="b" cx="1260.3" cy="1158.4" rx="32.8" ry="3.5" opacity="0.19"/>
<ellipse class="b" cx="1265.8" cy="1163.8" rx="23.2" ry="3.3" opacity="0.16"/>
<ellipse class="b" cx="1164.4" cy="1161.1" rx="19.3" ry="3.2" opacity="0.14"/>
<ellipse class="b" cx="1347.9" cy="1121.4" rx="15.5" ry="3.2" opacity="0.14"/>
<ellipse class="b" cx="1227.4" cy="1099.5" rx="15.5" ry="3" opacity="0.10"/>
<ellipse class="b" cx="1615.8" cy="939.2" rx="25.1" ry="3.7" opacity="0.24"/>
<ellipse class="b" cx="1404.8" cy="935.1" rx="19.3" ry="3.3" opacity="0.16"/>
<ellipse class="b" cx="1793.8" cy="922.7" rx="27" ry="3.7" opacity="0.24"/>
<ellipse class="b" cx="1761" cy="946" rx="34.7" ry="3.7" opacity="0.24" transform="rotate(-5 1761 946)"/>
<ellipse class="b" cx="1659.6" cy="947.4" rx="23.2" ry="5" opacity="0.19"/>
<ellipse class="b" cx="1547.3" cy="958.4" rx="19.3" ry="3.6" opacity="0.22"/>
<ellipse class="b" cx="1593.8" cy="961.1" rx="23.2" ry="3.6" opacity="0.22"/>
<ellipse class="b" cx="1687" cy="958.4" rx="23.2" ry="3.8" opacity="0.26"/>
<ellipse class="b" cx="1404.8" cy="957" rx="19.3" ry="3.3" opacity="0.16"/>
<ellipse class="b" cx="1870.5" cy="954.2" rx="23.2" ry="3.3" opacity="0.16" transform="rotate(-10 1870.5 954.2)"/>
<ellipse class="b" cx="1445.9" cy="922.7" rx="15.5" ry="3" opacity="0.10"/>
<ellipse class="b" cx="1821.2" cy="952.9" rx="32.8" ry="3.3" opacity="0.16"/>
<ellipse class="b" cx="1815.8" cy="977.5" rx="23.2" ry="4.2" opacity="0.35"/>
<ellipse class="b" cx="1777.4" cy="974.8" rx="32.8" ry="3.7" opacity="0.24"/>
<ellipse class="b" cx="1856.8" cy="978.9" rx="27" ry="3.6" opacity="0.22"/>
<ellipse class="b" cx="1887" cy="979.7" rx="19.3" ry="3.7" opacity="0.24"/>
<ellipse class="b" cx="1432.2" cy="991.2" rx="27" ry="3.7" opacity="0.24"/>
<ellipse class="b" cx="1667.8" cy="991.8" rx="38.5" ry="4.1" opacity="0.33"/>
<ellipse class="b" cx="1747.3" cy="987.1" rx="15.5" ry="3.5" opacity="0.19"/>
<ellipse class="b" cx="1761" cy="1000" rx="46.2" ry="4.2" opacity="0.35"/>
<ellipse class="b" cx="1821.2" cy="1001.6" rx="32.8" ry="3.9" opacity="0.29"/>
<ellipse class="b" cx="1865.1" cy="1009.9" rx="46.2" ry="4.5" opacity="0.47"/>
<ellipse class="b" cx="1569.2" cy="1008.2" rx="15.5" ry="3.2" opacity="0.14"/>
<ellipse class="b" cx="1651.4" cy="1014.5" rx="61.5" ry="3.9" opacity="0.29" transform="rotate(-3 1651.4 1014.5)"/>
<ellipse class="b" cx="1714.4" cy="1007.7" rx="23.2" ry="3.7" opacity="0.24"/>
<ellipse class="b" cx="1706.2" cy="1020.8" rx="32.8" ry="3.7" opacity="0.24"/>
<ellipse class="b" cx="1761" cy="1022.7" rx="27" ry="4" opacity="0.32"/>
<ellipse class="b" cx="1788.4" cy="1026.8" rx="27" ry="3.9" opacity="0.29"/>
<ellipse class="b" cx="1692.5" cy="1031.5" rx="28.9" ry="3.8" opacity="0.26"/>
<ellipse class="b" cx="1541.8" cy="1028.2" rx="57.7" ry="6.8" opacity="0.38"/>
<ellipse class="b" cx="1519.9" cy="1017.3" rx="32.8" ry="3.7" opacity="0.24"/>
<ellipse class="b" cx="1569.2" cy="1039.2" rx="42.4" ry="5.9" opacity="0.29"/>
<ellipse class="b" cx="1610.3" cy="1033.7" rx="27" ry="5" opacity="0.22"/>
<ellipse class="b" cx="1495.2" cy="1025.5" rx="23.2" ry="3.8" opacity="0.26"/>
<ellipse class="b" cx="1478.8" cy="1039.2" rx="34.7" ry="4.2" opacity="0.35"/>
<ellipse class="b" cx="1399.3" cy="1031.8" rx="27" ry="4.1" opacity="0.33"/>
<ellipse class="b" cx="1361" cy="1025.5" rx="23.2" ry="4.1" opacity="0.33"/>
<ellipse class="b" cx="1429.5" cy="1021.9" rx="38.5" ry="3.6" opacity="0.22"/>
<ellipse class="b" cx="1391.1" cy="1040.5" rx="23.2" ry="3.6" opacity="0.22"/>
<ellipse class="b" cx="1569.2" cy="1054.2" rx="27" ry="3.5" opacity="0.19"/>
<ellipse class="b" cx="1610.3" cy="1048.8" rx="23.2" ry="3.2" opacity="0.14"/>
<ellipse class="b" cx="1851.4" cy="1033.7" rx="53.8" ry="4.1" opacity="0.51"/>
<ellipse class="b" cx="1884.2" cy="1022.7" rx="19.3" ry="3.5" opacity="0.19"/>
<ellipse class="b" cx="1892.5" cy="1058.4" rx="19.3" ry="5" opacity="0.32" transform="rotate(-15 1892.5 1058.4)"/>
<ellipse class="b" cx="1870.5" cy="1067.9" rx="19.3" ry="3.5" opacity="0.19"/>
<ellipse class="b" cx="1385.6" cy="1063" rx="25.1" ry="4.1" opacity="0.33"/>
<ellipse class="b" cx="1692.5" cy="1055.6" rx="28.9" ry="3.7" opacity="0.24"/>
<ellipse class="b" cx="1733.6" cy="1054.2" rx="27" ry="3.6" opacity="0.22"/>
<ellipse class="b" cx="1752.7" cy="1059.7" rx="23.2" ry="3.6" opacity="0.22"/>
<ellipse class="b" cx="1796.6" cy="1069.3" rx="17.4" ry="5" opacity="0.24"/>
<ellipse class="b" cx="1640.4" cy="1064.7" rx="23.2" ry="3.6" opacity="0.22"/>
<ellipse class="b" cx="1596.6" cy="1066.6" rx="23.2" ry="3.2" opacity="0.14"/>
<ellipse class="b" cx="1432.2" cy="1057" rx="23.2" ry="3" opacity="0.10"/>
<ellipse class="b" cx="1487" cy="1051.5" rx="32.8" ry="3.2" opacity="0.13"/>
<ellipse class="b" cx="1632.2" cy="1077.5" rx="42.4" ry="3.9" opacity="0.29"/>
<ellipse class="b" cx="1687" cy="1078.9" rx="32.8" ry="4.2" opacity="0.35"/>
<ellipse class="b" cx="1708.9" cy="1084.9" rx="32.8" ry="4.1" opacity="0.33"/>
<ellipse class="b" cx="1755.5" cy="1077.5" rx="23.2" ry="3.8" opacity="0.26"/>
<ellipse class="b" cx="1851.4" cy="1070.7" rx="15.5" ry="3.5" opacity="0.19"/>
<ellipse class="b" cx="1656.8" cy="1084.4" rx="23.2" ry="3.5" opacity="0.19"/>
<ellipse class="b" cx="1388.4" cy="1086.3" rx="25.1" ry="3.9" opacity="0.29"/>
<ellipse class="b" cx="1467.8" cy="1088.5" rx="23.2" ry="3.7" opacity="0.24"/>
<ellipse class="b" cx="1506.2" cy="1089.9" rx="23.2" ry="3.8" opacity="0.26" transform="rotate(-8 1506.2 1089.9)"/>
<ellipse class="b" cx="1558.2" cy="1092.6" rx="42.4" ry="3.9" opacity="0.29" transform="rotate(-5 1558.2 1092.6)"/>
<ellipse class="b" cx="1391.1" cy="1099.5" rx="51.9" ry="3.6" opacity="0.22"/>
<ellipse class="b" cx="1358.2" cy="1095.3" rx="15.5" ry="3.5" opacity="0.19"/>
<ellipse class="b" cx="1437.7" cy="1087.1" rx="15.5" ry="3.2" opacity="0.14"/>
<ellipse class="b" cx="1777.4" cy="1098.6" rx="23.2" ry="3.9" opacity="0.29"/>
<ellipse class="b" cx="1829.5" cy="1099.5" rx="21.3" ry="3.9" opacity="0.29"/>
<ellipse class="b" cx="1878.8" cy="1107.7" rx="17.4" ry="3.7" opacity="0.24"/>
<ellipse class="b" cx="1665.1" cy="1099.5" rx="27" ry="3.2" opacity="0.14"/>
<ellipse class="b" cx="1870.5" cy="1092.6" rx="15.5" ry="3.2" opacity="0.14"/>
<ellipse class="b" cx="1613" cy="1098.1" rx="15.5" ry="3" opacity="0.10"/>
<ellipse class="b" cx="1604.8" cy="1109" rx="25.1" ry="4" opacity="0.32"/>
<ellipse class="b" cx="1673.3" cy="1114.5" rx="38.5" ry="5" opacity="0.38"/>
<ellipse class="b" cx="1445.9" cy="1109" rx="32.8" ry="3.5" opacity="0.19"/>
<ellipse class="b" cx="1528.1" cy="1109" rx="42.4" ry="3.3" opacity="0.16"/>
<ellipse class="b" cx="1624" cy="1117.3" rx="23.2" ry="3.6" opacity="0.22"/>
<ellipse class="b" cx="1785.6" cy="1114.5" rx="15.5" ry="3.7" opacity="0.24"/>
<ellipse class="b" cx="1747.3" cy="1109" rx="23.2" ry="3.2" opacity="0.14"/>
<ellipse class="b" cx="1366.4" cy="1109" rx="19.3" ry="3.2" opacity="0.14"/>
<ellipse class="b" cx="1503.4" cy="1122.7" rx="27" ry="3.3" opacity="0.16"/>
<ellipse class="b" cx="1385.6" cy="1115.9" rx="23.2" ry="3" opacity="0.10"/>
<ellipse class="b" cx="1637.7" cy="1131" rx="42.4" ry="3.9" opacity="0.29"/>
<ellipse class="b" cx="1714.4" cy="1140.5" rx="38.5" ry="3.9" opacity="0.29"/>
<ellipse class="b" cx="1815.8" cy="1139.2" rx="32.8" ry="3.9" opacity="0.29"/>
<ellipse class="b" cx="1870.5" cy="1146" rx="32.8" ry="3.7" opacity="0.24"/>
<ellipse class="b" cx="1793.8" cy="1144.7" rx="23.2" ry="3.5" opacity="0.19"/>
<ellipse class="b" cx="1755.5" cy="1147.4" rx="19.3" ry="3.2" opacity="0.14"/>
<ellipse class="b" cx="1454.1" cy="1148.8" rx="27" ry="3.5" opacity="0.19"/>
<ellipse class="b" cx="1530.8" cy="1143.3" rx="19.3" ry="3.3" opacity="0.16"/>
<ellipse class="b" cx="1489.7" cy="1163.3" rx="19.3" ry="3.8" opacity="0.26"/>
<ellipse class="b" cx="1366.4" cy="1162.5" rx="19.3" ry="3.5" opacity="0.19"/>
<ellipse class="b" cx="1676" cy="1161.1" rx="23.2" ry="3.9" opacity="0.29"/>
<ellipse class="b" cx="1887" cy="1154.2" rx="17.4" ry="3.7" opacity="0.24"/>
<ellipse class="b" cx="1815.8" cy="1152.9" rx="19.3" ry="3.2" opacity="0.14"/>
<ellipse class="b" cx="1703.4" cy="1165.2" rx="15.5" ry="3.2" opacity="0.14"/>
<ellipse class="b" cx="1582.9" cy="1152.9" rx="19.3" ry="3" opacity="0.10"/>
<ellipse class="b" cx="1404.8" cy="1139.2" rx="19.3" ry="2.9" opacity="0.07"/>
<ellipse class="b" cx="1831.6" cy="748.4" rx="45.9" ry="3.3" opacity="0.07"/>
<ellipse class="b" cx="1701.7" cy="1066.1" rx="24.5" ry="3.6" opacity="0.06"/>
<ellipse class="b" cx="1386.1" cy="1130.1" rx="18" ry="2.7" opacity="0.13" transform="rotate(3 1386.1 1130.1)"/>
<ellipse class="b" cx="1798.6" cy="1057.1" rx="33.3" ry="2.7" opacity="0.12" transform="rotate(-3 1798.6 1057.1)"/>
<ellipse class="b" cx="1829.1" cy="832.2" rx="44.7" ry="2.7" opacity="0.11"/>
<ellipse class="b" cx="709.2" cy="1017.1" rx="26.7" ry="3.6" opacity="0.13" transform="rotate(6 709.2 1017.1)"/>
<ellipse class="b" cx="1093.9" cy="932" rx="36.1" ry="3.2" opacity="0.13" transform="rotate(3 1093.9 932)"/>
<ellipse class="b" cx="1735.3" cy="888.2" rx="29.6" ry="2.4" opacity="0.07" transform="rotate(6 1735.3 888.2)"/>
<ellipse class="b" cx="1640.6" cy="776" rx="16.8" ry="2.5" opacity="0.10"/>
<ellipse class="b" cx="1159.8" cy="850.1" rx="27.1" ry="2.4" opacity="0.08"/>
<ellipse class="b" cx="1337.6" cy="729.2" rx="20.2" ry="2.3" opacity="0.07" transform="rotate(-5 1337.6 729.2)"/>
<ellipse class="b" cx="463.5" cy="1024.8" rx="24.9" ry="2.9" opacity="0.11" transform="rotate(-5 463.5 1024.8)"/>
<ellipse class="b" cx="448.3" cy="1073.5" rx="20.1" ry="3.2" opacity="0.07" transform="rotate(-3 448.3 1073.5)"/>
<ellipse class="b" cx="976.6" cy="811.1" rx="45" ry="3.6" opacity="0.09"/>
<ellipse class="b" cx="1139.8" cy="917.1" rx="17.3" ry="3.2" opacity="0.12" transform="rotate(-5 1139.8 917.1)"/>
<ellipse class="b" cx="1124.1" cy="767.9" rx="41.3" ry="2.6" opacity="0.11"/>
<ellipse class="b" cx="1439.7" cy="906.3" rx="23.4" ry="3.6" opacity="0.08"/>
<ellipse class="b" cx="787.9" cy="694.6" rx="24.9" ry="2.7" opacity="0.13"/>
<ellipse class="b" cx="1006.9" cy="1002.1" rx="29.3" ry="3.5" opacity="0.09" transform="rotate(3 1006.9 1002.1)"/>
<ellipse class="b" cx="1602.3" cy="684.4" rx="35.4" ry="3.2" opacity="0.07" transform="rotate(8 1602.3 684.4)"/>
<ellipse class="b" cx="722.7" cy="1091.4" rx="24.2" ry="3.4" opacity="0.10" transform="rotate(-3 722.7 1091.4)"/>
<ellipse class="b" cx="1857" cy="772.8" rx="42.3" ry="3.2" opacity="0.12" transform="rotate(6 1857 772.8)"/>
<ellipse class="b" cx="1126.7" cy="1024.4" rx="43.7" ry="3" opacity="0.09"/>
<ellipse class="b" cx="1850" cy="754.5" rx="42" ry="2.8" opacity="0.11" transform="rotate(8 1850 754.5)"/>
<ellipse class="b" cx="1518.3" cy="735.3" rx="18.1" ry="2.4" opacity="0.11"/>
<ellipse class="b" cx="1799.2" cy="1123" rx="34.9" ry="2.8" opacity="0.12" transform="rotate(-3 1799.2 1123)"/>
<ellipse class="b" cx="1371.2" cy="1066.3" rx="23.5" ry="3.2" opacity="0.10" transform="rotate(-3 1371.2 1066.3)"/>
<ellipse class="b" cx="273.1" cy="798.1" rx="25.8" ry="2.4" opacity="0.13" transform="rotate(-3 273.1 798.1)"/>
<ellipse class="b" cx="1748" cy="1081.7" rx="21.3" ry="2.8" opacity="0.08" transform="rotate(6 1748 1081.7)"/>
<ellipse class="b" cx="1595" cy="829.5" rx="42.4" ry="3.5" opacity="0.14" transform="rotate(-3 1595 829.5)"/>
<ellipse class="b" cx="1025.4" cy="816.4" rx="19.3" ry="3.2" opacity="0.13" transform="rotate(3 1025.4 816.4)"/>
<ellipse class="b" cx="993.5" cy="805.3" rx="21.1" ry="3.4" opacity="0.10" transform="rotate(-3 993.5 805.3)"/>
<ellipse class="b" cx="1091" cy="713.7" rx="27.8" ry="2.9" opacity="0.13" transform="rotate(-5 1091 713.7)"/>
<ellipse class="b" cx="1146.8" cy="872.3" rx="41.7" ry="2.7" opacity="0.10"/>
<ellipse class="b" cx="284.1" cy="720" rx="29.9" ry="3.2" opacity="0.12"/>
<ellipse class="b" cx="1559.1" cy="810.3" rx="39" ry="3" opacity="0.07" transform="rotate(3 1559.1 810.3)"/>
<ellipse class="b" cx="1472.7" cy="898.8" rx="39.4" ry="3.1" opacity="0.11" transform="rotate(-5 1472.7 898.8)"/>
<ellipse class="b" cx="1545" cy="789.8" rx="36.6" ry="3.1" opacity="0.11"/>
<ellipse class="b" cx="1870.9" cy="740.1" rx="26.8" ry="2.3" opacity="0.09"/>
<ellipse class="b" cx="648" cy="743.5" rx="35.7" ry="2.5" opacity="0.08"/>
<ellipse class="b" cx="1892.9" cy="843.5" rx="21.4" ry="2.7" opacity="0.11"/>
<ellipse class="b" cx="1402.1" cy="1005.8" rx="32.4" ry="2.6" opacity="0.09" transform="rotate(-3 1402.1 1005.8)"/>
<ellipse class="b" cx="560.8" cy="1098.3" rx="20.2" ry="3" opacity="0.07" transform="rotate(8 560.8 1098.3)"/>
<ellipse class="b" cx="1775.3" cy="985.1" rx="29.3" ry="3.5" opacity="0.12"/>
<ellipse class="b" cx="1850.4" cy="808.5" rx="34.7" ry="3.6" opacity="0.08" transform="rotate(-3 1850.4 808.5)"/>
<ellipse class="b" cx="1102.1" cy="1120.7" rx="32.4" ry="2.9" opacity="0.07"/>
<ellipse class="b" cx="1662.9" cy="869.5" rx="34.6" ry="3.6" opacity="0.12"/>
<ellipse class="b" cx="1898.9" cy="733.4" rx="22.5" ry="3" opacity="0.09"/>
<ellipse class="b" cx="537.7" cy="689.5" rx="24.2" ry="3.2" opacity="0.12" transform="rotate(-5 537.7 689.5)"/>
<ellipse class="b" cx="867.1" cy="719.7" rx="23.1" ry="2.5" opacity="0.08" transform="rotate(6 867.1 719.7)"/>
<ellipse class="b" cx="1590.9" cy="1057.1" rx="27.2" ry="3" opacity="0.13" transform="rotate(-5 1590.9 1057.1)"/>
<ellipse class="b" cx="1710.9" cy="913.1" rx="21" ry="3.4" opacity="0.08"/>
<ellipse class="b" cx="460" cy="850.5" rx="23.3" ry="2.5" opacity="0.09" transform="rotate(6 460 850.5)"/>
<ellipse class="b" cx="1272.3" cy="1014.4" rx="42.1" ry="2.5" opacity="0.07"/>
<ellipse class="b" cx="846.9" cy="1024.4" rx="18.6" ry="3.1" opacity="0.08" transform="rotate(6 846.9 1024.4)"/>
<ellipse class="b" cx="632" cy="989.3" rx="26" ry="3.6" opacity="0.07"/>
<ellipse class="b" cx="1221.8" cy="734.4" rx="39.2" ry="3.2" opacity="0.06"/>
<ellipse class="b" cx="1551.2" cy="917.2" rx="31.9" ry="3.3" opacity="0.07" transform="rotate(8 1551.2 917.2)"/>
<ellipse class="b" cx="552.8" cy="808.7" rx="19.1" ry="2.6" opacity="0.12" transform="rotate(-5 552.8 808.7)"/>
<ellipse class="b" cx="1174.5" cy="925.3" rx="20.3" ry="3.1" opacity="0.11"/>
<ellipse class="b" cx="1214.2" cy="691.9" rx="40.1" ry="2.8" opacity="0.09"/>
<ellipse class="b" cx="1108.8" cy="924.4" rx="44.5" ry="2.8" opacity="0.11" transform="rotate(-3 1108.8 924.4)"/>
<ellipse class="b" cx="672.3" cy="1054.1" rx="25.3" ry="2.8" opacity="0.11" transform="rotate(6 672.3 1054.1)"/>
<ellipse class="b" cx="702.1" cy="857" rx="24.6" ry="2.7" opacity="0.12" transform="rotate(-3 702.1 857)"/>
<ellipse class="b" cx="1563.8" cy="881.1" rx="38.9" ry="2.5" opacity="0.12" transform="rotate(-5 1563.8 881.1)"/>
<ellipse class="b" cx="1336.5" cy="1077.8" rx="35.7" ry="2.4" opacity="0.10" transform="rotate(-5 1336.5 1077.8)"/>
<ellipse class="b" cx="844.8" cy="915.5" rx="36.8" ry="3.2" opacity="0.13" transform="rotate(8 844.8 915.5)"/>
<ellipse class="b" cx="986.4" cy="828.4" rx="41.7" ry="2.9" opacity="0.14" transform="rotate(6 986.4 828.4)"/>
<ellipse class="b" cx="1455.5" cy="1145.3" rx="33.3" ry="3.3" opacity="0.09"/>
<ellipse class="b" cx="1731.2" cy="915.7" rx="39.6" ry="2.9" opacity="0.06"/>
<ellipse class="b" cx="1029.6" cy="704.7" rx="22.8" ry="2.7" opacity="0.08" transform="rotate(8 1029.6 704.7)"/>
<ellipse class="b" cx="1369.2" cy="957.8" rx="31.6" ry="3.5" opacity="0.11"/>
<ellipse class="b" cx="774.6" cy="1100.6" rx="45" ry="3.6" opacity="0.12"/>
<ellipse class="b" cx="1600.9" cy="775.6" rx="32.6" ry="2.4" opacity="0.12"/>
<ellipse class="b" cx="535" cy="817.6" rx="26.5" ry="2.8" opacity="0.06" transform="rotate(6 535 817.6)"/>
<ellipse class="b" cx="636.1" cy="854.9" rx="24.6" ry="2.3" opacity="0.08"/>
<ellipse class="b" cx="737.3" cy="717.5" rx="43.8" ry="3.6" opacity="0.11"/>
<ellipse class="b" cx="836.9" cy="989.4" rx="31.6" ry="3.2" opacity="0.11"/>
<ellipse class="b" cx="1549.3" cy="897.3" rx="17.6" ry="2.4" opacity="0.10"/>
<ellipse class="b" cx="1121.1" cy="970.8" rx="23.4" ry="2.8" opacity="0.07"/>
<ellipse class="b" cx="1817.3" cy="811.3" rx="21.4" ry="2.9" opacity="0.12" transform="rotate(3 1817.3 811.3)"/>
<ellipse class="b" cx="1185.4" cy="1089.2" rx="21.2" ry="2.8" opacity="0.13"/>
<ellipse class="b" cx="1550.6" cy="922.9" rx="38.3" ry="3.2" opacity="0.09" transform="rotate(3 1550.6 922.9)"/>
<ellipse class="b" cx="1533.5" cy="1022" rx="45.3" ry="3.5" opacity="0.08" transform="rotate(-5 1533.5 1022)"/>
<ellipse class="b" cx="1061.6" cy="882.1" rx="41.7" ry="2.8" opacity="0.12"/>
<ellipse class="b" cx="924.1" cy="941.7" rx="25.6" ry="3.6" opacity="0.10"/>
<ellipse class="b" cx="537" cy="915.1" rx="37.1" ry="3" opacity="0.09" transform="rotate(-5 537 915.1)"/>
<ellipse class="b" cx="1570.4" cy="695" rx="28.8" ry="2.6" opacity="0.13"/>
<ellipse class="b" cx="1323.2" cy="801.1" rx="41.2" ry="3.4" opacity="0.07" transform="rotate(6 1323.2 801.1)"/>
<ellipse class="b" cx="1637.3" cy="1097.9" rx="25.1" ry="3.5" opacity="0.10"/>
<ellipse class="b" cx="1047.9" cy="1121.8" rx="17.8" ry="2.3" opacity="0.11"/>
<ellipse class="b" cx="883.7" cy="994.4" rx="32.2" ry="2.3" opacity="0.07" transform="rotate(3 883.7 994.4)"/>
<ellipse class="b" cx="975.6" cy="1044.3" rx="28.1" ry="3.2" opacity="0.06" transform="rotate(8 975.6 1044.3)"/>
<ellipse class="b" cx="685.9" cy="1054.1" rx="26" ry="3.2" opacity="0.09"/>
<ellipse class="b" cx="1725.8" cy="1160.1" rx="20.2" ry="3.6" opacity="0.12" transform="rotate(6 1725.8 1160.1)"/>
<ellipse class="b" cx="1514.5" cy="1143.8" rx="18" ry="2.5" opacity="0.13"/>
<ellipse class="b" cx="1204.4" cy="1165.2" rx="27.6" ry="3.2" opacity="0.09" transform="rotate(-3 1204.4 1165.2)"/>
<ellipse class="b" cx="1583.2" cy="779.7" rx="28.4" ry="3.3" opacity="0.07" transform="rotate(3 1583.2 779.7)"/>
<ellipse class="b" cx="744" cy="680.4" rx="39.3" ry="2.6" opacity="0.14"/>
<ellipse class="b" cx="1771.5" cy="953.9" rx="35.8" ry="3.2" opacity="0.13"/>
<ellipse class="b" cx="1796.5" cy="1074.8" rx="26.1" ry="3.3" opacity="0.10"/>
<ellipse class="b" cx="1600.7" cy="940.4" rx="36.5" ry="2.3" opacity="0.10"/>
<ellipse class="b" cx="853.7" cy="983.2" rx="29.9" ry="3.6" opacity="0.11"/>
<ellipse class="b" cx="1300.9" cy="1012" rx="38.8" ry="3.6" opacity="0.13"/>
<ellipse class="b" cx="1737.3" cy="760.5" rx="45.6" ry="3.2" opacity="0.10" transform="rotate(-5 1737.3 760.5)"/>
<ellipse class="b" cx="1127.1" cy="928.3" rx="23" ry="2.3" opacity="0.07"/>
<ellipse class="b" cx="706.8" cy="794.1" rx="16.9" ry="3.4" opacity="0.10"/>
<ellipse class="b" cx="1059" cy="863.4" rx="21.1" ry="2.3" opacity="0.11" transform="rotate(3 1059 863.4)"/>
<ellipse class="b" cx="617.6" cy="726.1" rx="36.5" ry="3.2" opacity="0.06" transform="rotate(6 617.6 726.1)"/>
<ellipse class="b" cx="1567.9" cy="1137.8" rx="38.1" ry="3.2" opacity="0.12"/>
<ellipse class="b" cx="1718.9" cy="851.7" rx="36.7" ry="3" opacity="0.08" transform="rotate(8 1718.9 851.7)"/>
<ellipse class="b" cx="1624.4" cy="1030.9" rx="33" ry="3.5" opacity="0.07" transform="rotate(8 1624.4 1030.9)"/>
<ellipse class="b" cx="542" cy="1020.6" rx="18.6" ry="3.1" opacity="0.07" transform="rotate(-5 542 1020.6)"/>
<ellipse class="b" cx="489.4" cy="941.6" rx="42.9" ry="2.5" opacity="0.11" transform="rotate(-5 489.4 941.6)"/>
<ellipse class="b" cx="1573.1" cy="862.5" rx="39.8" ry="2.4" opacity="0.06" transform="rotate(3 1573.1 862.5)"/>
<ellipse class="b" cx="522.5" cy="893.6" rx="29.5" ry="2.9" opacity="0.07"/>
<ellipse class="b" cx="653.1" cy="885" rx="18" ry="3.6" opacity="0.11" transform="rotate(6 653.1 885)"/>
<ellipse class="b" cx="1288.1" cy="707.5" rx="39.2" ry="3.2" opacity="0.09" transform="rotate(8 1288.1 707.5)"/>
<ellipse class="b" cx="1705.6" cy="905.6" rx="39.9" ry="2.8" opacity="0.13"/>
<ellipse class="b" cx="970.7" cy="710.4" rx="22.7" ry="2.8" opacity="0.11" transform="rotate(8 970.7 710.4)"/>
<ellipse class="b" cx="431.7" cy="995.9" rx="34" ry="2.4" opacity="0.12"/>
<ellipse class="b" cx="1319.9" cy="1000" rx="40.5" ry="2.6" opacity="0.10" transform="rotate(-3 1319.9 1000)"/>
<ellipse class="b" cx="1650.9" cy="1139.6" rx="16.9" ry="2.7" opacity="0.10" transform="rotate(-5 1650.9 1139.6)"/>
<ellipse class="b" cx="365.9" cy="962.8" rx="31.8" ry="3.6" opacity="0.08"/>
<ellipse class="b" cx="715.3" cy="893.1" rx="37.3" ry="3.2" opacity="0.13"/>
<ellipse class="b" cx="1746.7" cy="1077.2" rx="20.2" ry="3.5" opacity="0.12" transform="rotate(-5 1746.7 1077.2)"/>
<ellipse class="b" cx="644.7" cy="1121.8" rx="23.9" ry="3.4" opacity="0.07" transform="rotate(-3 644.7 1121.8)"/>
<ellipse class="b" cx="1533.1" cy="1007.1" rx="26.3" ry="2.4" opacity="0.08" transform="rotate(3 1533.1 1007.1)"/>
<ellipse class="b" cx="452" cy="730" rx="25.6" ry="3.2" opacity="0.14"/>
<ellipse class="b" cx="667.5" cy="989.7" rx="29.5" ry="3.5" opacity="0.09"/>
<ellipse class="b" cx="1119.9" cy="1026" rx="32.5" ry="2.7" opacity="0.07" transform="rotate(3 1119.9 1026)"/>
<ellipse class="b" cx="1068.9" cy="985.3" rx="20.5" ry="3.5" opacity="0.07" transform="rotate(6 1068.9 985.3)"/>
<ellipse class="b" cx="464.8" cy="877.1" rx="33.9" ry="2.8" opacity="0.11" transform="rotate(6 464.8 877.1)"/>
<ellipse class="b" cx="702.3" cy="839.3" rx="29.2" ry="3" opacity="0.13" transform="rotate(-3 702.3 839.3)"/>
<ellipse class="b" cx="1008.9" cy="766.4" rx="41.7" ry="3.1" opacity="0.09"/>
<ellipse class="b" cx="578.3" cy="829.5" rx="33.3" ry="2.7" opacity="0.09" transform="rotate(3 578.3 829.5)"/>
<ellipse class="b" cx="1487.2" cy="897.5" rx="37.6" ry="3.1" opacity="0.08" transform="rotate(8 1487.2 897.5)"/>
<ellipse class="b" cx="1042" cy="721.5" rx="39" ry="3.2" opacity="0.12"/>
<ellipse class="b" cx="1069.6" cy="1027.7" rx="20.2" ry="2.9" opacity="0.11"/>
<ellipse class="b" cx="950.7" cy="1132.4" rx="29.2" ry="3.2" opacity="0.13" transform="rotate(3 950.7 1132.4)"/>
<ellipse class="b" cx="312.4" cy="1113" rx="17.1" ry="3.5" opacity="0.09"/>
<ellipse class="b" cx="1358" cy="1061.8" rx="33.7" ry="2.9" opacity="0.08"/>
<ellipse class="b" cx="544" cy="979.1" rx="45.5" ry="2.7" opacity="0.06" transform="rotate(-5 544 979.1)"/>
<ellipse class="b" cx="1696" cy="1099.8" rx="33" ry="2.9" opacity="0.11" transform="rotate(-3 1696 1099.8)"/>
<ellipse class="b" cx="1783.2" cy="1111" rx="24.4" ry="2.8" opacity="0.09" transform="rotate(8 1783.2 1111)"/>
<ellipse class="b" cx="880.7" cy="699.3" rx="20.5" ry="2.6" opacity="0.09"/>
<ellipse class="b" cx="1825.4" cy="997.3" rx="34.7" ry="2.3" opacity="0.12"/>
<ellipse class="b" cx="1786.1" cy="913.7" rx="39" ry="3.2" opacity="0.10"/>
<ellipse class="b" cx="1038.2" cy="1091.4" rx="30.1" ry="2.4" opacity="0.09"/>
<ellipse class="b" cx="1831.8" cy="1044.9" rx="33.3" ry="2.6" opacity="0.09"/>
<ellipse class="b" cx="942.9" cy="1081.2" rx="17.9" ry="3.5" opacity="0.10"/>
<ellipse class="b" cx="291" cy="836.8" rx="21.8" ry="2.8" opacity="0.07" transform="rotate(8 291 836.8)"/>
<ellipse class="b" cx="1788.6" cy="930.7" rx="44.4" ry="3.5" opacity="0.07"/>
<ellipse class="b" cx="1460.8" cy="952.5" rx="40.8" ry="2.9" opacity="0.13" transform="rotate(8 1460.8 952.5)"/>
<ellipse class="b" cx="965.8" cy="1006.2" rx="38.4" ry="2.9" opacity="0.07" transform="rotate(-5 965.8 1006.2)"/>
<ellipse class="b" cx="1578.2" cy="940.7" rx="21.1" ry="3.3" opacity="0.10" transform="rotate(6 1578.2 940.7)"/>
<ellipse class="b" cx="1173.6" cy="862.6" rx="43.8" ry="2.7" opacity="0.06" transform="rotate(6 1173.6 862.6)"/>
<ellipse class="b" cx="458.4" cy="914.5" rx="42.4" ry="2.8" opacity="0.10"/>
<ellipse class="b" cx="432.6" cy="885.2" rx="41.7" ry="2.9" opacity="0.06"/>
<ellipse class="b" cx="1340.8" cy="895.1" rx="29.9" ry="3.1" opacity="0.10" transform="rotate(3 1340.8 895.1)"/>
<ellipse class="b" cx="1845.7" cy="981.6" rx="16.6" ry="3.2" opacity="0.09" transform="rotate(-5 1845.7 981.6)"/>
<ellipse class="b" cx="583.7" cy="778.8" rx="29.3" ry="3.2" opacity="0.14"/>
<ellipse class="b" cx="1497.8" cy="882" rx="42.6" ry="2.9" opacity="0.11" transform="rotate(-3 1497.8 882)"/>
<ellipse class="b" cx="760.6" cy="819.6" rx="23.9" ry="2.5" opacity="0.09" transform="rotate(-5 760.6 819.6)"/>
<ellipse class="b" cx="452.2" cy="772.7" rx="35.7" ry="2.4" opacity="0.13"/>
<ellipse class="b" cx="1484.6" cy="1089.7" rx="41.7" ry="3.5" opacity="0.13" transform="rotate(3 1484.6 1089.7)"/>
<ellipse class="b" cx="1154.2" cy="1116.4" rx="39.6" ry="3.3" opacity="0.10" transform="rotate(6 1154.2 1116.4)"/>
<ellipse class="b" cx="1718.2" cy="1113.4" rx="38.3" ry="3.2" opacity="0.12"/>
<ellipse class="b" cx="1435.6" cy="1126.7" rx="35.8" ry="3.2" opacity="0.11"/>
<ellipse class="b" cx="1379.3" cy="1092.8" rx="44.6" ry="2.8" opacity="0.08"/>
<ellipse class="b" cx="448.5" cy="907.1" rx="45.4" ry="2.3" opacity="0.07" transform="rotate(-5 448.5 907.1)"/>
<ellipse class="b" cx="1213.1" cy="757.4" rx="41.7" ry="3.3" opacity="0.09" transform="rotate(3 1213.1 757.4)"/>
<ellipse class="b" cx="1772.7" cy="735.8" rx="44" ry="2.8" opacity="0.09"/>
<ellipse class="b" cx="1213.2" cy="950.9" rx="35" ry="3.2" opacity="0.14" transform="rotate(6 1213.2 950.9)"/>
<ellipse class="b" cx="1704.8" cy="1032" rx="41.4" ry="3.3" opacity="0.13" transform="rotate(6 1704.8 1032)"/>
<ellipse class="b" cx="1253.8" cy="929.2" rx="42.2" ry="3" opacity="0.13"/>
<ellipse class="b" cx="1084.2" cy="701.7" rx="37.9" ry="3" opacity="0.13" transform="rotate(6 1084.2 701.7)"/>
<ellipse class="b" cx="701.4" cy="867.2" rx="40.4" ry="3" opacity="0.08" transform="rotate(3 701.4 867.2)"/>
<ellipse class="b" cx="291.8" cy="1102.2" rx="27.9" ry="2.7" opacity="0.10" transform="rotate(3 291.8 1102.2)"/>
<ellipse class="b" cx="1894.8" cy="847.9" rx="38.2" ry="3.6" opacity="0.11"/>
<ellipse class="b" cx="1708.4" cy="828.8" rx="42.8" ry="3.2" opacity="0.06" transform="rotate(8 1708.4 828.8)"/>
<ellipse class="b" cx="1379.9" cy="723.5" rx="16.7" ry="2.8" opacity="0.14" transform="rotate(3 1379.9 723.5)"/>
<ellipse class="b" cx="1186.4" cy="939.4" rx="38.2" ry="3.2" opacity="0.07"/>
<ellipse class="b" cx="1275.8" cy="752.7" rx="16.7" ry="2.5" opacity="0.09"/>
<ellipse class="b" cx="585.8" cy="1055.1" rx="29.6" ry="3.5" opacity="0.12"/>
<ellipse class="b" cx="1493.7" cy="1120.8" rx="38.6" ry="2.5" opacity="0.13"/>
<ellipse class="b" cx="1049.1" cy="1140.6" rx="34.8" ry="2.6" opacity="0.09"/>
<ellipse class="b" cx="1587.9" cy="939.6" rx="30" ry="3.1" opacity="0.08" transform="rotate(3 1587.9 939.6)"/>
<ellipse class="b" cx="1513.5" cy="956.9" rx="17.7" ry="3.3" opacity="0.10" transform="rotate(6 1513.5 956.9)"/>
<ellipse class="b" cx="1626.4" cy="1152.6" rx="31" ry="2.7" opacity="0.13" transform="rotate(-3 1626.4 1152.6)"/>
<ellipse class="b" cx="544.6" cy="1107.4" rx="22.8" ry="3.5" opacity="0.12"/>
<ellipse class="b" cx="1175.8" cy="1089.9" rx="30" ry="3.4" opacity="0.10"/>
<ellipse class="b" cx="476.2" cy="819.3" rx="45.4" ry="2.9" opacity="0.12" transform="rotate(8 476.2 819.3)"/>
<ellipse class="b" cx="830.2" cy="746.2" rx="40.4" ry="3.4" opacity="0.10" transform="rotate(3 830.2 746.2)"/>
<ellipse class="b" cx="1310.6" cy="1001.6" rx="42.1" ry="3.6" opacity="0.08"/>
<ellipse class="b" cx="1325" cy="801.9" rx="18.5" ry="2.8" opacity="0.07" transform="rotate(8 1325 801.9)"/>
<ellipse class="b" cx="1135.2" cy="819.5" rx="45.6" ry="3.2" opacity="0.11"/>
<ellipse class="b" cx="548.5" cy="1124.1" rx="38.6" ry="2.9" opacity="0.14"/>
<ellipse class="b" cx="1225.7" cy="803.4" rx="27.7" ry="3.6" opacity="0.07"/>
<ellipse class="b" cx="1685.3" cy="709.7" rx="41.7" ry="2.5" opacity="0.14" transform="rotate(3 1685.3 709.7)"/>
<ellipse class="b" cx="561.8" cy="754.1" rx="19.5" ry="3" opacity="0.13" transform="rotate(6 561.8 754.1)"/>
<ellipse class="b" cx="1239.1" cy="887.6" rx="29.5" ry="3.6" opacity="0.11" transform="rotate(3 1239.1 887.6)"/>
<ellipse class="b" cx="1662.1" cy="981" rx="29.4" ry="2.3" opacity="0.12"/>
<ellipse class="b" cx="1748.6" cy="1142.4" rx="42" ry="2.7" opacity="0.12" transform="rotate(6 1748.6 1142.4)"/>
<ellipse class="b" cx="1716.5" cy="919" rx="41" ry="3.6" opacity="0.12" transform="rotate(8 1716.5 919)"/>
<ellipse class="b" cx="1539.3" cy="682.1" rx="32" ry="2.6" opacity="0.10" transform="rotate(-5 1539.3 682.1)"/>
<ellipse class="b" cx="1753.4" cy="996.1" rx="33.5" ry="2.5" opacity="0.13" transform="rotate(3 1753.4 996.1)"/>
<ellipse class="b" cx="1596.2" cy="994.9" rx="32.9" ry="2.6" opacity="0.13"/>
<ellipse class="b" cx="1897.9" cy="915" rx="20.1" ry="2.8" opacity="0.09" transform="rotate(8 1897.9 915)"/>
<ellipse class="b" cx="1537.8" cy="1056.4" rx="39.3" ry="2.3" opacity="0.13" transform="rotate(6 1537.8 1056.4)"/>
<ellipse class="b" cx="1144.8" cy="789.9" rx="39.8" ry="2.6" opacity="0.12" transform="rotate(8 1144.8 789.9)"/>
<ellipse class="b" cx="1452.3" cy="1150" rx="34.9" ry="3.4" opacity="0.14" transform="rotate(3 1452.3 1150)"/>
<ellipse class="b" cx="559.6" cy="849.7" rx="23.6" ry="2.5" opacity="0.06"/>
<ellipse class="b" cx="1573.2" cy="787.8" rx="36.6" ry="2.3" opacity="0.12"/>
<ellipse class="b" cx="617.3" cy="840.8" rx="43.6" ry="2.9" opacity="0.11" transform="rotate(3 617.3 840.8)"/>
<ellipse class="b" cx="1002.1" cy="822.3" rx="20.4" ry="3.3" opacity="0.10" transform="rotate(3 1002.1 822.3)"/>
<ellipse class="b" cx="961.7" cy="1166.8" rx="34.4" ry="3.6" opacity="0.07" transform="rotate(3 961.7 1166.8)"/>
<ellipse class="b" cx="1058.4" cy="1127.9" rx="35.7" ry="3.6" opacity="0.09" transform="rotate(8 1058.4 1127.9)"/>
<ellipse class="b" cx="1885.9" cy="738.6" rx="33.8" ry="3.5" opacity="0.13"/>
<ellipse class="b" cx="1217.8" cy="1114.3" rx="29.8" ry="3" opacity="0.09"/>
<ellipse class="b" cx="1243.4" cy="1155.4" rx="38.9" ry="3.2" opacity="0.10" transform="rotate(-3 1243.4 1155.4)"/>
<ellipse class="b" cx="1804.7" cy="868.7" rx="21.1" ry="2.5" opacity="0.08" transform="rotate(6 1804.7 868.7)"/>
<ellipse class="b" cx="327" cy="1104.4" rx="22.2" ry="3.2" opacity="0.07" transform="rotate(3 327 1104.4)"/>
<ellipse class="b" cx="608.9" cy="1083.7" rx="24.4" ry="2.8" opacity="0.12" transform="rotate(6 608.9 1083.7)"/>
<ellipse class="b" cx="1788" cy="1088.6" rx="42.8" ry="3.3" opacity="0.12"/>
<ellipse class="b" cx="1674.7" cy="818.5" rx="30.7" ry="3.2" opacity="0.08"/>
<ellipse class="b" cx="1796.6" cy="1081.4" rx="17.9" ry="2.6" opacity="0.11" transform="rotate(-5 1796.6 1081.4)"/>
<ellipse class="b" cx="1491.6" cy="870.1" rx="19.9" ry="3.2" opacity="0.11" transform="rotate(-5 1491.6 870.1)"/>
<ellipse class="b" cx="1118.7" cy="906" rx="22.5" ry="2.5" opacity="0.13"/>
<ellipse class="b" cx="1670.4" cy="1024.3" rx="39.3" ry="3.5" opacity="0.13" transform="rotate(3 1670.4 1024.3)"/>
<ellipse class="b" cx="1081.2" cy="1136.7" rx="26.5" ry="2.7" opacity="0.11" transform="rotate(-5 1081.2 1136.7)"/>
<ellipse class="b" cx="1170.2" cy="1161.5" rx="34.6" ry="3.2" opacity="0.12" transform="rotate(8 1170.2 1161.5)"/>
<ellipse class="b" cx="1315.2" cy="959.5" rx="23.4" ry="3.2" opacity="0.12" transform="rotate(-3 1315.2 959.5)"/>
<ellipse class="b" cx="1525.5" cy="733.9" rx="23" ry="2.8" opacity="0.08"/>
<ellipse class="b" cx="752.9" cy="873.6" rx="32.9" ry="3" opacity="0.10" transform="rotate(-5 752.9 873.6)"/>
<ellipse class="b" cx="835.6" cy="1158.1" rx="32.7" ry="2.9" opacity="0.13" transform="rotate(-3 835.6 1158.1)"/>
<ellipse class="b" cx="895" cy="979.5" rx="32.6" ry="2.9" opacity="0.10"/>
<ellipse class="b" cx="1275.6" cy="705.2" rx="17.2" ry="3.6" opacity="0.09"/>
<ellipse class="b" cx="1644.5" cy="747.9" rx="26" ry="2.4" opacity="0.12" transform="rotate(-5 1644.5 747.9)"/>
<ellipse class="b" cx="1480.4" cy="1047.4" rx="25.3" ry="3.4" opacity="0.13" transform="rotate(8 1480.4 1047.4)"/>
<ellipse class="b" cx="457.2" cy="1051.5" rx="18.4" ry="3.5" opacity="0.09" transform="rotate(6 457.2 1051.5)"/>
<ellipse class="b" cx="1408.9" cy="854.4" rx="43.1" ry="2.3" opacity="0.06"/>
<ellipse class="b" cx="795.6" cy="921.1" rx="40.1" ry="3.2" opacity="0.10" transform="rotate(6 795.6 921.1)"/>
<ellipse class="b" cx="945" cy="704.4" rx="30.9" ry="2.8" opacity="0.09" transform="rotate(-5 945 704.4)"/>
<ellipse class="b" cx="1665.1" cy="981.2" rx="30" ry="2.4" opacity="0.12"/>
<ellipse class="b" cx="1316.4" cy="815.4" rx="31.3" ry="3.3" opacity="0.11" transform="rotate(3 1316.4 815.4)"/>
<ellipse class="b" cx="1204.5" cy="914.9" rx="35.6" ry="3.6" opacity="0.08" transform="rotate(-5 1204.5 914.9)"/>
<ellipse class="b" cx="335.4" cy="1108.3" rx="17.6" ry="3.2" opacity="0.08"/>
<ellipse class="b" cx="1892" cy="1148.7" rx="43.9" ry="3.6" opacity="0.13" transform="rotate(-5 1892 1148.7)"/>
<ellipse class="b" cx="1714.4" cy="1032.9" rx="24.6" ry="2.9" opacity="0.11"/>
<ellipse class="b" cx="1357.7" cy="915.6" rx="45.4" ry="3.4" opacity="0.08"/>
<ellipse class="b" cx="421.7" cy="940.8" rx="31.4" ry="3" opacity="0.08" transform="rotate(-5 421.7 940.8)"/>
<ellipse class="b" cx="568.2" cy="765.2" rx="31.2" ry="2.4" opacity="0.13" transform="rotate(3 568.2 765.2)"/>
<ellipse class="b" cx="1304.2" cy="802.6" rx="19.8" ry="2.4" opacity="0.12"/>
<ellipse class="b" cx="711.8" cy="891.7" rx="24.9" ry="3.2" opacity="0.10"/>
<ellipse class="b" cx="1280.4" cy="1141.6" rx="24.9" ry="2.7" opacity="0.12" transform="rotate(-3 1280.4 1141.6)"/>
<ellipse class="b" cx="1251.9" cy="785.2" rx="39.7" ry="3.6" opacity="0.12" transform="rotate(-3 1251.9 785.2)"/>
<ellipse class="b" cx="1337.8" cy="889.6" rx="40.9" ry="3.5" opacity="0.06" transform="rotate(-5 1337.8 889.6)"/>
<ellipse class="b" cx="1164.9" cy="735.8" rx="31.5" ry="2.4" opacity="0.11"/>
<ellipse class="b" cx="1647.3" cy="734.2" rx="29.6" ry="2.5" opacity="0.12"/>
<ellipse class="b" cx="836.4" cy="797.5" rx="43.6" ry="3" opacity="0.07" transform="rotate(-3 836.4 797.5)"/>
<ellipse class="b" cx="470.2" cy="845" rx="29.7" ry="2.4" opacity="0.09" transform="rotate(-3 470.2 845)"/>
<ellipse class="b" cx="1495.4" cy="1048.1" rx="40.6" ry="3.3" opacity="0.11" transform="rotate(-5 1495.4 1048.1)"/>
<ellipse class="b" cx="956.8" cy="760.8" rx="34.4" ry="3.6" opacity="0.11"/>
<ellipse class="b" cx="746.7" cy="972.4" rx="42.2" ry="3.5" opacity="0.07"/>
<ellipse class="b" cx="652.6" cy="1154.8" rx="45.9" ry="3.4" opacity="0.08" transform="rotate(-3 652.6 1154.8)"/>
<ellipse class="b" cx="785.3" cy="971.4" rx="26.7" ry="3.6" opacity="0.13"/>
<ellipse class="b" cx="460" cy="885.8" rx="23.4" ry="2.3" opacity="0.07" transform="rotate(8 460 885.8)"/>
<ellipse class="b" cx="1703.7" cy="1087.1" rx="25.2" ry="3.6" opacity="0.14" transform="rotate(6 1703.7 1087.1)"/>
<ellipse class="b" cx="933.7" cy="690.2" rx="33.3" ry="3" opacity="0.09"/>
<ellipse class="b" cx="1173.8" cy="1089.4" rx="19.8" ry="2.8" opacity="0.09" transform="rotate(-3 1173.8 1089.4)"/>
<ellipse class="b" cx="1459.3" cy="907.1" rx="26.5" ry="3.6" opacity="0.06"/>
<ellipse class="b" cx="1110.2" cy="706.4" rx="23" ry="3.1" opacity="0.10" transform="rotate(3 1110.2 706.4)"/>
<ellipse class="b" cx="808" cy="946.8" rx="30" ry="3.4" opacity="0.11" transform="rotate(6 808 946.8)"/>
<ellipse class="b" cx="1706.5" cy="916.5" rx="31.1" ry="2.9" opacity="0.07"/>
<ellipse class="b" cx="1719.7" cy="1041.8" rx="37.7" ry="2.6" opacity="0.10"/>
<ellipse class="b" cx="663.2" cy="833.9" rx="20.2" ry="2.5" opacity="0.13" transform="rotate(8 663.2 833.9)"/>
<ellipse class="b" cx="1689.6" cy="966" rx="25.6" ry="3.5" opacity="0.13" transform="rotate(-5 1689.6 966)"/>
<ellipse class="b" cx="1132.6" cy="856.2" rx="29.3" ry="2.6" opacity="0.07" transform="rotate(6 1132.6 856.2)"/>
<ellipse class="b" cx="722.8" cy="989.9" rx="45.6" ry="2.6" opacity="0.09" transform="rotate(6 722.8 989.9)"/>
<ellipse class="b" cx="1155.5" cy="816.6" rx="35.6" ry="2.6" opacity="0.10"/>
<ellipse class="b" cx="1131.9" cy="1055.8" rx="18.8" ry="3.2" opacity="0.06" transform="rotate(-5 1131.9 1055.8)"/>
<ellipse class="b" cx="342.6" cy="948.9" rx="36.5" ry="2.9" opacity="0.13"/>
<ellipse class="b" cx="696.4" cy="835.7" rx="34.9" ry="3.2" opacity="0.10"/>
<ellipse class="b" cx="804.2" cy="740.6" rx="29.1" ry="3.4" opacity="0.14"/>
<ellipse class="b" cx="1402.1" cy="922.9" rx="30" ry="2.6" opacity="0.08" transform="rotate(-5 1402.1 922.9)"/>
<ellipse class="b" cx="1155.4" cy="911.4" rx="39.1" ry="3.6" opacity="0.07"/>
<ellipse class="b" cx="1208.2" cy="1102.2" rx="21.4" ry="3.3" opacity="0.07" transform="rotate(-3 1208.2 1102.2)"/>
<ellipse class="b" cx="1653.1" cy="1039.2" rx="38.3" ry="3.2" opacity="0.10" transform="rotate(-3 1653.1 1039.2)"/>
<ellipse class="b" cx="1123.4" cy="1082.3" rx="36.6" ry="3.5" opacity="0.10" transform="rotate(6 1123.4 1082.3)"/>
<ellipse class="b" cx="861.4" cy="781" rx="16.7" ry="2.6" opacity="0.09"/>
<ellipse class="b" cx="1506" cy="705.9" rx="39.6" ry="2.9" opacity="0.11" transform="rotate(3 1506 705.9)"/>
<ellipse class="b" cx="1411.7" cy="833.9" rx="26.3" ry="2.6" opacity="0.12" transform="rotate(-5 1411.7 833.9)"/>
<ellipse class="b" cx="1418.8" cy="815.9" rx="29.8" ry="3.2" opacity="0.10" transform="rotate(3 1418.8 815.9)"/>
<ellipse class="b" cx="1332.8" cy="1110.7" rx="33.5" ry="2.8" opacity="0.11" transform="rotate(6 1332.8 1110.7)"/>
<ellipse class="b" cx="1793.5" cy="846.6" rx="29.2" ry="3.3" opacity="0.07" transform="rotate(3 1793.5 846.6)"/>
<ellipse class="b" cx="614.7" cy="932.1" rx="17.4" ry="2.7" opacity="0.12"/>
<ellipse class="b" cx="1234.3" cy="1105" rx="25.1" ry="3.5" opacity="0.13"/>
<ellipse class="b" cx="786.2" cy="812.3" rx="19.7" ry="2.3" opacity="0.07" transform="rotate(-5 786.2 812.3)"/>
<ellipse class="b" cx="1835.6" cy="780.9" rx="27.6" ry="2.8" opacity="0.11" transform="rotate(-3 1835.6 780.9)"/>
<ellipse class="b" cx="1059.5" cy="1150" rx="42" ry="3.6" opacity="0.11" transform="rotate(6 1059.5 1150)"/>
<ellipse class="b" cx="1297.1" cy="993.4" rx="27.2" ry="3.5" opacity="0.11"/>
<ellipse class="b" cx="1411.6" cy="1115.9" rx="20.4" ry="2.6" opacity="0.12" transform="rotate(-5 1411.6 1115.9)"/>
<ellipse class="b" cx="1129" cy="850.1" rx="35.6" ry="3.2" opacity="0.07"/>
<ellipse class="b" cx="1597.1" cy="1153" rx="31.9" ry="3.6" opacity="0.10"/>
<ellipse class="b" cx="1361.5" cy="780.6" rx="33.5" ry="3.6" opacity="0.12" transform="rotate(-5 1361.5 780.6)"/>
<ellipse class="b" cx="1865" cy="1019.3" rx="44.5" ry="3.1" opacity="0.08"/>
<ellipse class="b" cx="518.2" cy="810.5" rx="20.4" ry="2.7" opacity="0.13" transform="rotate(3 518.2 810.5)"/>
<ellipse class="b" cx="1517.2" cy="798.6" rx="20.8" ry="3" opacity="0.10"/>
<ellipse class="b" cx="938.4" cy="867.8" rx="26.9" ry="3.1" opacity="0.11" transform="rotate(6 938.4 867.8)"/>
<ellipse class="b" cx="1096" cy="762.4" rx="16.7" ry="3.4" opacity="0.11" transform="rotate(3 1096 762.4)"/>
<ellipse class="b" cx="1582.4" cy="739.5" rx="39.7" ry="3.6" opacity="0.12"/>
<ellipse class="b" cx="1643.6" cy="801.5" rx="28.4" ry="3.6" opacity="0.12" transform="rotate(3 1643.6 801.5)"/>
<ellipse class="b" cx="1020.1" cy="819.1" rx="37.5" ry="3.6" opacity="0.11"/>
<ellipse class="b" cx="1896.7" cy="700.7" rx="41.1" ry="3.1" opacity="0.11" transform="rotate(-3 1896.7 700.7)"/>
<ellipse class="b" cx="826" cy="848.3" rx="29.1" ry="2.6" opacity="0.09" transform="rotate(-3 826 848.3)"/>
<ellipse class="b" cx="1544.7" cy="978.2" rx="31.6" ry="3.2" opacity="0.12" transform="rotate(8 1544.7 978.2)"/>
<ellipse class="b" cx="1844.9" cy="1058.8" rx="23.9" ry="3.5" opacity="0.07"/>
<ellipse class="b" cx="754.1" cy="1023.8" rx="28.8" ry="3.4" opacity="0.10" transform="rotate(8 754.1 1023.8)"/>
<ellipse class="b" cx="1867.5" cy="838.3" rx="35.2" ry="3.1" opacity="0.11" transform="rotate(6 1867.5 838.3)"/>
<ellipse class="b" cx="1767.9" cy="1111.7" rx="35.8" ry="2.8" opacity="0.08"/>
<ellipse class="b" cx="1687.4" cy="978.7" rx="30.5" ry="3.6" opacity="0.14"/>
<ellipse class="b" cx="1153.3" cy="696.9" rx="44.5" ry="3.3" opacity="0.13"/>
<ellipse class="b" cx="1542.4" cy="718.4" rx="41.1" ry="3" opacity="0.08" transform="rotate(-3 1542.4 718.4)"/>
<ellipse class="b" cx="1782.5" cy="813.5" rx="22.9" ry="2.3" opacity="0.08" transform="rotate(8 1782.5 813.5)"/>
<ellipse class="b" cx="1043" cy="1124.5" rx="42.3" ry="2.9" opacity="0.12" transform="rotate(-3 1043 1124.5)"/>
<ellipse class="b" cx="1577.7" cy="1021.5" rx="33.2" ry="3.5" opacity="0.11" transform="rotate(-5 1577.7 1021.5)"/>
<ellipse class="b" cx="1613.9" cy="981" rx="35.2" ry="3.4" opacity="0.07" transform="rotate(6 1613.9 981)"/>
<ellipse class="b" cx="862.2" cy="1014.5" rx="18.5" ry="3.4" opacity="0.12" transform="rotate(3 862.2 1014.5)"/>
<ellipse class="b" cx="1454.5" cy="702.7" rx="27.5" ry="3.2" opacity="0.09" transform="rotate(8 1454.5 702.7)"/>
<ellipse class="b" cx="1465.1" cy="806.3" rx="31.8" ry="3.5" opacity="0.10" transform="rotate(-5 1465.1 806.3)"/>
<ellipse class="b" cx="1168.6" cy="1084.5" rx="37" ry="3.6" opacity="0.12" transform="rotate(-5 1168.6 1084.5)"/>
<ellipse class="b" cx="362.4" cy="1003.8" rx="40.2" ry="3.5" opacity="0.10" transform="rotate(6 362.4 1003.8)"/>
<ellipse class="b" cx="1193.2" cy="1131.5" rx="26.5" ry="3" opacity="0.09" transform="rotate(-5 1193.2 1131.5)"/>
<ellipse class="b" cx="824.3" cy="954.4" rx="44.5" ry="2.3" opacity="0.11"/>
<ellipse class="b" cx="1725.1" cy="1121.9" rx="26.6" ry="3.4" opacity="0.09" transform="rotate(-3 1725.1 1121.9)"/>
<ellipse class="b" cx="1289.4" cy="721" rx="44.5" ry="3.2" opacity="0.11" transform="rotate(3 1289.4 721)"/>
<ellipse class="b" cx="982.8" cy="853.3" rx="33.4" ry="2.3" opacity="0.13" transform="rotate(-3 982.8 853.3)"/>
<ellipse class="b" cx="1164.1" cy="1060.4" rx="23.6" ry="2.5" opacity="0.09" transform="rotate(6 1164.1 1060.4)"/>
<ellipse class="b" cx="1106" cy="974" rx="16.9" ry="2.9" opacity="0.10" transform="rotate(8 1106 974)"/>
<ellipse class="b" cx="1234.1" cy="931.7" rx="36.8" ry="2.5" opacity="0.07" transform="rotate(6 1234.1 931.7)"/>
<ellipse class="b" cx="554.3" cy="814.4" rx="27.9" ry="2.4" opacity="0.11"/>
<ellipse class="b" cx="1028.6" cy="1115.4" rx="36.8" ry="3.6" opacity="0.13" transform="rotate(6 1028.6 1115.4)"/>
<ellipse class="b" cx="1525.5" cy="803.7" rx="26.6" ry="2.8" opacity="0.11"/>
<ellipse class="b" cx="556.2" cy="1146.4" rx="35.8" ry="3.2" opacity="0.06" transform="rotate(-3 556.2 1146.4)"/>
<ellipse class="b" cx="895.5" cy="1002.8" rx="23.9" ry="3.5" opacity="0.07" transform="rotate(6 895.5 1002.8)"/>
<ellipse class="b" cx="1291.3" cy="1166.3" rx="25.6" ry="3.4" opacity="0.13"/>
<ellipse class="b" cx="1409.2" cy="1005.4" rx="25.6" ry="2.7" opacity="0.09" transform="rotate(8 1409.2 1005.4)"/>
<ellipse class="b" cx="1283.2" cy="1007.1" rx="28" ry="2.9" opacity="0.09" transform="rotate(6 1283.2 1007.1)"/>
<ellipse class="b" cx="949.4" cy="776.2" rx="41.6" ry="3.4" opacity="0.10"/>
<ellipse class="b" cx="1578.3" cy="1037.6" rx="39.8" ry="2.9" opacity="0.10"/>
<ellipse class="b" cx="939.2" cy="772" rx="31" ry="3.3" opacity="0.12" transform="rotate(6 939.2 772)"/>
<ellipse class="b" cx="722.9" cy="1064" rx="20.8" ry="2.9" opacity="0.07" transform="rotate(6 722.9 1064)"/>
<ellipse class="b" cx="1541.9" cy="967.6" rx="24.8" ry="3.3" opacity="0.07"/>
<ellipse class="b" cx="1169.9" cy="908.9" rx="41.1" ry="3" opacity="0.08"/>
<ellipse class="b" cx="1249.7" cy="878.8" rx="17.2" ry="2.8" opacity="0.09"/>
<ellipse class="b" cx="623.5" cy="846" rx="39.1" ry="3.1" opacity="0.07" transform="rotate(6 623.5 846)"/>
<ellipse class="b" cx="1366" cy="1095.2" rx="44" ry="3.4" opacity="0.08" transform="rotate(-5 1366 1095.2)"/>
<ellipse class="b" cx="1694.2" cy="886.9" rx="18.8" ry="3.5" opacity="0.14"/>
<ellipse class="b" cx="1182.6" cy="823.2" rx="41.4" ry="2.5" opacity="0.11"/>
<ellipse class="b" cx="1352.9" cy="743" rx="30" ry="3.3" opacity="0.12" transform="rotate(8 1352.9 743)"/>
<ellipse class="b" cx="1118.6" cy="930.6" rx="30.1" ry="3.1" opacity="0.06" transform="rotate(8 1118.6 930.6)"/>
<ellipse class="b" cx="692.1" cy="1125.2" rx="29.5" ry="3.2" opacity="0.12" transform="rotate(-5 692.1 1125.2)"/>
<ellipse class="b" cx="1778.4" cy="1137.3" rx="25.8" ry="2.4" opacity="0.10" transform="rotate(8 1778.4 1137.3)"/>
<ellipse class="b" cx="1647.6" cy="994.1" rx="29.4" ry="3.2" opacity="0.12" transform="rotate(-5 1647.6 994.1)"/>
<ellipse class="b" cx="1628.2" cy="1052.5" rx="36.2" ry="3.1" opacity="0.08"/>
<ellipse class="b" cx="1025.4" cy="1064.9" rx="25.2" ry="2.3" opacity="0.13"/>
<ellipse class="b" cx="1146.1" cy="975" rx="26.6" ry="3.3" opacity="0.13" transform="rotate(-5 1146.1 975)"/>
<ellipse class="b" cx="1369.7" cy="923.5" rx="40.7" ry="3.2" opacity="0.07"/>
<ellipse class="b" cx="1244.1" cy="833.8" rx="38.9" ry="2.3" opacity="0.06"/>
<ellipse class="b" cx="1735.7" cy="806.7" rx="42.2" ry="3.1" opacity="0.12" transform="rotate(3 1735.7 806.7)"/>
<ellipse class="b" cx="1297.3" cy="1129.4" rx="29" ry="2.8" opacity="0.07"/>
<ellipse class="b" cx="342.9" cy="777.8" rx="20" ry="3.3" opacity="0.13" transform="rotate(-3 342.9 777.8)"/>
<ellipse class="b" cx="494.8" cy="1133.9" rx="40.1" ry="2.3" opacity="0.08"/>
<ellipse class="b" cx="1084.5" cy="1103.7" rx="32.8" ry="2.8" opacity="0.13" transform="rotate(-3 1084.5 1103.7)"/>
<ellipse class="b" cx="1267.4" cy="1031.1" rx="20.2" ry="3.4" opacity="0.09"/>
<ellipse class="b" cx="1367.6" cy="928.2" rx="37.6" ry="3.2" opacity="0.10"/>
<ellipse class="b" cx="1817.9" cy="1145.2" rx="42.4" ry="3.5" opacity="0.12" transform="rotate(6 1817.9 1145.2)"/>
<ellipse class="b" cx="1606.5" cy="813.8" rx="18" ry="3.6" opacity="0.10" transform="rotate(-5 1606.5 813.8)"/>
<ellipse class="b" cx="1459.3" cy="943.7" rx="24.8" ry="2.6" opacity="0.09" transform="rotate(-3 1459.3 943.7)"/>
<ellipse class="b" cx="1263.4" cy="712.8" rx="28.5" ry="2.6" opacity="0.08" transform="rotate(8 1263.4 712.8)"/>
<ellipse class="b" cx="1852.6" cy="796.7" rx="29.2" ry="2.9" opacity="0.10" transform="rotate(8 1852.6 796.7)"/>
<ellipse class="b" cx="1439.9" cy="949.8" rx="32.5" ry="2.8" opacity="0.13"/>
<ellipse class="b" cx="1803.7" cy="733.4" rx="30.3" ry="3.6" opacity="0.07" transform="rotate(-3 1803.7 733.4)"/>
<ellipse class="b" cx="1215.9" cy="1063.8" rx="18.9" ry="3.5" opacity="0.07"/>
<ellipse class="b" cx="1764.8" cy="910.5" rx="29.8" ry="3.5" opacity="0.11" transform="rotate(-5 1764.8 910.5)"/>
<ellipse class="b" cx="1228.7" cy="1140.2" rx="29.9" ry="2.3" opacity="0.13"/>
<ellipse class="b" cx="1143.9" cy="1096.7" rx="45.2" ry="3.1" opacity="0.09" transform="rotate(-5 1143.9 1096.7)"/>
<ellipse class="b" cx="1208.5" cy="1138.3" rx="22.4" ry="2.4" opacity="0.08" transform="rotate(-3 1208.5 1138.3)"/>
<ellipse class="b" cx="878.3" cy="819.7" rx="44" ry="2.4" opacity="0.13" transform="rotate(-5 878.3 819.7)"/>
<ellipse class="b" cx="1360.7" cy="1150" rx="32.6" ry="3.5" opacity="0.11"/>
<ellipse class="b" cx="810.3" cy="928.1" rx="26.2" ry="2.7" opacity="0.13" transform="rotate(6 810.3 928.1)"/>
<ellipse class="b" cx="1865.9" cy="986.4" rx="45.6" ry="3.6" opacity="0.10" transform="rotate(3 1865.9 986.4)"/>
<ellipse class="b" cx="1566.3" cy="700.8" rx="19.9" ry="3.3" opacity="0.13"/>
<ellipse class="b" cx="1232.1" cy="1023" rx="23.8" ry="2.6" opacity="0.08" transform="rotate(8 1232.1 1023)"/>
<ellipse class="b" cx="488.9" cy="1042.2" rx="30.9" ry="2.9" opacity="0.07"/>
<ellipse class="b" cx="1579.5" cy="955.7" rx="44.2" ry="3.6" opacity="0.08"/>
<ellipse class="b" cx="1166.3" cy="1083.9" rx="35.4" ry="2.8" opacity="0.12" transform="rotate(3 1166.3 1083.9)"/>
<ellipse class="b" cx="1399.7" cy="991.6" rx="21.8" ry="2.6" opacity="0.10"/>
<ellipse class="b" cx="1044.8" cy="1152.9" rx="30.4" ry="3.6" opacity="0.12" transform="rotate(6 1044.8 1152.9)"/>
<ellipse class="b" cx="408.6" cy="797.8" rx="16.7" ry="2.6" opacity="0.09"/>
<ellipse class="b" cx="1538.6" cy="886.3" rx="31.9" ry="2.9" opacity="0.11"/>
<ellipse class="b" cx="820.5" cy="698" rx="43.8" ry="2.5" opacity="0.07"/>
<ellipse class="b" cx="1615.1" cy="895" rx="41" ry="2.3" opacity="0.10"/>
<ellipse class="b" cx="1126.4" cy="1126" rx="35.6" ry="2.8" opacity="0.07"/>
<ellipse class="b" cx="1013.7" cy="757.3" rx="18.9" ry="3.2" opacity="0.12" transform="rotate(6 1013.7 757.3)"/>
<ellipse class="b" cx="1691.1" cy="1044.1" rx="40" ry="3.4" opacity="0.09"/>
<ellipse class="b" cx="1742.1" cy="990.7" rx="40.7" ry="3.6" opacity="0.13" transform="rotate(-5 1742.1 990.7)"/>
<ellipse class="b" cx="1814" cy="1117.4" rx="26.8" ry="3" opacity="0.13" transform="rotate(-3 1814 1117.4)"/>
<ellipse class="b" cx="1827.7" cy="764.4" rx="22.1" ry="2.6" opacity="0.11"/>
<ellipse class="b" cx="1436.7" cy="909.1" rx="23.6" ry="3.6" opacity="0.06"/>
<ellipse class="b" cx="1801" cy="855.1" rx="31.6" ry="2.4" opacity="0.08" transform="rotate(6 1801 855.1)"/>
<ellipse class="b" cx="1058" cy="1154.3" rx="31.6" ry="3.3" opacity="0.13" transform="rotate(6 1058 1154.3)"/>
<ellipse class="b" cx="1535.4" cy="1158.1" rx="33.8" ry="2.8" opacity="0.13"/>
<ellipse class="b" cx="574" cy="1166" rx="35.8" ry="3.5" opacity="0.12" transform="rotate(-3 574 1166)"/>
<ellipse class="b" cx="597.8" cy="731.9" rx="45.2" ry="2.8" opacity="0.10"/>
<ellipse class="b" cx="1774.9" cy="913.9" rx="45.2" ry="3.1" opacity="0.10"/>
<ellipse class="b" cx="1310.3" cy="734.6" rx="26.6" ry="3.5" opacity="0.10"/>
<ellipse class="b" cx="1365.1" cy="779.8" rx="24.1" ry="2.3" opacity="0.11"/>
<ellipse class="b" cx="1206.5" cy="1104.8" rx="21.9" ry="2.9" opacity="0.07" transform="rotate(-3 1206.5 1104.8)"/>
<ellipse class="b" cx="902.9" cy="862.5" rx="36.8" ry="2.5" opacity="0.12"/>
<ellipse class="b" cx="988.9" cy="1050.2" rx="29.5" ry="3.5" opacity="0.12"/>
<ellipse class="b" cx="1309" cy="1025.5" rx="19.5" ry="3.6" opacity="0.11" transform="rotate(6 1309 1025.5)"/>
<ellipse class="b" cx="1236.2" cy="845.6" rx="19.7" ry="3.2" opacity="0.10"/>
<ellipse class="b" cx="1133.3" cy="704.8" rx="29.3" ry="3.5" opacity="0.14" transform="rotate(8 1133.3 704.8)"/>
<ellipse class="b" cx="1005.4" cy="860" rx="45.2" ry="3.1" opacity="0.12"/>
<ellipse class="b" cx="270.5" cy="970.5" rx="35.3" ry="2.8" opacity="0.07"/>
<ellipse class="b" cx="1190.4" cy="686.2" rx="33.1" ry="3.1" opacity="0.09" transform="rotate(-3 1190.4 686.2)"/>
<ellipse class="b" cx="1769.9" cy="843.8" rx="33.8" ry="2.5" opacity="0.08" transform="rotate(-5 1769.9 843.8)"/>
<ellipse class="b" cx="833.8" cy="884.3" rx="28.3" ry="3.1" opacity="0.09"/>
<ellipse class="b" cx="390.7" cy="1067.6" rx="36.9" ry="2.5" opacity="0.12" transform="rotate(3 390.7 1067.6)"/>
<ellipse class="b" cx="860" cy="938.4" rx="29.1" ry="2.4" opacity="0.07" transform="rotate(8 860 938.4)"/>
<ellipse class="b" cx="742.2" cy="743.6" rx="27.7" ry="2.8" opacity="0.12"/>
<ellipse class="b" cx="716.9" cy="964" rx="20.9" ry="2.8" opacity="0.12"/>
<ellipse class="b" cx="1829.8" cy="995" rx="32.4" ry="3.1" opacity="0.12"/>
<ellipse class="b" cx="653.5" cy="1118.8" rx="23.5" ry="3.4" opacity="0.07" transform="rotate(6 653.5 1118.8)"/>
<ellipse class="b" cx="1431.1" cy="845.1" rx="26.1" ry="3.1" opacity="0.11"/>
<ellipse class="b" cx="1349.5" cy="1001.6" rx="24.7" ry="2.9" opacity="0.11"/>
<ellipse class="b" cx="621.6" cy="1027.6" rx="20" ry="3.2" opacity="0.13"/>
<ellipse class="b" cx="1383.6" cy="749.4" rx="42.6" ry="3.4" opacity="0.12" transform="rotate(6 1383.6 749.4)"/>
<ellipse class="b" cx="1504" cy="948.2" rx="20.4" ry="3.5" opacity="0.10"/>
<ellipse class="b" cx="1471" cy="907.1" rx="36.5" ry="3.1" opacity="0.12"/>
<ellipse class="b" cx="1456.4" cy="756.1" rx="38.1" ry="2.6" opacity="0.06"/>
<ellipse class="b" cx="952.2" cy="798.4" rx="42.2" ry="3.2" opacity="0.13"/>
<ellipse class="b" cx="1361.8" cy="947.6" rx="44" ry="3.6" opacity="0.07" transform="rotate(6 1361.8 947.6)"/>
<ellipse class="b" cx="473.2" cy="1014.7" rx="24.5" ry="3.2" opacity="0.13" transform="rotate(-3 473.2 1014.7)"/>
<ellipse class="b" cx="1448.8" cy="966.4" rx="41.2" ry="2.3" opacity="0.12"/>
<ellipse class="b" cx="1632.9" cy="926.1" rx="33.3" ry="2.9" opacity="0.11" transform="rotate(-3 1632.9 926.1)"/>
<ellipse class="b" cx="582.4" cy="891.4" rx="34" ry="3.4" opacity="0.10"/>
<ellipse class="b" cx="1835.1" cy="1161.9" rx="33" ry="3.2" opacity="0.10" transform="rotate(8 1835.1 1161.9)"/>
<ellipse class="b" cx="1824.2" cy="772.8" rx="26.7" ry="2.7" opacity="0.12" transform="rotate(8 1824.2 772.8)"/>
<ellipse class="b" cx="1286.1" cy="909.4" rx="37.2" ry="2.7" opacity="0.06"/>
<ellipse class="b" cx="511.4" cy="1104.8" rx="31.4" ry="2.4" opacity="0.14"/>
<ellipse class="b" cx="1851.4" cy="1022" rx="29.1" ry="3.1" opacity="0.07" transform="rotate(-5 1851.4 1022)"/>
<ellipse class="b" cx="1338.3" cy="929.4" rx="45.5" ry="2.5" opacity="0.14"/>
<ellipse class="b" cx="1173.8" cy="1043.2" rx="40.6" ry="3" opacity="0.07" transform="rotate(-5 1173.8 1043.2)"/>
<ellipse class="b" cx="1011.7" cy="1013.1" rx="44.6" ry="3.2" opacity="0.12" transform="rotate(8 1011.7 1013.1)"/>
<ellipse class="b" cx="1469.2" cy="962.5" rx="44.8" ry="2.9" opacity="0.13" transform="rotate(6 1469.2 962.5)"/>
<ellipse class="b" cx="1679.2" cy="913.7" rx="40.7" ry="3.3" opacity="0.11"/>
<ellipse class="b" cx="914.2" cy="798.9" rx="33.8" ry="2.8" opacity="0.12" transform="rotate(3 914.2 798.9)"/>
<ellipse class="b" cx="407.7" cy="710.5" rx="45.9" ry="2.8" opacity="0.11"/>
<ellipse class="b" cx="681.8" cy="810.8" rx="24.2" ry="3.4" opacity="0.08"/>
<ellipse class="b" cx="1710.6" cy="956.8" rx="24.9" ry="3.4" opacity="0.14"/>
<ellipse class="b" cx="829.8" cy="785.8" rx="19.1" ry="2.7" opacity="0.10" transform="rotate(-3 829.8 785.8)"/>
<ellipse class="b" cx="1702.5" cy="941.7" rx="38.4" ry="3.2" opacity="0.10" transform="rotate(-3 1702.5 941.7)"/>
<ellipse class="b" cx="447.6" cy="1090.5" rx="27.6" ry="2.5" opacity="0.10"/>
<ellipse class="b" cx="1196.8" cy="1160.2" rx="23.2" ry="2.6" opacity="0.12" transform="rotate(8 1196.8 1160.2)"/>
<ellipse class="b" cx="1858.7" cy="1084.2" rx="33" ry="3.6" opacity="0.08" transform="rotate(8 1858.7 1084.2)"/>
<ellipse class="b" cx="283.4" cy="1049.9" rx="23.5" ry="3.4" opacity="0.06"/>
<ellipse class="b" cx="1619.1" cy="1139.1" rx="19.1" ry="2.8" opacity="0.08"/>
<ellipse class="b" cx="1749.1" cy="773.5" rx="44.2" ry="3.2" opacity="0.12"/>
<ellipse class="b" cx="1877.4" cy="1162.3" rx="21.2" ry="2.3" opacity="0.11" transform="rotate(-3 1877.4 1162.3)"/>
<ellipse class="b" cx="1303.5" cy="1123.4" rx="36.5" ry="3.1" opacity="0.08" transform="rotate(3 1303.5 1123.4)"/>
<ellipse class="b" cx="1193.8" cy="1008.8" rx="28.6" ry="3.6" opacity="0.14"/>
<ellipse class="b" cx="369" cy="830.9" rx="20.5" ry="2.7" opacity="0.07" transform="rotate(-5 369 830.9)"/>
<ellipse class="b" cx="838.6" cy="1040.4" rx="35.8" ry="3.6" opacity="0.10"/>
<ellipse class="b" cx="1593.7" cy="1029.4" rx="41.2" ry="3.2" opacity="0.08"/>
<ellipse class="b" cx="1196.9" cy="984.8" rx="23.9" ry="2.4" opacity="0.12"/>
<ellipse class="b" cx="1395.7" cy="751.1" rx="23" ry="2.7" opacity="0.12" transform="rotate(3 1395.7 751.1)"/>
<ellipse class="b" cx="1876.7" cy="884.7" rx="30.7" ry="3.2" opacity="0.13" transform="rotate(8 1876.7 884.7)"/>
<ellipse class="b" cx="1642.8" cy="1138.8" rx="41.8" ry="2.9" opacity="0.07" transform="rotate(-5 1642.8 1138.8)"/>
<ellipse class="b" cx="569" cy="844.6" rx="22.8" ry="3.5" opacity="0.13" transform="rotate(-5 569 844.6)"/>
<ellipse class="b" cx="401.5" cy="836.8" rx="23.2" ry="2.6" opacity="0.08" transform="rotate(-5 401.5 836.8)"/>
<ellipse class="b" cx="798.1" cy="841.1" rx="24.9" ry="3.2" opacity="0.06" transform="rotate(8 798.1 841.1)"/>
<ellipse class="b" cx="600.6" cy="994.3" rx="40.5" ry="3.6" opacity="0.12"/>
<ellipse class="b" cx="350.8" cy="860.1" rx="25.6" ry="3.2" opacity="0.07"/>
<ellipse class="b" cx="1281.4" cy="829.8" rx="28.3" ry="3.4" opacity="0.14"/>
<ellipse class="b" cx="316" cy="1157.3" rx="22.5" ry="3.6" opacity="0.09"/>
<ellipse class="b" cx="495.5" cy="1017.3" rx="16.9" ry="2.6" opacity="0.09" transform="rotate(8 495.5 1017.3)"/>
<ellipse class="b" cx="657.9" cy="813.5" rx="18.8" ry="3.2" opacity="0.13"/>
<ellipse class="b" cx="1349.6" cy="826.5" rx="34.7" ry="3.3" opacity="0.06" transform="rotate(-5 1349.6 826.5)"/>
<ellipse class="b" cx="1435.1" cy="956.1" rx="26.6" ry="3.1" opacity="0.08"/>
<ellipse class="b" cx="1216.2" cy="893.9" rx="33.2" ry="2.8" opacity="0.10"/>
<ellipse class="b" cx="1491.7" cy="723.3" rx="33" ry="2.8" opacity="0.14" transform="rotate(-3 1491.7 723.3)"/>
<ellipse class="b" cx="1380.6" cy="1144.7" rx="30.7" ry="3.6" opacity="0.08" transform="rotate(3 1380.6 1144.7)"/>
<ellipse class="b" cx="1825.6" cy="707.9" rx="43.3" ry="2.3" opacity="0.06"/>
<ellipse class="b" cx="1747.1" cy="918.2" rx="41.2" ry="2.9" opacity="0.12" transform="rotate(8 1747.1 918.2)"/>
<ellipse class="b" cx="852.9" cy="1131.4" rx="40.8" ry="2.4" opacity="0.06"/>
<ellipse class="b" cx="1733.6" cy="946.7" rx="44" ry="3.6" opacity="0.06"/>
<ellipse class="b" cx="1402.8" cy="971.9" rx="20.1" ry="3.6" opacity="0.07"/>
<ellipse class="b" cx="1049.2" cy="757.6" rx="16.8" ry="3.3" opacity="0.07"/>
<ellipse class="b" cx="1066.6" cy="738.2" rx="24.1" ry="3.1" opacity="0.11" transform="rotate(-5 1066.6 738.2)"/>
<ellipse class="b" cx="1811.4" cy="1164.9" rx="28.1" ry="2.5" opacity="0.10"/>
<ellipse class="b" cx="1501.4" cy="795" rx="24.6" ry="3.5" opacity="0.09"/>
<ellipse class="b" cx="1293.5" cy="776.1" rx="44.7" ry="3.4" opacity="0.14" transform="rotate(3 1293.5 776.1)"/>
<ellipse class="b" cx="1720.6" cy="823.3" rx="20.8" ry="2.4" opacity="0.10"/>
<ellipse class="b" cx="1838.8" cy="944.4" rx="44.7" ry="3.3" opacity="0.10" transform="rotate(8 1838.8 944.4)"/>
<ellipse class="b" cx="1738.2" cy="1126" rx="40" ry="3.2" opacity="0.06"/>
<ellipse class="b" cx="994.6" cy="1071.2" rx="43.1" ry="3.3" opacity="0.11" transform="rotate(8 994.6 1071.2)"/>
<ellipse class="b" cx="323.7" cy="1114.9" rx="42.1" ry="3.6" opacity="0.08"/>
<ellipse class="b" cx="1601.5" cy="750.2" rx="39.7" ry="3.4" opacity="0.07" transform="rotate(3 1601.5 750.2)"/>
<ellipse class="b" cx="645.9" cy="725.2" rx="17.9" ry="3.3" opacity="0.10" transform="rotate(6 645.9 725.2)"/>
<ellipse class="b" cx="559.8" cy="690.4" rx="28.5" ry="2.7" opacity="0.11"/>
<ellipse class="b" cx="1681.4" cy="750.8" rx="43.7" ry="3.2" opacity="0.06" transform="rotate(6 1681.4 750.8)"/>
<ellipse class="b" cx="466.8" cy="988" rx="24" ry="3.2" opacity="0.09"/>
<ellipse class="b" cx="1030.6" cy="1141.2" rx="27.9" ry="3.4" opacity="0.12"/>
<ellipse class="b" cx="1774.2" cy="926" rx="29.3" ry="2.8" opacity="0.13"/>
<ellipse class="b" cx="929.9" cy="1062.5" rx="21.5" ry="3.2" opacity="0.13"/>
<ellipse class="b" cx="1337.8" cy="786.8" rx="39.1" ry="3.6" opacity="0.13" transform="rotate(-5 1337.8 786.8)"/>
<ellipse class="b" cx="1486.7" cy="917.5" rx="23.5" ry="3.4" opacity="0.14" transform="rotate(3 1486.7 917.5)"/>
</g>
<g filter="url(#bl)">
<linearGradient id="r11" gradientUnits="userSpaceOnUse" x1="506.6" y1="0" x2="692.9" y2="0"><stop offset="0.0000" stop-color="#fff" stop-opacity="0.00"/><stop offset="0.0880" stop-color="#fff" stop-opacity="0.51"/><stop offset="0.2056" stop-color="#fff" stop-opacity="0.79"/><stop offset="0.3231" stop-color="#fff" stop-opacity="0.68"/><stop offset="0.4117" stop-color="#fff" stop-opacity="0.79"/><stop offset="0.5293" stop-color="#fff" stop-opacity="0.96"/><stop offset="0.6323" stop-color="#fff" stop-opacity="1.00"/><stop offset="0.7644" stop-color="#fff" stop-opacity="0.96"/><stop offset="0.8674" stop-color="#fff" stop-opacity="1.00"/><stop offset="0.9560" stop-color="#fff" stop-opacity="0.79"/><stop offset="1.0000" stop-color="#fff" stop-opacity="0.00"/></linearGradient><path class="r" d="M506.6 850.3L523 853.1L544.9 854.5L566.8 853.1L583.3 849L605.2 847.6L624.4 848.2L649 850.3L668.2 852.3L684.7 853.1L692.9 854.7" stroke="url(#r11)" stroke-width="5.1"/>
<linearGradient id="r12" gradientUnits="userSpaceOnUse" x1="651.8" y1="0" x2="731.2" y2="0"><stop offset="0.0000" stop-color="#fff" stop-opacity="0.00"/><stop offset="0.1373" stop-color="#fff" stop-opacity="0.36"/><stop offset="0.3098" stop-color="#fff" stop-opacity="0.44"/><stop offset="0.5176" stop-color="#fff" stop-opacity="0.46"/><stop offset="0.7242" stop-color="#fff" stop-opacity="0.40"/><stop offset="0.8967" stop-color="#fff" stop-opacity="0.28"/><stop offset="1.0000" stop-color="#fff" stop-opacity="0.00"/></linearGradient><path class="r" d="M651.8 857.2L662.7 861.3L676.4 866.8L692.9 876.4L709.3 883.2L723 891.4L731.2 895.5" stroke="url(#r12)" stroke-width="19"/>
<linearGradient id="r13" gradientUnits="userSpaceOnUse" x1="492.9" y1="0" x2="594.2" y2="0"><stop offset="0.0000" stop-color="#fff" stop-opacity="0.00"/><stop offset="0.1352" stop-color="#fff" stop-opacity="0.36"/><stop offset="0.4057" stop-color="#fff" stop-opacity="0.43"/><stop offset="0.6762" stop-color="#fff" stop-opacity="0.39"/><stop offset="0.8924" stop-color="#fff" stop-opacity="0.34"/><stop offset="1.0000" stop-color="#fff" stop-opacity="0.00"/></linearGradient><path class="r" d="M492.9 892.8L506.6 894.7L534 896.9L561.4 900.2L583.3 902.4L594.2 903.5" stroke="url(#r13)" stroke-width="5.5"/>
<linearGradient id="r14" gradientUnits="userSpaceOnUse" x1="802.5" y1="0" x2="829.9" y2="0"><stop offset="0.0000" stop-color="#fff" stop-opacity="0.00"/><stop offset="0.5000" stop-color="#fff" stop-opacity="0.51"/><stop offset="1.0000" stop-color="#fff" stop-opacity="0.59"/></linearGradient><path class="r" d="M802.5 905.1L816.2 907.3L829.9 909.2" stroke="url(#r14)" stroke-width="6"/>
<linearGradient id="r15" gradientUnits="userSpaceOnUse" x1="783.6" y1="0" x2="1372.6" y2="0"><stop offset="0.0000" stop-color="#fff" stop-opacity="0.58"/><stop offset="0.0278" stop-color="#fff" stop-opacity="0.58"/><stop offset="0.0744" stop-color="#fff" stop-opacity="0.73"/><stop offset="0.1209" stop-color="#fff" stop-opacity="0.58"/><stop offset="0.1581" stop-color="#fff" stop-opacity="0.92"/><stop offset="0.2139" stop-color="#fff" stop-opacity="0.58"/><stop offset="0.2511" stop-color="#fff" stop-opacity="0.35"/><stop offset="0.2837" stop-color="#fff" stop-opacity="0.53"/><stop offset="0.3535" stop-color="#fff" stop-opacity="0.58"/><stop offset="0.3767" stop-color="#fff" stop-opacity="0.73"/><stop offset="0.4233" stop-color="#fff" stop-opacity="0.48"/><stop offset="0.4698" stop-color="#fff" stop-opacity="0.44"/><stop offset="0.5163" stop-color="#fff" stop-opacity="0.48"/><stop offset="0.5628" stop-color="#fff" stop-opacity="0.53"/><stop offset="0.6326" stop-color="#fff" stop-opacity="0.63"/><stop offset="0.7024" stop-color="#fff" stop-opacity="0.68"/><stop offset="0.7722" stop-color="#fff" stop-opacity="0.82"/><stop offset="0.8187" stop-color="#fff" stop-opacity="0.92"/><stop offset="0.9115" stop-color="#fff" stop-opacity="0.92"/><stop offset="0.9535" stop-color="#fff" stop-opacity="0.89"/><stop offset="1.0000" stop-color="#fff" stop-opacity="0.00"/></linearGradient><path class="r" d="M783.6 905.7L800 906.5L827.4 907.3L854.8 911.2L876.7 913.4L909.6 915.5L931.5 916.6L950.7 917.5L991.8 917.5L1005.5 917.5L1032.9 915.5L1060.3 912.8L1087.7 911.2L1115.1 909.2L1156.2 907.3L1197.3 904.6L1238.4 901.8L1265.8 901.3L1320.5 900.8L1345.2 900.5L1372.6 899.9" stroke="url(#r15)" stroke-width="8.5"/>
<linearGradient id="r16" gradientUnits="userSpaceOnUse" x1="835.2" y1="0" x2="917.4" y2="0"><stop offset="0.0000" stop-color="#fff" stop-opacity="0.00"/><stop offset="0.1436" stop-color="#fff" stop-opacity="0.55"/><stop offset="0.3333" stop-color="#fff" stop-opacity="0.55"/><stop offset="0.5243" stop-color="#fff" stop-opacity="0.50"/><stop offset="0.7141" stop-color="#fff" stop-opacity="0.44"/><stop offset="0.9051" stop-color="#fff" stop-opacity="0.33"/><stop offset="1.0000" stop-color="#fff" stop-opacity="0.00"/></linearGradient><path class="r" d="M835.2 905.3L847 906.3L862.6 907.7L878.3 909.4L893.9 911.2L909.6 913L917.4 914" stroke="url(#r16)" stroke-width="6"/>
<linearGradient id="r17" gradientUnits="userSpaceOnUse" x1="1232.9" y1="0" x2="1367.1" y2="0"><stop offset="0.0000" stop-color="#fff" stop-opacity="0.00"/><stop offset="0.1222" stop-color="#fff" stop-opacity="0.35"/><stop offset="0.3472" stop-color="#fff" stop-opacity="0.31"/><stop offset="0.5507" stop-color="#fff" stop-opacity="0.35"/><stop offset="0.7548" stop-color="#fff" stop-opacity="0.41"/><stop offset="0.8778" stop-color="#fff" stop-opacity="0.44"/><stop offset="1.0000" stop-color="#fff" stop-opacity="0.00"/></linearGradient><path class="r" d="M1232.9 842.7L1249.3 841L1279.5 837.7L1306.8 835.3L1334.2 832.5L1350.7 831.2L1367.1 830.6" stroke="url(#r17)" stroke-width="6"/>
<linearGradient id="r18" gradientUnits="userSpaceOnUse" x1="1344.5" y1="0" x2="1900.7" y2="0"><stop offset="0.0000" stop-color="#fff" stop-opacity="0.00"/><stop offset="0.0493" stop-color="#fff" stop-opacity="0.83"/><stop offset="0.0690" stop-color="#fff" stop-opacity="0.63"/><stop offset="0.0838" stop-color="#fff" stop-opacity="0.49"/><stop offset="0.1577" stop-color="#fff" stop-opacity="0.44"/><stop offset="0.2316" stop-color="#fff" stop-opacity="0.44"/><stop offset="0.3055" stop-color="#fff" stop-opacity="0.49"/><stop offset="0.3794" stop-color="#fff" stop-opacity="0.60"/><stop offset="0.4533" stop-color="#fff" stop-opacity="0.63"/><stop offset="0.5025" stop-color="#fff" stop-opacity="0.68"/><stop offset="0.5518" stop-color="#fff" stop-opacity="0.60"/><stop offset="0.6257" stop-color="#fff" stop-opacity="0.58"/><stop offset="0.6996" stop-color="#fff" stop-opacity="0.68"/><stop offset="0.7488" stop-color="#fff" stop-opacity="0.63"/><stop offset="0.8227" stop-color="#fff" stop-opacity="0.73"/><stop offset="0.8966" stop-color="#fff" stop-opacity="0.68"/><stop offset="0.9457" stop-color="#fff" stop-opacity="0.73"/><stop offset="1.0000" stop-color="#fff" stop-opacity="0.68"/></linearGradient><path class="r" d="M1344.5 901.3L1371.9 900.2L1382.9 899.9L1391.1 899.7L1432.2 896.9L1473.3 895.5L1514.4 894.2L1555.5 892.8L1596.6 892.8L1624 893.6L1651.4 894.2L1692.5 895L1733.6 895.5L1761 898.3L1802.1 900.2L1843.2 902.4L1870.5 903.8L1900.7 905.1" stroke="url(#r18)" stroke-width="8.1"/>
<linearGradient id="r19" gradientUnits="userSpaceOnUse" x1="1350" y1="0" x2="1517.1" y2="0"><stop offset="0.0000" stop-color="#fff" stop-opacity="0.00"/><stop offset="0.0820" stop-color="#fff" stop-opacity="0.44"/><stop offset="0.2460" stop-color="#fff" stop-opacity="0.38"/><stop offset="0.4919" stop-color="#fff" stop-opacity="0.33"/><stop offset="0.7379" stop-color="#fff" stop-opacity="0.31"/><stop offset="0.9180" stop-color="#fff" stop-opacity="0.29"/><stop offset="1.0000" stop-color="#fff" stop-opacity="0.00"/></linearGradient><path class="r" d="M1350 831.2L1363.7 830.6L1391.1 829.8L1432.2 826.2L1473.3 821.6L1503.4 818.8L1517.1 818.6" stroke="url(#r19)" stroke-width="6"/>
<linearGradient id="r20" gradientUnits="userSpaceOnUse" x1="1013.7" y1="0" x2="1274" y2="0"><stop offset="0.0000" stop-color="#fff" stop-opacity="0.00"/><stop offset="0.1264" stop-color="#fff" stop-opacity="0.25"/><stop offset="0.2843" stop-color="#fff" stop-opacity="0.27"/><stop offset="0.3896" stop-color="#fff" stop-opacity="0.36"/><stop offset="0.4841" stop-color="#fff" stop-opacity="0.53"/><stop offset="0.6001" stop-color="#fff" stop-opacity="0.36"/><stop offset="0.7157" stop-color="#fff" stop-opacity="0.45"/><stop offset="0.8421" stop-color="#fff" stop-opacity="0.39"/><stop offset="0.9474" stop-color="#fff" stop-opacity="0.34"/><stop offset="1.0000" stop-color="#fff" stop-opacity="0.00"/></linearGradient><path class="r" d="M1013.7 969.9L1046.6 969.9L1087.7 969.9L1115.1 969.3L1139.7 968.8L1169.9 970.1L1200 970.7L1232.9 969.3L1260.3 969.3L1274 969.3" stroke="url(#r20)" stroke-width="5.5"/>
<linearGradient id="r21" gradientUnits="userSpaceOnUse" x1="863" y1="0" x2="1038.4" y2="0"><stop offset="0.0000" stop-color="#fff" stop-opacity="0.00"/><stop offset="0.1876" stop-color="#fff" stop-opacity="0.31"/><stop offset="0.3438" stop-color="#fff" stop-opacity="0.44"/><stop offset="0.4686" stop-color="#fff" stop-opacity="0.55"/><stop offset="0.6095" stop-color="#fff" stop-opacity="0.44"/><stop offset="0.7343" stop-color="#fff" stop-opacity="0.29"/><stop offset="0.8905" stop-color="#fff" stop-opacity="0.35"/><stop offset="1.0000" stop-color="#fff" stop-opacity="0.00"/></linearGradient><path class="r" d="M863 1114.5L895.9 1117.8L923.3 1121.4L945.2 1122.7L969.9 1123.3L991.8 1124.1L1019.2 1126L1038.4 1126" stroke="url(#r21)" stroke-width="6"/>
<linearGradient id="r22" gradientUnits="userSpaceOnUse" x1="1355.5" y1="0" x2="1577.4" y2="0"><stop offset="0.0000" stop-color="#fff" stop-opacity="0.00"/><stop offset="0.0987" stop-color="#fff" stop-opacity="0.26"/><stop offset="0.2470" stop-color="#fff" stop-opacity="0.24"/><stop offset="0.3704" stop-color="#fff" stop-opacity="0.30"/><stop offset="0.4691" stop-color="#fff" stop-opacity="0.16"/><stop offset="0.5926" stop-color="#fff" stop-opacity="0.28"/><stop offset="0.7161" stop-color="#fff" stop-opacity="0.19"/><stop offset="0.8148" stop-color="#fff" stop-opacity="0.19"/><stop offset="0.9135" stop-color="#fff" stop-opacity="0.14"/><stop offset="1.0000" stop-color="#fff" stop-opacity="0.00"/></linearGradient><path class="r" d="M1355.5 973.4L1377.4 969.9L1410.3 969.3L1437.7 971.5L1459.6 972.1L1487 970.7L1514.4 976.2L1536.3 977.5L1558.2 972.1L1577.4 971.5" stroke="url(#r22)" stroke-width="6"/>
<linearGradient id="r23" gradientUnits="userSpaceOnUse" x1="1706.2" y1="0" x2="1840.4" y2="0"><stop offset="0.0000" stop-color="#fff" stop-opacity="0.00"/><stop offset="0.2042" stop-color="#fff" stop-opacity="0.33"/><stop offset="0.4083" stop-color="#fff" stop-opacity="0.39"/><stop offset="0.5715" stop-color="#fff" stop-opacity="0.49"/><stop offset="0.7757" stop-color="#fff" stop-opacity="0.42"/><stop offset="0.9188" stop-color="#fff" stop-opacity="0.23"/><stop offset="1.0000" stop-color="#fff" stop-opacity="0.00"/></linearGradient><path class="r" d="M1706.2 970.1L1733.6 967.1L1761 963.8L1782.9 963.8L1810.3 964.4L1829.5 965.2L1840.4 966.6" stroke="url(#r23)" stroke-width="7"/>
<linearGradient id="r24" gradientUnits="userSpaceOnUse" x1="1689.7" y1="0" x2="1900.7" y2="0"><stop offset="0.0000" stop-color="#fff" stop-opacity="0.00"/><stop offset="0.0782" stop-color="#fff" stop-opacity="0.32"/><stop offset="0.2081" stop-color="#fff" stop-opacity="0.28"/><stop offset="0.3379" stop-color="#fff" stop-opacity="0.28"/><stop offset="0.4678" stop-color="#fff" stop-opacity="0.41"/><stop offset="0.5976" stop-color="#fff" stop-opacity="0.32"/><stop offset="0.7275" stop-color="#fff" stop-opacity="0.35"/><stop offset="0.8052" stop-color="#fff" stop-opacity="0.41"/><stop offset="0.9218" stop-color="#fff" stop-opacity="0.43"/><stop offset="1.0000" stop-color="#fff" stop-opacity="0.35"/></linearGradient><path class="r" d="M1689.7 1124.1L1706.2 1125.5L1733.6 1128.2L1761 1131L1788.4 1129.6L1815.8 1128.2L1843.2 1129.6L1859.6 1135.1L1884.2 1139.2L1900.7 1139.2" stroke="url(#r24)" stroke-width="8"/>
</g>
</g>
<use href="#dem" class="dem" y="680.4"/>
</g>
<rect x="264" y="680" width="1635.8" height="487.2" fill="none" stroke="#262626" stroke-width="2.5" stroke-linejoin="round"/>
<path d="M536.6 680v15M536.6 1167.2v-15M809.3 680v15M809.3 1167.2v-15M1081.9 680v15M1081.9 1167.2v-15M1354.5 680v15M1354.5 1167.2v-15M1627.2 680v15M1627.2 1167.2v-15M264 692.4h16M1899.8 692.4h-16M264 828.4h16M1899.8 828.4h-16M264 964.4h16M1899.8 964.4h-16M264 1100.4h16M1899.8 1100.4h-16" stroke="#262626" stroke-width="1.7" fill="none" opacity="0.85"/>
<text class="tk" text-anchor="end" transform="translate(234.3 720.8) scale(1 1.05)">3150</text>
<text class="tk" text-anchor="end" transform="translate(234.3 857.8) scale(1 1.05)">3100</text>
<text class="tk" text-anchor="end" transform="translate(234.3 994.8) scale(1 1.05)">3050</text>
<text class="tk" text-anchor="end" transform="translate(234.3 1131.8) scale(1 1.05)">3000</text>
<text class="tt" text-anchor="middle" transform="translate(1097.8 656.6) scale(1 1.03)">2D TomoSAR - Direction 1</text>
<text class="lb" text-anchor="middle" transform="translate(70.9 923.1) rotate(-90)">height [m]</text>
</g>
<g id="panel3">
<g clip-path="url(#cp3)"><g filter="url(#jet)">
<rect x="247.5" y="1244.4" width="1672.3" height="527.2" fill="#000"/>
<g filter="url(#bs)">
<ellipse class="b" cx="564.1" cy="1364.9" rx="13.6" ry="4.1" opacity="0.33"/>
<ellipse class="b" cx="457.3" cy="1355.3" rx="27" ry="3.6" opacity="0.16"/>
<ellipse class="b" cx="276.4" cy="1351.8" rx="15.5" ry="3.9" opacity="0.29"/>
<ellipse class="b" cx="276.4" cy="1375.6" rx="17.4" ry="4.2" opacity="0.35"/>
<ellipse class="b" cx="268.2" cy="1347.7" rx="9.7" ry="3.6" opacity="0.16"/>
<ellipse class="b" cx="498.4" cy="1295.6" rx="21.3" ry="3.9" opacity="0.29"/>
<ellipse class="b" cx="599.7" cy="1308.8" rx="15.5" ry="3.4" opacity="0.13"/>
<ellipse class="b" cx="364.1" cy="1292.9" rx="23.2" ry="3.2" opacity="0.06"/>
<ellipse class="b" cx="407.9" cy="1292.9" rx="15.5" ry="3.2" opacity="0.06"/>
<ellipse class="b" cx="547.7" cy="1297.8" rx="23.2" ry="3.2" opacity="0.06"/>
<ellipse class="b" cx="457.3" cy="1292.9" rx="15.5" ry="3.1" opacity="0.05"/>
<ellipse class="b" cx="616.2" cy="1386.6" rx="21.3" ry="3.9" opacity="0.29"/>
<ellipse class="b" cx="717.5" cy="1380.5" rx="32.8" ry="3.4" opacity="0.13"/>
<ellipse class="b" cx="766.8" cy="1384.7" rx="17.4" ry="3.6" opacity="0.16"/>
<ellipse class="b" cx="775.1" cy="1347.1" rx="19.3" ry="3.3" opacity="0.09"/>
<ellipse class="b" cx="769.6" cy="1391.5" rx="9.7" ry="3.3" opacity="0.09"/>
<ellipse class="b" cx="534" cy="1367.4" rx="23.2" ry="3.3" opacity="0.09"/>
<ellipse class="b" cx="427.1" cy="1400.5" rx="19.3" ry="4.1" opacity="0.33"/>
<ellipse class="b" cx="440.8" cy="1410.1" rx="23.2" ry="4.2" opacity="0.35"/>
<ellipse class="b" cx="492.9" cy="1392.1" rx="21.3" ry="4.1" opacity="0.33"/>
<ellipse class="b" cx="353.2" cy="1385.5" rx="23.2" ry="3.2" opacity="0.08"/>
<ellipse class="b" cx="495.6" cy="1418.4" rx="27" ry="3.3" opacity="0.11"/>
<ellipse class="b" cx="506.6" cy="1380" rx="15.5" ry="3.3" opacity="0.09"/>
<ellipse class="b" cx="407.9" cy="1399.7" rx="15.5" ry="3.3" opacity="0.09"/>
<ellipse class="b" cx="320.3" cy="1387.9" rx="15.5" ry="3.1" opacity="0.05"/>
<ellipse class="b" cx="534" cy="1395.6" rx="19.3" ry="5" opacity="0.33"/>
<ellipse class="b" cx="547.7" cy="1402.5" rx="15.5" ry="3.9" opacity="0.29"/>
<ellipse class="b" cx="553.2" cy="1409.3" rx="25.1" ry="4.3" opacity="0.38"/>
<ellipse class="b" cx="555.9" cy="1418.9" rx="15.5" ry="6.8" opacity="0.33"/>
<ellipse class="b" cx="555.9" cy="1427.1" rx="28.9" ry="5" opacity="0.44"/>
<ellipse class="b" cx="544.9" cy="1431.2" rx="15.5" ry="3.9" opacity="0.29"/>
<ellipse class="b" cx="605.2" cy="1440.8" rx="51.9" ry="4.2" opacity="0.35" transform="rotate(-5 605.2 1440.8)"/>
<ellipse class="b" cx="553.2" cy="1451.8" rx="23.2" ry="4.3" opacity="0.38"/>
<ellipse class="b" cx="594.2" cy="1453.2" rx="23.2" ry="3.4" opacity="0.13"/>
<ellipse class="b" cx="616.2" cy="1455.9" rx="15.5" ry="3.3" opacity="0.09"/>
<ellipse class="b" cx="703.8" cy="1484.7" rx="32.8" ry="4.1" opacity="0.33"/>
<ellipse class="b" cx="660" cy="1499.7" rx="23.2" ry="3.6" opacity="0.16"/>
<ellipse class="b" cx="627.1" cy="1468.2" rx="13.6" ry="3.4" opacity="0.13"/>
<ellipse class="b" cx="640.8" cy="1476.4" rx="13.6" ry="3.3" opacity="0.09"/>
<ellipse class="b" cx="534" cy="1481.4" rx="23.2" ry="3.6" opacity="0.16"/>
<ellipse class="b" cx="569.6" cy="1485.2" rx="23.2" ry="3.8" opacity="0.26"/>
<ellipse class="b" cx="525.8" cy="1502.5" rx="15.5" ry="3.6" opacity="0.16"/>
<ellipse class="b" cx="413.4" cy="1486.8" rx="15.5" ry="3.2" opacity="0.06"/>
<ellipse class="b" cx="772.3" cy="1475.1" rx="19.3" ry="3.3" opacity="0.09"/>
<ellipse class="b" cx="369.6" cy="1462.7" rx="9.7" ry="3" opacity="0.04"/>
<ellipse class="b" cx="407.9" cy="1434" rx="13.6" ry="3.1" opacity="0.05"/>
<ellipse class="b" cx="683.3" cy="1455.9" rx="17.4" ry="4.5" opacity="0.30" transform="rotate(35 683.3 1455.9)"/>
<ellipse class="b" cx="701.1" cy="1464.1" rx="17.4" ry="4.5" opacity="0.30" transform="rotate(30 701.1 1464.1)"/>
<ellipse class="b" cx="671" cy="1449" rx="13.6" ry="4.1" opacity="0.15" transform="rotate(35 671 1449)"/>
<ellipse class="b" cx="723" cy="1479.2" rx="15.5" ry="4.1" opacity="0.16" transform="rotate(40 723 1479.2)"/>
<ellipse class="b" cx="890.4" cy="1295.1" rx="42.4" ry="3.3" opacity="0.09" transform="rotate(-3 890.4 1295.1)"/>
<ellipse class="b" cx="868.5" cy="1279.2" rx="15.5" ry="3.3" opacity="0.09"/>
<ellipse class="b" cx="835.6" cy="1309.9" rx="19.3" ry="3" opacity="0.04"/>
<ellipse class="b" cx="904.1" cy="1314.8" rx="15.5" ry="3" opacity="0.04"/>
<ellipse class="b" cx="1147.9" cy="1330.7" rx="17.4" ry="3.3" opacity="0.11"/>
<ellipse class="b" cx="986.3" cy="1359.2" rx="23.2" ry="3.1" opacity="0.05"/>
<ellipse class="b" cx="1041.1" cy="1398.9" rx="21.3" ry="3.3" opacity="0.11"/>
<ellipse class="b" cx="1128.8" cy="1399.2" rx="15.5" ry="3.2" opacity="0.08"/>
<ellipse class="b" cx="1147.9" cy="1407.4" rx="15.5" ry="3.1" opacity="0.05"/>
<ellipse class="b" cx="972.6" cy="1439.5" rx="23.2" ry="3.5" opacity="0.15"/>
<ellipse class="b" cx="1074" cy="1440.8" rx="30.9" ry="3.1" opacity="0.05"/>
<ellipse class="b" cx="1175.3" cy="1431.2" rx="30.9" ry="3.3" opacity="0.09"/>
<ellipse class="b" cx="1260.3" cy="1424.4" rx="27" ry="3.3" opacity="0.09"/>
<ellipse class="b" cx="1293.2" cy="1421.1" rx="19.3" ry="3.3" opacity="0.11"/>
<ellipse class="b" cx="1345.2" cy="1415.6" rx="27" ry="3.6" opacity="0.16" transform="rotate(-5 1345.2 1415.6)"/>
<ellipse class="b" cx="835.6" cy="1463.3" rx="17.4" ry="3.1" opacity="0.05"/>
<ellipse class="b" cx="863" cy="1466.8" rx="17.4" ry="3.1" opacity="0.05"/>
<ellipse class="b" cx="1145.2" cy="1295.1" rx="13.6" ry="3" opacity="0.04"/>
<ellipse class="b" cx="1418.5" cy="1411.5" rx="42.4" ry="3.3" opacity="0.09" transform="rotate(-3 1418.5 1411.5)"/>
<ellipse class="b" cx="1607.5" cy="1378.4" rx="15.5" ry="3.1" opacity="0.05"/>
<ellipse class="b" cx="1492.5" cy="1402.5" rx="11.7" ry="3" opacity="0.03"/>
<ellipse class="b" cx="1895.2" cy="1450.4" rx="9.7" ry="3.1" opacity="0.05"/>
<ellipse class="b" cx="1366.4" cy="1415.1" rx="23.2" ry="3.2" opacity="0.08"/>
<ellipse class="b" cx="742.2" cy="1512.7" rx="34.7" ry="6.8" opacity="0.51"/>
<ellipse class="b" cx="720.3" cy="1511.8" rx="27" ry="4.1" opacity="0.33"/>
<ellipse class="b" cx="668.2" cy="1522" rx="19.3" ry="3.9" opacity="0.29"/>
<ellipse class="b" cx="599.7" cy="1510.5" rx="21.3" ry="3.6" opacity="0.16"/>
<ellipse class="b" cx="734" cy="1524.2" rx="19.3" ry="3.9" opacity="0.29"/>
<ellipse class="b" cx="643.6" cy="1508.3" rx="19.3" ry="3.3" opacity="0.09"/>
<ellipse class="b" cx="525.8" cy="1505.5" rx="15.5" ry="3.3" opacity="0.09"/>
<ellipse class="b" cx="525.8" cy="1518.7" rx="15.5" ry="3.3" opacity="0.11"/>
<ellipse class="b" cx="807.9" cy="1518.2" rx="15.5" ry="3.4" opacity="0.13"/>
<ellipse class="b" cx="607.9" cy="1522" rx="11.7" ry="3.2" opacity="0.08"/>
<ellipse class="b" cx="690.1" cy="1542" rx="23.2" ry="4.2" opacity="0.35"/>
<ellipse class="b" cx="728.5" cy="1541.2" rx="21.3" ry="4" opacity="0.32"/>
<ellipse class="b" cx="769.6" cy="1540.6" rx="15.5" ry="5.9" opacity="0.35"/>
<ellipse class="b" cx="761.4" cy="1546.1" rx="15.5" ry="3.9" opacity="0.29"/>
<ellipse class="b" cx="681.9" cy="1533.8" rx="17.4" ry="3.4" opacity="0.13"/>
<ellipse class="b" cx="764.1" cy="1532.4" rx="15.5" ry="3.4" opacity="0.13"/>
<ellipse class="b" cx="640.8" cy="1543.4" rx="13.6" ry="3.2" opacity="0.06"/>
<ellipse class="b" cx="780.5" cy="1553.8" rx="21.3" ry="4.3" opacity="0.38"/>
<ellipse class="b" cx="649" cy="1562.5" rx="23.2" ry="4" opacity="0.32"/>
<ellipse class="b" cx="695.6" cy="1571.6" rx="21.3" ry="3.9" opacity="0.29"/>
<ellipse class="b" cx="797" cy="1570.2" rx="19.3" ry="6.4" opacity="0.47" transform="rotate(20 797 1570.2)"/>
<ellipse class="b" cx="805.2" cy="1576.8" rx="17.4" ry="5" opacity="0.26" transform="rotate(20 805.2 1576.8)"/>
<ellipse class="b" cx="813.4" cy="1594" rx="15.5" ry="4.1" opacity="0.33"/>
<ellipse class="b" cx="723" cy="1586.6" rx="17.4" ry="3.4" opacity="0.13"/>
<ellipse class="b" cx="635.3" cy="1596.8" rx="15.5" ry="3.2" opacity="0.06"/>
<ellipse class="b" cx="388.8" cy="1529.7" rx="19.3" ry="3.5" opacity="0.15"/>
<ellipse class="b" cx="292.9" cy="1546.1" rx="15.5" ry="3.3" opacity="0.09"/>
<ellipse class="b" cx="418.9" cy="1565.3" rx="21.3" ry="3.3" opacity="0.11"/>
<ellipse class="b" cx="468.2" cy="1567.5" rx="15.5" ry="3.4" opacity="0.13"/>
<ellipse class="b" cx="276.4" cy="1589.9" rx="19.3" ry="3.4" opacity="0.13"/>
<ellipse class="b" cx="342.2" cy="1589.4" rx="11.7" ry="3.3" opacity="0.09"/>
<ellipse class="b" cx="547.7" cy="1548.8" rx="11.7" ry="3" opacity="0.04"/>
<ellipse class="b" cx="498.4" cy="1619.5" rx="17.4" ry="3.3" opacity="0.11"/>
<ellipse class="b" cx="539.5" cy="1622.8" rx="15.5" ry="3.3" opacity="0.09"/>
<ellipse class="b" cx="517.5" cy="1616.8" rx="15.5" ry="3.2" opacity="0.06"/>
<ellipse class="b" cx="586" cy="1622.3" rx="15.5" ry="3.2" opacity="0.08"/>
<ellipse class="b" cx="544.9" cy="1641.4" rx="19.3" ry="3.5" opacity="0.15"/>
<ellipse class="b" cx="717.5" cy="1627.7" rx="28.9" ry="3.3" opacity="0.11"/>
<ellipse class="b" cx="495.6" cy="1657.9" rx="19.3" ry="3.2" opacity="0.06"/>
<ellipse class="b" cx="534" cy="1666.6" rx="19.3" ry="3.2" opacity="0.08"/>
<ellipse class="b" cx="523" cy="1674.3" rx="19.3" ry="3.5" opacity="0.15"/>
<ellipse class="b" cx="435.3" cy="1702.3" rx="17.4" ry="3.5" opacity="0.15"/>
<ellipse class="b" cx="309.3" cy="1693.5" rx="17.4" ry="3.2" opacity="0.06"/>
<ellipse class="b" cx="295.6" cy="1715.4" rx="21.3" ry="3.3" opacity="0.09"/>
<ellipse class="b" cx="388.8" cy="1696.8" rx="11.7" ry="3" opacity="0.04"/>
<ellipse class="b" cx="454.5" cy="1720.1" rx="11.7" ry="3.1" opacity="0.05"/>
<ellipse class="b" cx="755.9" cy="1690.8" rx="19.3" ry="3.3" opacity="0.09"/>
<ellipse class="b" cx="788.8" cy="1707.7" rx="15.5" ry="3.3" opacity="0.09"/>
<ellipse class="b" cx="799.7" cy="1723.6" rx="19.3" ry="5.9" opacity="0.26"/>
<ellipse class="b" cx="813.4" cy="1733.8" rx="13.6" ry="3.3" opacity="0.11"/>
<ellipse class="b" cx="361.4" cy="1742.8" rx="15.5" ry="3.4" opacity="0.13"/>
<ellipse class="b" cx="347.7" cy="1748.3" rx="19.3" ry="3.4" opacity="0.13"/>
<ellipse class="b" cx="353.2" cy="1735.1" rx="15.5" ry="3.2" opacity="0.06"/>
<ellipse class="b" cx="841.1" cy="1617.9" rx="27" ry="5" opacity="0.35"/>
<ellipse class="b" cx="843.8" cy="1629.7" rx="19.3" ry="3.9" opacity="0.29"/>
<ellipse class="b" cx="1106.8" cy="1702.8" rx="32.8" ry="5" opacity="0.35"/>
<ellipse class="b" cx="1024.7" cy="1700.9" rx="42.4" ry="3.6" opacity="0.16"/>
<ellipse class="b" cx="1046.6" cy="1687.2" rx="32.8" ry="3.6" opacity="0.16" transform="rotate(-8 1046.6 1687.2)"/>
<ellipse class="b" cx="1060.3" cy="1694" rx="42.4" ry="3.4" opacity="0.13" transform="rotate(-5 1060.3 1694)"/>
<ellipse class="b" cx="1115.1" cy="1685.8" rx="42.4" ry="3.3" opacity="0.11" transform="rotate(-5 1115.1 1685.8)"/>
<ellipse class="b" cx="1169.9" cy="1677.6" rx="27" ry="3.3" opacity="0.11" transform="rotate(-8 1169.9 1677.6)"/>
<ellipse class="b" cx="1142.5" cy="1696.8" rx="23.2" ry="3.3" opacity="0.09"/>
<ellipse class="b" cx="1227.4" cy="1682.5" rx="23.2" ry="3.4" opacity="0.13"/>
<ellipse class="b" cx="928.8" cy="1683.1" rx="19.3" ry="3.9" opacity="0.29"/>
<ellipse class="b" cx="931.5" cy="1694" rx="15.5" ry="3.6" opacity="0.16"/>
<ellipse class="b" cx="802.7" cy="1573.5" rx="13.6" ry="6.8" opacity="0.13"/>
<ellipse class="b" cx="846.6" cy="1577.6" rx="19.3" ry="3.9" opacity="0.29"/>
<ellipse class="b" cx="813.7" cy="1593.2" rx="17.4" ry="3.6" opacity="0.16"/>
<ellipse class="b" cx="819.2" cy="1599.5" rx="13.6" ry="3.3" opacity="0.09"/>
<ellipse class="b" cx="808.2" cy="1518.2" rx="15.5" ry="3.4" opacity="0.13"/>
<ellipse class="b" cx="876.7" cy="1555.7" rx="15.5" ry="3.3" opacity="0.09"/>
<ellipse class="b" cx="906.8" cy="1559.2" rx="17.4" ry="3.4" opacity="0.13"/>
<ellipse class="b" cx="898.6" cy="1521.4" rx="11.7" ry="3.2" opacity="0.06"/>
<ellipse class="b" cx="964.4" cy="1581.7" rx="15.5" ry="3.2" opacity="0.06"/>
<ellipse class="b" cx="967.1" cy="1589.9" rx="15.5" ry="3.2" opacity="0.08"/>
<ellipse class="b" cx="1012.3" cy="1610.5" rx="11.7" ry="3.2" opacity="0.06"/>
<ellipse class="b" cx="1139.7" cy="1552.9" rx="38.5" ry="4.1" opacity="0.33"/>
<ellipse class="b" cx="1227.4" cy="1553.8" rx="51.9" ry="3.8" opacity="0.26" transform="rotate(-2 1227.4 1553.8)"/>
<ellipse class="b" cx="1063" cy="1571.3" rx="23.2" ry="3.4" opacity="0.13" transform="rotate(-10 1063 1571.3)"/>
<ellipse class="b" cx="1104.1" cy="1599.5" rx="51.9" ry="3.4" opacity="0.13" transform="rotate(-6 1104.1 1599.5)"/>
<ellipse class="b" cx="1142.5" cy="1655.1" rx="15.5" ry="3.2" opacity="0.06"/>
<ellipse class="b" cx="1238.4" cy="1722" rx="38.5" ry="3.3" opacity="0.11" transform="rotate(5 1238.4 1722)"/>
<ellipse class="b" cx="1205.5" cy="1709.1" rx="32.8" ry="3.2" opacity="0.08"/>
<ellipse class="b" cx="1123.3" cy="1720.9" rx="15.5" ry="3.2" opacity="0.06"/>
<ellipse class="b" cx="805.5" cy="1724.2" rx="13.6" ry="4.1" opacity="0.08"/>
<ellipse class="b" cx="819.2" cy="1734.6" rx="15.5" ry="3.2" opacity="0.06"/>
<ellipse class="b" cx="1183.6" cy="1737.3" rx="15.5" ry="3.1" opacity="0.05"/>
<ellipse class="b" cx="1331.5" cy="1657.1" rx="11.7" ry="3" opacity="0.04"/>
<ellipse class="b" cx="1295.9" cy="1668.8" rx="13.6" ry="3" opacity="0.04"/>
<ellipse class="b" cx="991.8" cy="1657.9" rx="9.7" ry="3" opacity="0.04"/>
<ellipse class="b" cx="863" cy="1642" rx="14.6" ry="4.5" opacity="0.38" transform="rotate(35 863 1642)"/>
<ellipse class="b" cx="873.4" cy="1649.7" rx="12.6" ry="4.1" opacity="0.38" transform="rotate(35 873.4 1649.7)"/>
<ellipse class="b" cx="905.5" cy="1669.9" rx="13.6" ry="4.5" opacity="0.33" transform="rotate(35 905.5 1669.9)"/>
<ellipse class="b" cx="890.4" cy="1659.8" rx="13.6" ry="4.1" opacity="0.16" transform="rotate(35 890.4 1659.8)"/>
<ellipse class="b" cx="1856.8" cy="1594.9" rx="32.8" ry="4.5" opacity="0.38"/>
<ellipse class="b" cx="1876" cy="1563.1" rx="19.3" ry="3.9" opacity="0.29"/>
<ellipse class="b" cx="1881.5" cy="1638.7" rx="27" ry="4.5" opacity="0.33"/>
<ellipse class="b" cx="1876" cy="1631" rx="19.3" ry="3.9" opacity="0.29" transform="rotate(-15 1876 1631)"/>
<ellipse class="b" cx="1802.1" cy="1547.5" rx="51.9" ry="3.4" opacity="0.13" transform="rotate(5 1802.1 1547.5)"/>
<ellipse class="b" cx="1681.5" cy="1542" rx="17.4" ry="3.6" opacity="0.16"/>
<ellipse class="b" cx="1725.3" cy="1551.6" rx="23.2" ry="3.3" opacity="0.09"/>
<ellipse class="b" cx="1829.5" cy="1561.2" rx="32.8" ry="3.3" opacity="0.09"/>
<ellipse class="b" cx="1821.2" cy="1585" rx="19.3" ry="3.2" opacity="0.08"/>
<ellipse class="b" cx="1750" cy="1582" rx="30.9" ry="3.6" opacity="0.16"/>
<ellipse class="b" cx="1763.7" cy="1589.4" rx="15.5" ry="3.5" opacity="0.15" transform="rotate(-40 1763.7 1589.4)"/>
<ellipse class="b" cx="1706.2" cy="1592.7" rx="42.4" ry="3.6" opacity="0.16" transform="rotate(-8 1706.2 1592.7)"/>
<ellipse class="b" cx="1700.7" cy="1605.8" rx="28.9" ry="3.8" opacity="0.26" transform="rotate(-5 1700.7 1605.8)"/>
<ellipse class="b" cx="1640.4" cy="1598.7" rx="15.5" ry="3.3" opacity="0.09"/>
<ellipse class="b" cx="1613" cy="1606.4" rx="23.2" ry="3.3" opacity="0.11"/>
<ellipse class="b" cx="1541.8" cy="1614.6" rx="42.4" ry="4" opacity="0.32" transform="rotate(3 1541.8 1614.6)"/>
<ellipse class="b" cx="1569.2" cy="1620.1" rx="34.7" ry="4.2" opacity="0.35" transform="rotate(-15 1569.2 1620.1)"/>
<ellipse class="b" cx="1525.3" cy="1610.5" rx="32.8" ry="3.5" opacity="0.15"/>
<ellipse class="b" cx="1566.4" cy="1599.5" rx="17.4" ry="3.4" opacity="0.13"/>
<ellipse class="b" cx="1478.8" cy="1622.8" rx="27" ry="3.8" opacity="0.26"/>
<ellipse class="b" cx="1487" cy="1632.4" rx="15.5" ry="3.3" opacity="0.11"/>
<ellipse class="b" cx="1418.5" cy="1611.8" rx="13.6" ry="3.1" opacity="0.05"/>
<ellipse class="b" cx="1456.8" cy="1576.2" rx="32.8" ry="3.4" opacity="0.13"/>
<ellipse class="b" cx="1443.2" cy="1555.1" rx="11.7" ry="3" opacity="0.04"/>
<ellipse class="b" cx="1491.1" cy="1554.3" rx="9.7" ry="3" opacity="0.04"/>
<ellipse class="b" cx="1643.2" cy="1648.8" rx="17.4" ry="3.8" opacity="0.26"/>
<ellipse class="b" cx="1644.5" cy="1662" rx="21.3" ry="3.6" opacity="0.16"/>
<ellipse class="b" cx="1558.2" cy="1655.7" rx="27" ry="3.4" opacity="0.13" transform="rotate(-5 1558.2 1655.7)"/>
<ellipse class="b" cx="1596.6" cy="1652.4" rx="15.5" ry="3.3" opacity="0.09"/>
<ellipse class="b" cx="1443.2" cy="1652.4" rx="19.3" ry="3.3" opacity="0.09" transform="rotate(-10 1443.2 1652.4)"/>
<ellipse class="b" cx="1418.5" cy="1657.9" rx="19.3" ry="3.2" opacity="0.06"/>
<ellipse class="b" cx="1415.8" cy="1646.1" rx="11.7" ry="3.1" opacity="0.05"/>
<ellipse class="b" cx="1571.9" cy="1673.5" rx="17.4" ry="3.2" opacity="0.06"/>
<ellipse class="b" cx="1604.8" cy="1681.7" rx="11.7" ry="3.2" opacity="0.06"/>
<ellipse class="b" cx="1763.7" cy="1685.8" rx="15.5" ry="3" opacity="0.04"/>
<ellipse class="b" cx="1443.2" cy="1701.4" rx="17.4" ry="3.3" opacity="0.11"/>
<ellipse class="b" cx="1418.5" cy="1742" rx="27" ry="3.3" opacity="0.11"/>
<ellipse class="b" cx="1481.5" cy="1728.3" rx="11.7" ry="3" opacity="0.03"/>
<ellipse class="b" cx="1876" cy="1718.7" rx="11.7" ry="3" opacity="0.03"/>
<ellipse class="b" cx="1305" cy="1411.2" rx="31.2" ry="3.4" opacity="0.02" transform="rotate(6 1305 1411.2)"/>
<ellipse class="b" cx="668.4" cy="1685.6" rx="42.7" ry="3.3" opacity="0.06"/>
<ellipse class="b" cx="468.6" cy="1421.1" rx="24.6" ry="3.2" opacity="0.02" transform="rotate(8 468.6 1421.1)"/>
<ellipse class="b" cx="1382.3" cy="1679.5" rx="19.3" ry="2.4" opacity="0.04"/>
<ellipse class="b" cx="717" cy="1363.3" rx="35.8" ry="3.4" opacity="0.03" transform="rotate(-5 717 1363.3)"/>
<ellipse class="b" cx="1061" cy="1269.1" rx="38.9" ry="2.3" opacity="0.03"/>
<ellipse class="b" cx="1152.6" cy="1480.5" rx="42.7" ry="3.5" opacity="0.04"/>
<ellipse class="b" cx="1713" cy="1717.6" rx="24.8" ry="2.7" opacity="0.06" transform="rotate(6 1713 1717.6)"/>
<ellipse class="b" cx="1698.2" cy="1733" rx="17.2" ry="2.5" opacity="0.03" transform="rotate(-3 1698.2 1733)"/>
<ellipse class="b" cx="1831.4" cy="1710.2" rx="44.6" ry="3.3" opacity="0.06"/>
<ellipse class="b" cx="1844.5" cy="1669.4" rx="40.4" ry="3.3" opacity="0.06" transform="rotate(-3 1844.5 1669.4)"/>
<ellipse class="b" cx="1287.8" cy="1615.8" rx="19.3" ry="3.1" opacity="0.03"/>
<ellipse class="b" cx="278.6" cy="1721.9" rx="43.5" ry="2.9" opacity="0.04"/>
<ellipse class="b" cx="1541.4" cy="1550.9" rx="33" ry="2.8" opacity="0.04" transform="rotate(-3 1541.4 1550.9)"/>
<ellipse class="b" cx="1277.4" cy="1423.6" rx="26.4" ry="3.3" opacity="0.03" transform="rotate(-5 1277.4 1423.6)"/>
<ellipse class="b" cx="1635.2" cy="1390.3" rx="32.1" ry="3" opacity="0.02" transform="rotate(-5 1635.2 1390.3)"/>
<ellipse class="b" cx="1018.5" cy="1575.8" rx="17.3" ry="2.6" opacity="0.02" transform="rotate(-3 1018.5 1575.8)"/>
<ellipse class="b" cx="1202.1" cy="1730.9" rx="39" ry="3.6" opacity="0.03" transform="rotate(6 1202.1 1730.9)"/>
<ellipse class="b" cx="1320.3" cy="1730.4" rx="40.4" ry="3.2" opacity="0.02"/>
<ellipse class="b" cx="727.5" cy="1451.8" rx="29.4" ry="3.4" opacity="0.04" transform="rotate(6 727.5 1451.8)"/>
<ellipse class="b" cx="992.2" cy="1459" rx="39.2" ry="3.4" opacity="0.02"/>
<ellipse class="b" cx="436.6" cy="1355.3" rx="43.4" ry="3.3" opacity="0.06"/>
<ellipse class="b" cx="1735.4" cy="1523.1" rx="33.9" ry="3" opacity="0.04" transform="rotate(-5 1735.4 1523.1)"/>
<ellipse class="b" cx="1154.9" cy="1402.3" rx="43.5" ry="2.3" opacity="0.03" transform="rotate(3 1154.9 1402.3)"/>
<ellipse class="b" cx="291.2" cy="1415.3" rx="38.1" ry="3.4" opacity="0.03"/>
<ellipse class="b" cx="1791.3" cy="1435.2" rx="17.5" ry="3.3" opacity="0.03" transform="rotate(8 1791.3 1435.2)"/>
<ellipse class="b" cx="566.4" cy="1515.3" rx="41.6" ry="3" opacity="0.03" transform="rotate(6 566.4 1515.3)"/>
<ellipse class="b" cx="1352.8" cy="1654.9" rx="44.9" ry="3.1" opacity="0.04" transform="rotate(8 1352.8 1654.9)"/>
<ellipse class="b" cx="1472.8" cy="1591.1" rx="45.6" ry="3.1" opacity="0.02" transform="rotate(6 1472.8 1591.1)"/>
<ellipse class="b" cx="1445.2" cy="1453.3" rx="25.6" ry="3.4" opacity="0.04" transform="rotate(-5 1445.2 1453.3)"/>
<ellipse class="b" cx="875.6" cy="1411.3" rx="26.2" ry="2.5" opacity="0.04" transform="rotate(3 875.6 1411.3)"/>
<ellipse class="b" cx="1664.5" cy="1353.6" rx="31.1" ry="2.5" opacity="0.02"/>
<ellipse class="b" cx="1288.7" cy="1405.2" rx="32.3" ry="3.3" opacity="0.03" transform="rotate(-5 1288.7 1405.2)"/>
<ellipse class="b" cx="286.6" cy="1572.6" rx="26.5" ry="2.9" opacity="0.04" transform="rotate(-3 286.6 1572.6)"/>
<ellipse class="b" cx="1447.8" cy="1348.1" rx="37.7" ry="3.1" opacity="0.06"/>
<ellipse class="b" cx="1697.6" cy="1625.1" rx="40.2" ry="3.5" opacity="0.03" transform="rotate(-5 1697.6 1625.1)"/>
<ellipse class="b" cx="1724.5" cy="1439.1" rx="38.9" ry="3.1" opacity="0.06"/>
<ellipse class="b" cx="1556.2" cy="1737.5" rx="19.5" ry="3.3" opacity="0.03" transform="rotate(6 1556.2 1737.5)"/>
<ellipse class="b" cx="1073.5" cy="1599.5" rx="27.7" ry="2.4" opacity="0.04"/>
<ellipse class="b" cx="1600.2" cy="1338.9" rx="39.3" ry="3.2" opacity="0.02"/>
</g>
<g filter="url(#bl)">
<linearGradient id="r25" gradientUnits="userSpaceOnUse" x1="254.5" y1="0" x2="542.2" y2="0"><stop offset="0.0000" stop-color="#fff" stop-opacity="0.63"/><stop offset="0.0476" stop-color="#fff" stop-opacity="0.63"/><stop offset="0.1620" stop-color="#fff" stop-opacity="0.58"/><stop offset="0.2381" stop-color="#fff" stop-opacity="0.53"/><stop offset="0.3525" stop-color="#fff" stop-opacity="0.68"/><stop offset="0.4286" stop-color="#fff" stop-opacity="0.79"/><stop offset="0.5144" stop-color="#fff" stop-opacity="0.58"/><stop offset="0.5905" stop-color="#fff" stop-opacity="0.65"/><stop offset="0.6667" stop-color="#fff" stop-opacity="0.65"/><stop offset="0.7428" stop-color="#fff" stop-opacity="0.53"/><stop offset="0.8095" stop-color="#fff" stop-opacity="0.53"/><stop offset="0.8763" stop-color="#fff" stop-opacity="0.63"/><stop offset="0.9524" stop-color="#fff" stop-opacity="0.53"/><stop offset="1.0000" stop-color="#fff" stop-opacity="0.00"/></linearGradient><path class="r" d="M254.5 1333.4L268.2 1334L301.1 1335.3L323 1338.1L355.9 1339.5L377.8 1339.5L402.5 1343.6L424.4 1344.9L446.3 1344.9L468.2 1346.3L487.4 1349.9L506.6 1351.8L528.5 1353.2L542.2 1354.8" stroke="url(#r25)" stroke-width="6"/>
<linearGradient id="r26" gradientUnits="userSpaceOnUse" x1="512.1" y1="0" x2="690.1" y2="0"><stop offset="0.0000" stop-color="#fff" stop-opacity="0.00"/><stop offset="0.1230" stop-color="#fff" stop-opacity="0.56"/><stop offset="0.2152" stop-color="#fff" stop-opacity="0.73"/><stop offset="0.3230" stop-color="#fff" stop-opacity="0.62"/><stop offset="0.4309" stop-color="#fff" stop-opacity="0.68"/><stop offset="0.5539" stop-color="#fff" stop-opacity="0.79"/><stop offset="0.6461" stop-color="#fff" stop-opacity="0.96"/><stop offset="0.7691" stop-color="#fff" stop-opacity="0.79"/><stop offset="0.8618" stop-color="#fff" stop-opacity="1.00"/><stop offset="0.9539" stop-color="#fff" stop-opacity="0.79"/><stop offset="1.0000" stop-color="#fff" stop-opacity="0.00"/></linearGradient><path class="r" d="M512.1 1434L534 1437.5L550.4 1438.1L569.6 1436.7L588.8 1432.1L610.7 1430.4L627.1 1432.6L649 1433.2L665.5 1435.3L681.9 1435.9L690.1 1437.5" stroke="url(#r26)" stroke-width="5.1"/>
<linearGradient id="r27" gradientUnits="userSpaceOnUse" x1="657.3" y1="0" x2="786" y2="0"><stop offset="0.0000" stop-color="#fff" stop-opacity="0.00"/><stop offset="0.0847" stop-color="#fff" stop-opacity="0.34"/><stop offset="0.1911" stop-color="#fff" stop-opacity="0.40"/><stop offset="0.3193" stop-color="#fff" stop-opacity="0.42"/><stop offset="0.4040" stop-color="#fff" stop-opacity="0.38"/><stop offset="0.4895" stop-color="#fff" stop-opacity="0.36"/><stop offset="0.5742" stop-color="#fff" stop-opacity="0.34"/><stop offset="0.6387" stop-color="#fff" stop-opacity="0.34"/><stop offset="0.7234" stop-color="#fff" stop-opacity="0.30"/><stop offset="0.8089" stop-color="#fff" stop-opacity="0.30"/><stop offset="0.9153" stop-color="#fff" stop-opacity="0.30"/><stop offset="1.0000" stop-color="#fff" stop-opacity="0.00"/></linearGradient><path class="r" d="M657.3 1442.2L668.2 1449L681.9 1455.9L698.4 1462.7L709.3 1471L720.3 1481.9L731.2 1492.9L739.5 1501.1L750.4 1510.7L761.4 1523L775.1 1534L786 1542.2" stroke="url(#r27)" stroke-width="19"/>
<linearGradient id="r28" gradientUnits="userSpaceOnUse" x1="802.5" y1="0" x2="829.9" y2="0"><stop offset="0.0000" stop-color="#fff" stop-opacity="0.00"/><stop offset="0.5000" stop-color="#fff" stop-opacity="0.51"/><stop offset="1.0000" stop-color="#fff" stop-opacity="0.59"/></linearGradient><path class="r" d="M802.5 1489.6L816.2 1491.5L829.9 1493.4" stroke="url(#r28)" stroke-width="6"/>
<linearGradient id="r29" gradientUnits="userSpaceOnUse" x1="783.6" y1="0" x2="1372.6" y2="0"><stop offset="0.0000" stop-color="#fff" stop-opacity="0.58"/><stop offset="0.0278" stop-color="#fff" stop-opacity="0.58"/><stop offset="0.0744" stop-color="#fff" stop-opacity="0.78"/><stop offset="0.1209" stop-color="#fff" stop-opacity="0.63"/><stop offset="0.1581" stop-color="#fff" stop-opacity="0.88"/><stop offset="0.2139" stop-color="#fff" stop-opacity="0.58"/><stop offset="0.2465" stop-color="#fff" stop-opacity="0.35"/><stop offset="0.2837" stop-color="#fff" stop-opacity="0.54"/><stop offset="0.3302" stop-color="#fff" stop-opacity="0.68"/><stop offset="0.3767" stop-color="#fff" stop-opacity="0.76"/><stop offset="0.4233" stop-color="#fff" stop-opacity="0.54"/><stop offset="0.4698" stop-color="#fff" stop-opacity="0.49"/><stop offset="0.5163" stop-color="#fff" stop-opacity="0.54"/><stop offset="0.5628" stop-color="#fff" stop-opacity="0.54"/><stop offset="0.6326" stop-color="#fff" stop-opacity="0.63"/><stop offset="0.7024" stop-color="#fff" stop-opacity="0.73"/><stop offset="0.7722" stop-color="#fff" stop-opacity="0.88"/><stop offset="0.8187" stop-color="#fff" stop-opacity="0.93"/><stop offset="0.9115" stop-color="#fff" stop-opacity="0.95"/><stop offset="0.9535" stop-color="#fff" stop-opacity="0.90"/><stop offset="1.0000" stop-color="#fff" stop-opacity="0.00"/></linearGradient><path class="r" d="M783.6 1489.6L800 1490.1L827.4 1490.1L854.8 1494.2L876.7 1496.2L909.6 1498.4L928.8 1501.1L950.7 1502.5L978.1 1501.6L1005.5 1501.1L1032.9 1499.7L1060.3 1497L1087.7 1495.6L1115.1 1492.9L1156.2 1490.7L1197.3 1487.9L1238.4 1486L1265.8 1485.2L1320.5 1484.7L1345.2 1484.4L1372.6 1483.8" stroke="url(#r29)" stroke-width="8.1"/>
<linearGradient id="r30" gradientUnits="userSpaceOnUse" x1="835.2" y1="0" x2="917.4" y2="0"><stop offset="0.0000" stop-color="#fff" stop-opacity="0.00"/><stop offset="0.1436" stop-color="#fff" stop-opacity="0.55"/><stop offset="0.3333" stop-color="#fff" stop-opacity="0.55"/><stop offset="0.5243" stop-color="#fff" stop-opacity="0.50"/><stop offset="0.7141" stop-color="#fff" stop-opacity="0.44"/><stop offset="0.9051" stop-color="#fff" stop-opacity="0.33"/><stop offset="1.0000" stop-color="#fff" stop-opacity="0.00"/></linearGradient><path class="r" d="M835.2 1489.7L847 1490.7L862.6 1492.1L878.3 1493.8L893.9 1495.6L909.6 1497.4L917.4 1498.4" stroke="url(#r30)" stroke-width="6"/>
<linearGradient id="r31" gradientUnits="userSpaceOnUse" x1="1344.5" y1="0" x2="1900.7" y2="0"><stop offset="0.0000" stop-color="#fff" stop-opacity="0.00"/><stop offset="0.0493" stop-color="#fff" stop-opacity="0.85"/><stop offset="0.0690" stop-color="#fff" stop-opacity="0.60"/><stop offset="0.0838" stop-color="#fff" stop-opacity="0.45"/><stop offset="0.1577" stop-color="#fff" stop-opacity="0.37"/><stop offset="0.2316" stop-color="#fff" stop-opacity="0.37"/><stop offset="0.3055" stop-color="#fff" stop-opacity="0.45"/><stop offset="0.3794" stop-color="#fff" stop-opacity="0.58"/><stop offset="0.4533" stop-color="#fff" stop-opacity="0.65"/><stop offset="0.5025" stop-color="#fff" stop-opacity="0.68"/><stop offset="0.5518" stop-color="#fff" stop-opacity="0.55"/><stop offset="0.6257" stop-color="#fff" stop-opacity="0.55"/><stop offset="0.6996" stop-color="#fff" stop-opacity="0.68"/><stop offset="0.7242" stop-color="#fff" stop-opacity="0.60"/><stop offset="0.7488" stop-color="#fff" stop-opacity="0.55"/><stop offset="0.8227" stop-color="#fff" stop-opacity="0.68"/><stop offset="0.8966" stop-color="#fff" stop-opacity="0.68"/><stop offset="0.9457" stop-color="#fff" stop-opacity="0.72"/><stop offset="1.0000" stop-color="#fff" stop-opacity="0.70"/></linearGradient><path class="r" d="M1344.5 1483.6L1371.9 1483L1382.9 1482.5L1391.1 1481.4L1432.2 1480L1473.3 1479.2L1514.4 1478.6L1555.5 1477.3L1596.6 1476.4L1624 1477.8L1651.4 1478.6L1692.5 1478.6L1733.6 1479.2L1747.3 1479.7L1761 1481.4L1802.1 1482.5L1843.2 1484.7L1870.5 1486.8L1900.7 1487.9" stroke="url(#r31)" stroke-width="7.2"/>
<linearGradient id="r32" gradientUnits="userSpaceOnUse" x1="835.6" y1="0" x2="942.5" y2="0"><stop offset="0.0000" stop-color="#fff" stop-opacity="0.00"/><stop offset="0.1029" stop-color="#fff" stop-opacity="0.34"/><stop offset="0.2311" stop-color="#fff" stop-opacity="0.44"/><stop offset="0.3330" stop-color="#fff" stop-opacity="0.46"/><stop offset="0.4874" stop-color="#fff" stop-opacity="0.42"/><stop offset="0.6408" stop-color="#fff" stop-opacity="0.45"/><stop offset="0.7689" stop-color="#fff" stop-opacity="0.36"/><stop offset="0.8718" stop-color="#fff" stop-opacity="0.26"/><stop offset="0.9486" stop-color="#fff" stop-opacity="0.16"/><stop offset="1.0000" stop-color="#fff" stop-opacity="0.00"/></linearGradient><path class="r" d="M835.6 1633.8L846.6 1636.5L860.3 1641.2L871.2 1648.8L887.7 1658.4L904.1 1669.4L917.8 1677.6L928.8 1684.5L937 1691.3L942.5 1695.4" stroke="url(#r32)" stroke-width="15"/>
<linearGradient id="r33" gradientUnits="userSpaceOnUse" x1="917.8" y1="0" x2="1093.2" y2="0"><stop offset="0.0000" stop-color="#fff" stop-opacity="0.00"/><stop offset="0.1095" stop-color="#fff" stop-opacity="0.23"/><stop offset="0.2657" stop-color="#fff" stop-opacity="0.27"/><stop offset="0.4219" stop-color="#fff" stop-opacity="0.27"/><stop offset="0.5781" stop-color="#fff" stop-opacity="0.33"/><stop offset="0.7030" stop-color="#fff" stop-opacity="0.33"/><stop offset="0.8278" stop-color="#fff" stop-opacity="0.27"/><stop offset="0.9373" stop-color="#fff" stop-opacity="0.18"/><stop offset="1.0000" stop-color="#fff" stop-opacity="0.00"/></linearGradient><path class="r" d="M917.8 1691.3L937 1702.3L964.4 1706.4L991.8 1708.3L1019.2 1709.1L1041.1 1712.7L1063 1711.8L1082.2 1709.1L1093.2 1707.7" stroke="url(#r33)" stroke-width="7"/>
<linearGradient id="r34" gradientUnits="userSpaceOnUse" x1="1755.5" y1="0" x2="1891.1" y2="0"><stop offset="0.0000" stop-color="#fff" stop-opacity="0.00"/><stop offset="0.1209" stop-color="#fff" stop-opacity="0.36"/><stop offset="0.2824" stop-color="#fff" stop-opacity="0.38"/><stop offset="0.4447" stop-color="#fff" stop-opacity="0.47"/><stop offset="0.5656" stop-color="#fff" stop-opacity="0.53"/><stop offset="0.6667" stop-color="#fff" stop-opacity="0.74"/><stop offset="0.7677" stop-color="#fff" stop-opacity="0.97"/><stop offset="0.8687" stop-color="#fff" stop-opacity="0.74"/><stop offset="0.9491" stop-color="#fff" stop-opacity="0.38"/><stop offset="1.0000" stop-color="#fff" stop-opacity="0.00"/></linearGradient><path class="r" d="M1755.5 1606.9L1771.9 1608.6L1793.8 1609.1L1815.8 1607.7L1832.2 1611.8L1845.9 1617.3L1859.6 1617.9L1873.3 1617.3L1884.2 1616L1891.1 1616" stroke="url(#r34)" stroke-width="6"/>
</g>
</g>
<use href="#dem" class="dem" y="1265.2"/>
</g>
<rect x="264" y="1264.4" width="1635.8" height="487.2" fill="none" stroke="#262626" stroke-width="2.5" stroke-linejoin="round"/>
<path d="M536.6 1264.4v15M536.6 1751.6v-15M809.3 1264.4v15M809.3 1751.6v-15M1081.9 1264.4v15M1081.9 1751.6v-15M1354.5 1264.4v15M1354.5 1751.6v-15M1627.2 1264.4v15M1627.2 1751.6v-15M264 1276.8h16M1899.8 1276.8h-16M264 1412.8h16M1899.8 1412.8h-16M264 1548.8h16M1899.8 1548.8h-16M264 1684.8h16M1899.8 1684.8h-16" stroke="#262626" stroke-width="1.7" fill="none" opacity="0.85"/>
<text class="tk" text-anchor="end" transform="translate(234.3 1305.2) scale(1 1.05)">3150</text>
<text class="tk" text-anchor="end" transform="translate(234.3 1442.2) scale(1 1.05)">3100</text>
<text class="tk" text-anchor="end" transform="translate(234.3 1579.2) scale(1 1.05)">3050</text>
<text class="tk" text-anchor="end" transform="translate(234.3 1716.2) scale(1 1.05)">3000</text>
<text class="tt" text-anchor="middle" transform="translate(1097.8 1241) scale(1 1.03)">3D TomoSAR - Direction 1</text>
<text class="lb" text-anchor="middle" transform="translate(70.9 1507.5) rotate(-90)">height [m]</text>
</g>
<text class="tk" text-anchor="middle" transform="translate(260.4 1846.8) scale(1 1.05)">600</text>
<text class="tk" text-anchor="middle" transform="translate(533 1846.8) scale(1 1.05)">700</text>
<text class="tk" text-anchor="middle" transform="translate(805.7 1846.8) scale(1 1.05)">800</text>
<text class="tk" text-anchor="middle" transform="translate(1078.3 1846.8) scale(1 1.05)">900</text>
<text class="tk" text-anchor="middle" transform="translate(1350.9 1846.8) scale(1 1.05)">1000</text>
<text class="tk" text-anchor="middle" transform="translate(1623.6 1846.8) scale(1 1.05)">1100</text>
<text class="tk" text-anchor="middle" transform="translate(1896.2 1846.8) scale(1 1.05)">1200</text>
<text class="xl" x="1090.6" y="1937" text-anchor="middle">ground range [m]</text>
<g id="colorbar"><rect x="2023" y="1264.5" width="100" height="487.5" fill="url(#cbg)" stroke="#262626" stroke-width="2.5" stroke-linejoin="round"/>
<path d="M2123 1264.5h-5M2123 1427h-5M2123 1589.5h-5M2123 1752h-5" stroke="#262626" stroke-width="2"/>
<text class="cb" transform="translate(2145 1287.7) scale(1 1.05)">0</text>
<text class="cb" transform="translate(2145 1450.2) scale(1 1.05)">-2</text>
<text class="cb" transform="translate(2145 1612.7) scale(1 1.05)">-4</text>
<text class="cb" transform="translate(2145 1775.2) scale(1 1.05)">-6</text>
<text class="cb" x="2072" y="1234" text-anchor="middle">[dB]</text></g>
</svg></body></html>
